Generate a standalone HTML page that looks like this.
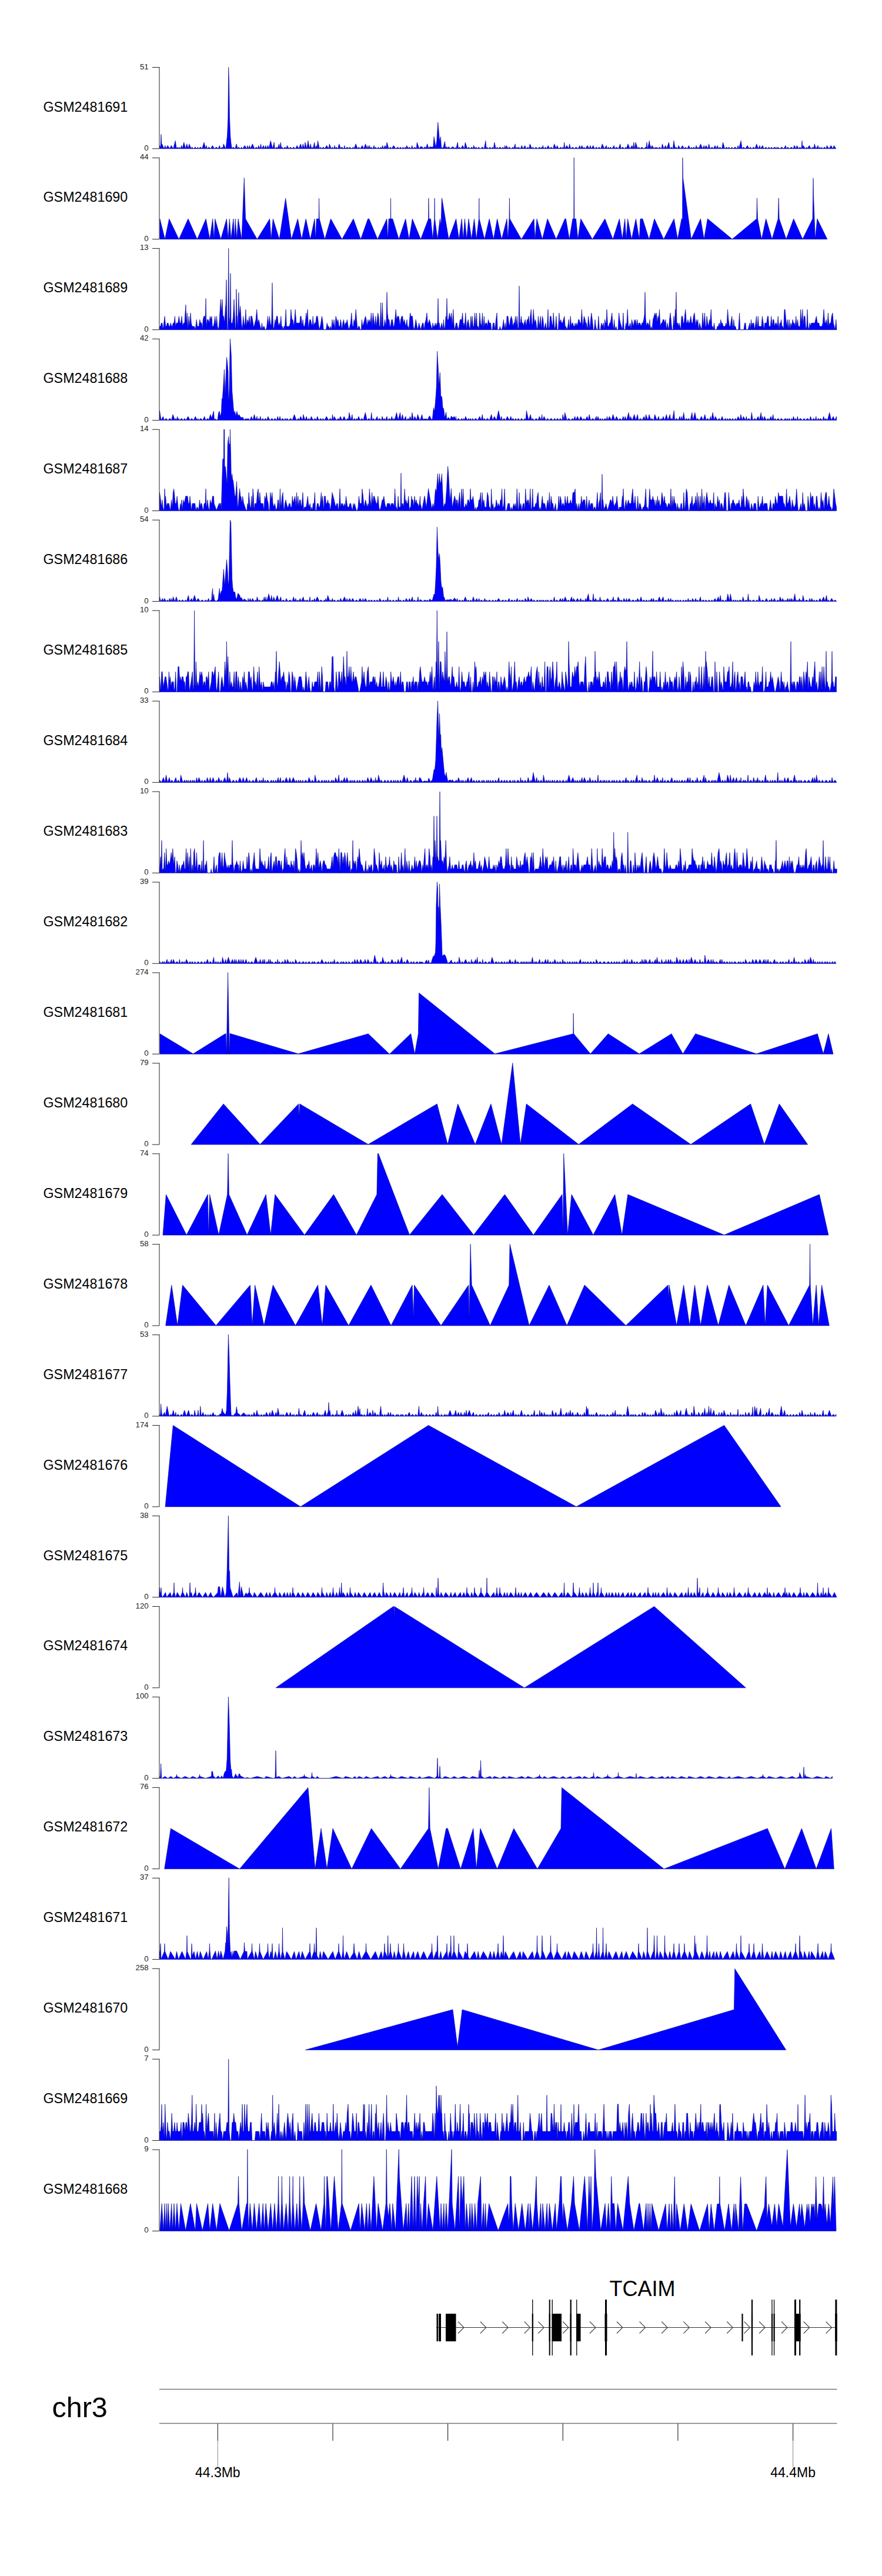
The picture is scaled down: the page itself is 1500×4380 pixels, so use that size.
<!DOCTYPE html><html><head><meta charset="utf-8"><style>html,body{margin:0;padding:0;background:#fff;}svg{display:block;}text{font-family:"Liberation Sans",sans-serif;}</style></head><body>
<svg width="1500" height="4380" viewBox="0 0 1500 4380">
<rect width="1500" height="4380" fill="#fff"/>
<path d="M271.5,252.8 L271.5,247.4 L273.0,250.6 L274.0,228.4 L275.0,247.4 L275.5,244.7 L279.0,252.8 L281.0,247.4 L282.2,252.8 L285.2,247.4 L288.7,252.8 L291.2,247.4 L294.7,252.8 L298.2,239.2 L300.2,252.8 L301.7,250.1 L303.2,252.8 L304.7,250.1 L306.7,252.8 L308.7,247.4 L310.2,252.8 L312.7,242.0 L315.7,252.8 L317.7,244.7 L320.2,252.8 L321.7,244.7 L325.2,252.8 L326.4,250.1 L329.4,252.8 L331.9,250.1 L334.9,252.8 L336.4,250.1 L337.6,252.8 L341.1,250.1 L343.6,252.8 L347.1,242.0 L349.6,252.8 L351.1,247.4 L352.3,252.8 L355.3,250.1 L358.3,252.8 L361.3,247.4 L364.8,252.8 L367.8,250.1 L371.3,252.8 L373.3,247.4 L375.3,252.8 L377.8,250.1 L379.0,252.8 L380.2,244.7 L383.7,252.8 L384.0,252.8 L385.5,240.0 L386.5,231.0 L387.8,201.0 L388.7,114.5 L389.6,140.0 L390.5,201.0 L391.8,232.0 L393.0,244.0 L394.5,252.8 L396.7,250.1 L399.7,252.8 L402.2,244.7 L404.2,252.8 L405.7,250.1 L408.7,252.8 L410.7,250.1 L412.7,252.8 L416.2,247.4 L419.7,252.8 L420.9,247.4 L422.4,252.8 L424.4,247.4 L425.9,252.8 L429.4,244.7 L432.9,252.8 L435.9,250.1 L438.4,252.8 L439.6,247.4 L442.1,252.8 L443.6,244.7 L444.8,252.8 L448.3,247.4 L449.5,252.8 L452.0,247.4 L453.2,252.8 L455.7,247.4 L457.2,252.8 L460.2,239.2 L463.7,252.8 L466.2,242.0 L467.4,252.8 L470.9,250.1 L472.1,252.8 L474.6,244.7 L475.8,252.8 L477.3,242.0 L478.8,252.8 L480.0,250.1 L481.5,252.8 L485.0,250.1 L487.0,252.8 L488.2,247.4 L491.7,252.8 L494.2,250.1 L496.7,252.8 L499.2,250.1 L502.7,252.8 L505.2,247.4 L508.2,252.8 L511.2,244.7 L513.7,252.8 L515.2,244.7 L517.7,252.8 L518.9,242.0 L521.9,252.8 L523.9,239.2 L526.4,252.8 L528.4,244.7 L529.6,252.8 L531.1,250.1 L532.3,252.8 L534.8,242.0 L536.0,252.8 L538.0,247.4 L539.2,252.8 L540.4,239.2 L543.4,252.8 L545.4,250.1 L546.6,252.8 L550.1,250.1 L552.1,252.8 L555.6,247.4 L559.1,252.8 L560.3,244.7 L563.3,252.8 L565.3,250.1 L567.8,252.8 L569.0,247.4 L570.5,252.8 L571.7,250.1 L574.7,252.8 L576.7,244.7 L579.7,252.8 L581.2,250.1 L584.7,252.8 L585.9,247.4 L587.1,252.8 L590.6,250.1 L593.1,252.8 L594.6,250.1 L598.1,252.8 L600.6,250.1 L602.1,252.8 L605.1,244.7 L608.1,252.8 L610.1,250.1 L612.6,252.8 L616.1,247.4 L618.6,252.8 L621.6,244.7 L624.6,252.8 L625.8,247.4 L627.3,252.8 L628.5,247.4 L630.0,252.8 L631.2,250.1 L633.7,252.8 L636.2,247.4 L637.4,252.8 L638.6,250.1 L641.1,252.8 L643.6,250.1 L645.1,252.8 L647.6,250.1 L648.8,252.8 L650.8,247.4 L652.0,252.8 L655.0,247.4 L656.5,252.8 L658.0,242.0 L661.0,252.8 L664.0,250.1 L666.0,252.8 L669.5,247.4 L673.0,252.8 L676.5,250.1 L679.0,252.8 L681.0,250.1 L683.5,252.8 L685.5,250.1 L687.5,252.8 L689.0,250.1 L690.2,252.8 L691.7,247.4 L694.7,252.8 L695.9,250.1 L699.4,252.8 L700.6,247.4 L702.6,252.8 L705.6,250.1 L708.1,252.8 L709.3,242.0 L712.8,252.8 L715.0,249.4 L717.7,249.4 L720.4,252.4 L722.5,249.4 L724.5,252.1 L726.6,244.6 L728.9,252.1 L731.3,249.4 L733.4,250.1 L735.4,250.1 L736.8,249.4 L738.0,232.4 L741.2,250.7 L742.9,238.5 L744.8,207.9 L747.0,233.1 L748.0,241.2 L749.4,232.4 L750.4,249.4 L752.1,252.1 L754.1,250.1 L756.4,240.5 L757.9,251.4 L759.6,249.4 L761.3,252.1 L763.0,249.4 L766.0,252.4 L769.8,249.4 L773.5,252.1 L775.0,250.7 L775.7,252.8 L778.2,242.0 L779.7,252.8 L781.7,250.1 L783.7,252.8 L786.7,247.4 L789.7,252.8 L791.2,242.0 L794.7,252.8 L797.2,250.1 L799.2,252.8 L802.2,250.1 L804.2,252.8 L805.7,247.4 L808.2,252.8 L809.4,250.1 L812.4,252.8 L813.9,250.1 L816.9,252.8 L820.4,250.1 L823.4,252.8 L825.9,239.2 L827.1,252.8 L828.3,250.1 L830.8,252.8 L833.3,250.1 L835.8,252.8 L837.3,250.1 L839.3,252.8 L840.8,242.0 L843.3,252.8 L845.8,250.1 L847.0,252.8 L850.5,250.1 L853.5,252.8 L855.0,250.1 L857.5,252.8 L858.7,247.4 L859.9,252.8 L861.4,247.4 L863.9,252.8 L865.9,250.1 L869.4,252.8 L872.4,250.1 L873.6,252.8 L876.1,244.7 L877.3,252.8 L879.3,250.1 L880.5,252.8 L881.7,250.1 L885.2,252.8 L887.2,247.4 L889.7,252.8 L892.7,247.4 L894.7,252.8 L897.7,250.1 L899.7,252.8 L901.2,244.7 L904.7,252.8 L906.2,250.1 L908.7,252.8 L911.7,250.1 L914.2,252.8 L917.7,250.1 L919.2,252.8 L920.7,250.1 L921.9,252.8 L923.1,247.4 L925.1,252.8 L927.6,250.1 L929.6,252.8 L932.1,247.4 L935.1,252.8 L937.1,250.1 L940.6,252.8 L942.6,244.7 L946.1,252.8 L947.3,247.4 L950.3,252.8 L953.8,250.1 L955.8,252.8 L957.3,250.1 L958.5,252.8 L959.7,242.0 L960.9,252.8 L963.9,247.4 L967.4,252.8 L968.6,244.7 L970.6,252.8 L974.1,250.1 L976.6,252.8 L979.6,250.1 L983.1,252.8 L986.1,247.4 L987.3,252.8 L989.8,247.4 L991.8,252.8 L993.3,250.1 L995.8,252.8 L998.8,247.4 L1002.3,252.8 L1003.8,247.4 L1005.8,252.8 L1008.8,247.4 L1011.3,252.8 L1014.3,250.1 L1016.3,252.8 L1018.8,250.1 L1021.8,252.8 L1024.3,244.7 L1027.8,252.8 L1031.3,247.4 L1032.5,252.8 L1035.0,250.1 L1036.2,252.8 L1038.2,250.1 L1040.7,252.8 L1044.2,247.4 L1045.7,252.8 L1048.2,250.1 L1051.7,252.8 L1054.7,244.7 L1056.2,252.8 L1058.7,250.1 L1062.2,252.8 L1064.2,250.1 L1065.4,252.8 L1067.9,244.7 L1071.4,252.8 L1074.9,247.4 L1076.4,252.8 L1077.9,242.0 L1079.4,252.8 L1080.0,250.8 L1081.0,242.0 L1082.0,245.0 L1084.4,252.8 L1086.4,250.1 L1088.9,252.8 L1091.4,250.1 L1094.9,252.8 L1098.4,250.1 L1099.0,250.6 L1100.0,242.0 L1101.0,252.4 L1101.4,252.8 L1104.4,239.2 L1105.9,252.8 L1107.1,247.4 L1108.3,252.8 L1109.5,247.4 L1112.0,252.8 L1114.5,250.1 L1115.7,252.8 L1116.9,250.1 L1119.4,252.8 L1121.4,250.1 L1124.9,252.8 L1126.4,244.7 L1128.9,252.8 L1131.9,247.4 L1133.9,252.8 L1137.4,242.0 L1139.4,252.8 L1141.9,250.1 L1144.4,252.8 L1145.9,239.2 L1148.4,252.8 L1149.6,250.1 L1152.6,252.8 L1153.8,247.4 L1157.3,252.8 L1160.8,247.4 L1163.3,252.8 L1165.3,250.1 L1168.8,252.8 L1171.3,247.4 L1174.3,252.8 L1176.3,250.1 L1177.5,252.8 L1180.0,250.1 L1182.5,252.8 L1184.0,247.4 L1186.0,252.8 L1187.2,250.1 L1188.4,252.8 L1191.4,244.7 L1194.9,252.8 L1197.4,247.4 L1198.6,252.8 L1200.6,247.4 L1204.1,252.8 L1205.6,244.7 L1207.6,252.8 L1211.1,250.1 L1213.1,252.8 L1216.1,247.4 L1218.1,252.8 L1220.1,247.4 L1222.1,252.8 L1224.1,250.1 L1227.6,252.8 L1229.6,242.0 L1232.6,252.8 L1236.1,250.1 L1237.6,252.8 L1239.6,250.1 L1242.1,252.8 L1244.6,250.1 L1246.6,252.8 L1250.1,250.1 L1253.6,252.8 L1255.1,247.4 L1256.6,252.8 L1260.1,239.2 L1262.1,252.8 L1264.6,250.1 L1267.6,252.8 L1271.1,247.4 L1274.1,252.8 L1276.1,250.1 L1278.6,252.8 L1281.6,250.1 L1284.1,252.8 L1286.6,244.7 L1289.6,252.8 L1292.1,247.4 L1293.3,252.8 L1296.8,247.4 L1299.3,252.8 L1302.8,250.1 L1304.8,252.8 L1307.8,250.1 L1309.8,252.8 L1312.3,250.1 L1313.8,252.8 L1317.3,250.1 L1318.5,252.8 L1319.7,250.1 L1321.2,252.8 L1322.7,250.1 L1326.2,252.8 L1329.2,250.1 L1332.7,252.8 L1336.2,247.4 L1337.4,252.8 L1339.9,250.1 L1342.4,252.8 L1345.9,250.1 L1348.9,252.8 L1350.9,247.4 L1353.9,252.8 L1355.1,247.4 L1358.6,252.8 L1360.1,250.1 L1363.0,252.3 L1364.0,239.2 L1365.0,249.8 L1366.1,247.4 L1369.6,252.8 L1371.6,250.1 L1372.8,252.8 L1376.3,247.4 L1379.3,252.8 L1382.8,250.1 L1384.0,252.8 L1385.2,244.7 L1387.7,252.8 L1391.2,247.4 L1392.4,252.8 L1394.4,250.1 L1396.4,252.8 L1397.6,250.1 L1399.1,252.8 L1402.6,250.1 L1405.1,252.8 L1406.3,247.4 L1409.8,252.8 L1413.3,247.4 L1416.3,252.8 L1418.3,247.4 L1421.8,252.8 L1421.8,252.8Z" fill="#0000ff" stroke="#00008b" stroke-width="0.6" stroke-linejoin="round"/>
<path d="M259,114.50 H271.5 M271,114.50 V252.80 M259,252.80 H271" fill="none" stroke="#222" stroke-width="1"/>
<text x="252.6" y="117.5" font-size="13.2" text-anchor="end" fill="#222">51</text>
<text x="252.6" y="255.8" font-size="13.2" text-anchor="end" fill="#222">0</text>
<text x="73.5" y="189.5" font-size="23.3" fill="#000">GSM2481691</text>
<path d="M271.9,406.7 L271.9,372.1 L280.5,406.7 L287.7,372.1 L304.2,406.7 L320.0,372.1 L335.4,406.7 L350.2,372.1 L356.8,406.7 L361.7,372.1 L364.0,406.7 L365.7,372.1 L375.5,406.7 L385.4,372.1 L388.0,406.7 L390.3,372.1 L392.9,406.7 L396.9,372.1 L398.9,406.7 L400.2,372.1 L402.8,406.7 L405.1,372.1 L411.0,406.7 L415.3,302.4 L417.6,372.1 L437.3,406.7 L458.7,372.1 L461.0,406.7 L464.3,372.1 L475.1,406.7 L485.7,337.0 L495.5,406.7 L506.4,372.1 L513.0,406.7 L520.2,372.1 L527.8,406.7 L535.0,372.1 L536.6,406.7 L538.3,372.1 L542.2,372.1 L542.5,337.0 L543.2,372.1 L552.4,406.7 L562.6,372.1 L581.6,406.7 L601.0,372.1 L613.5,406.7 L625.7,372.1 L627.7,372.1 L642.1,406.7 L657.9,372.1 L659.6,406.7 L661.2,372.1 L664.2,372.1 L664.5,337.0 L664.8,372.1 L667.8,372.1 L678.3,406.7 L689.8,372.1 L695.7,406.7 L701.3,372.1 L715.5,406.7 L728.6,372.1 L728.9,337.0 L729.6,372.1 L732.6,372.1 L735.9,406.7 L738.8,372.1 L739.1,337.0 L739.5,372.1 L744.1,406.7 L748.3,372.1 L750.0,383.7 L751.3,337.0 L751.6,337.0 L763.1,406.7 L775.6,372.1 L780.6,406.7 L785.2,372.1 L787.8,406.7 L790.4,372.1 L793.7,406.7 L797.0,372.1 L801.9,406.7 L806.5,372.1 L810.2,406.7 L814.4,372.1 L814.8,337.0 L815.1,372.1 L824.0,406.7 L832.2,372.1 L839.4,406.7 L845.6,372.1 L853.2,406.7 L862.1,372.1 L863.7,406.7 L866.0,372.1 L866.4,337.0 L867.0,372.1 L886.7,406.7 L908.1,372.1 L909.8,406.7 L913.0,372.1 L922.3,406.7 L931.1,372.1 L945.9,406.7 L960.7,372.1 L962.4,372.1 L968.3,406.7 L973.9,372.1 L975.8,372.1 L976.2,267.9 L976.8,372.1 L979.5,372.1 L982.8,406.7 L987.7,372.1 L1007.4,406.7 L1028.8,372.1 L1042.3,406.7 L1053.4,372.1 L1058.4,406.7 L1062.7,372.1 L1065.0,406.7 L1067.6,372.1 L1074.2,406.7 L1081.4,372.1 L1087.3,406.7 L1089.0,372.1 L1092.9,372.1 L1103.8,406.7 L1113.0,372.1 L1128.7,406.7 L1146.3,371.9 L1152.4,406.6 L1159.2,371.9 L1160.6,371.9 L1160.9,268.1 L1161.6,302.8 L1175.5,406.6 L1191.5,371.9 L1197.3,406.6 L1203.4,371.9 L1245.3,406.6 L1286.8,371.9 L1287.4,336.8 L1288.5,371.9 L1295.3,406.6 L1302.7,371.9 L1313.0,406.6 L1323.2,371.9 L1324.2,336.8 L1325.2,371.9 L1337.1,406.6 L1349.7,371.9 L1365.0,406.6 L1382.0,371.9 L1383.0,302.8 L1383.7,336.8 L1386.4,406.6 L1389.8,371.9 L1406.8,406.6 L1406.8,406.7Z" fill="#0000ff" stroke="#00008b" stroke-width="0.6" stroke-linejoin="round"/>
<path d="M259,268.44 H271.5 M271,268.44 V406.74 M259,406.74 H271" fill="none" stroke="#222" stroke-width="1"/>
<text x="252.6" y="271.4" font-size="13.2" text-anchor="end" fill="#222">44</text>
<text x="252.6" y="409.7" font-size="13.2" text-anchor="end" fill="#222">0</text>
<text x="73.5" y="343.4" font-size="23.3" fill="#000">GSM2481690</text>
<path d="M271.5,560.7 L271.5,554.9 L273.0,554.9 L274.5,549.2 L275.8,549.2 L277.3,560.7 L278.7,549.2 L280.1,537.7 L281.7,554.9 L282.9,554.9 L284.5,549.2 L286.0,549.2 L287.4,554.9 L288.8,554.9 L290.3,549.2 L291.8,554.9 L292.9,554.9 L294.5,549.2 L296.0,549.2 L297.4,537.7 L298.5,554.9 L300.0,549.2 L301.4,549.2 L302.7,549.2 L304.4,537.7 L305.9,549.2 L307.6,549.2 L309.1,537.7 L310.6,554.9 L312.2,549.2 L313.9,549.2 L315.0,531.0 L316.0,518.1 L317.0,551.1 L318.4,532.0 L319.6,560.7 L321.2,537.7 L322.6,554.9 L324.1,532.0 L325.3,549.2 L326.8,554.9 L328.1,554.9 L329.5,554.9 L330.6,554.9 L331.8,560.7 L332.9,554.9 L334.2,543.4 L335.6,554.9 L336.7,554.9 L338.3,554.9 L339.7,543.4 L341.3,549.2 L343.0,549.2 L344.2,560.7 L345.3,543.4 L346.7,537.7 L348.4,537.7 L349.0,547.9 L350.0,507.5 L351.0,555.0 L351.0,554.9 L352.5,543.4 L354.2,543.4 L355.9,549.2 L357.3,537.7 L358.6,543.4 L360.1,537.7 L361.2,554.9 L362.9,554.9 L364.3,549.2 L365.7,537.7 L367.4,554.9 L368.5,537.7 L369.9,554.9 L371.0,560.7 L372.5,554.9 L373.9,532.0 L375.3,509.0 L376.4,532.0 L378.0,509.0 L379.1,537.7 L380.5,537.7 L381.9,549.2 L383.6,520.5 L384.0,517.4 L385.0,475.6 L386.0,540.5 L386.6,560.7 L387.7,560.7 L388.7,422.4 L389.7,538.0 L390.9,549.2 L391.0,549.2 L392.0,464.9 L393.0,549.2 L393.7,549.2 L395.4,549.2 L396.7,537.7 L398.0,509.0 L399.2,537.7 L400.4,560.7 L401.0,555.9 L402.0,491.5 L403.0,540.1 L403.3,537.7 L404.4,560.7 L405.9,497.5 L407.0,537.7 L408.7,520.5 L410.5,549.2 L412.2,560.7 L413.6,537.7 L414.9,549.2 L416.3,554.9 L417.9,526.2 L419.1,554.9 L420.7,543.4 L422.3,549.2 L424.0,537.7 L425.5,554.9 L426.6,537.7 L428.3,537.7 L429.5,543.4 L431.2,554.9 L432.3,554.9 L433.5,549.2 L435.1,543.4 L436.7,526.2 L438.4,549.2 L440.1,543.4 L441.3,549.2 L442.5,554.9 L444.1,560.7 L445.5,549.2 L446.8,560.7 L448.2,554.9 L449.3,554.9 L450.8,560.7 L452.4,560.7 L453.8,554.9 L455.5,537.7 L457.0,554.9 L458.3,537.7 L459.7,549.2 L461.3,554.9 L462.0,542.1 L463.0,480.9 L464.0,540.4 L465.0,560.7 L466.4,554.9 L467.9,543.4 L469.0,549.2 L470.3,537.7 L471.9,537.7 L473.5,554.9 L475.0,549.2 L476.3,554.9 L477.8,537.7 L479.0,554.9 L480.2,554.9 L481.5,560.7 L483.0,554.9 L484.6,554.9 L486.2,526.2 L487.3,554.9 L489.1,554.9 L490.3,554.9 L492.0,554.9 L493.6,549.2 L494.8,526.2 L496.5,543.4 L498.0,543.4 L499.7,554.9 L500.9,543.4 L502.2,526.2 L503.9,549.2 L505.0,549.2 L506.5,549.2 L508.1,549.2 L509.8,549.2 L510.9,537.7 L512.1,537.7 L513.8,554.9 L515.0,543.4 L516.4,554.9 L517.9,554.9 L519.1,549.2 L520.8,532.0 L521.9,543.4 L523.2,526.2 L524.5,560.7 L525.8,549.2 L526.9,543.4 L528.2,543.4 L529.4,549.2 L530.9,554.9 L532.2,537.7 L533.5,554.9 L535.0,549.2 L536.7,549.2 L538.3,537.7 L540.0,537.7 L541.5,549.2 L542.9,560.7 L544.6,554.9 L545.8,549.2 L547.4,537.7 L548.5,543.4 L550.3,560.7 L551.7,560.7 L553.4,560.7 L554.5,560.7 L556.2,549.2 L557.5,554.9 L559.2,554.9 L560.3,560.7 L562.0,554.9 L563.6,560.7 L565.0,543.4 L566.6,554.9 L568.0,543.4 L569.7,560.7 L571.1,537.7 L572.6,543.4 L573.9,549.2 L574.9,543.4 L576.4,554.9 L578.1,554.9 L579.2,543.4 L580.3,549.2 L581.4,560.7 L583.0,549.2 L584.5,543.4 L586.0,554.9 L587.4,549.2 L589.1,549.2 L590.4,543.4 L592.1,554.9 L593.3,560.7 L594.9,554.9 L596.4,549.2 L597.9,532.0 L599.4,554.9 L600.7,554.9 L602.1,543.4 L603.6,549.2 L605.2,526.2 L606.5,543.4 L608.0,560.7 L609.7,554.9 L611.2,554.9 L612.6,560.7 L614.3,560.7 L615.4,543.4 L616.8,554.9 L618.6,549.2 L619.9,543.4 L621.6,537.7 L622.9,543.4 L624.1,554.9 L625.9,543.4 L627.2,549.2 L628.6,543.4 L630.0,549.2 L631.3,532.0 L632.9,554.9 L634.3,532.0 L635.8,543.4 L637.3,554.9 L638.8,537.7 L640.1,554.9 L641.5,543.4 L642.7,532.0 L643.8,537.7 L645.2,554.9 L646.4,554.9 L647.6,514.7 L648.8,560.7 L650.3,514.7 L651.6,554.9 L653.1,554.9 L654.4,543.4 L656.2,554.9 L657.0,544.0 L658.0,496.8 L659.0,532.6 L660.3,543.4 L661.7,543.4 L663.1,554.9 L664.2,554.9 L666.0,543.4 L667.4,543.4 L669.0,554.9 L670.3,554.9 L671.7,543.4 L673.2,526.2 L674.5,543.4 L676.2,537.7 L677.9,537.7 L679.1,543.4 L680.4,554.9 L681.5,543.4 L683.2,537.7 L684.6,537.7 L686.2,549.2 L687.8,543.4 L688.8,549.2 L690.3,554.9 L692.0,543.4 L693.1,554.9 L694.1,554.9 L695.3,560.7 L696.5,543.4 L697.7,532.0 L698.9,537.7 L700.1,537.7 L701.5,537.7 L702.9,554.9 L704.5,560.7 L705.7,554.9 L707.1,543.4 L708.3,549.2 L710.0,560.7 L711.6,554.9 L712.6,549.2 L714.0,554.9 L715.5,560.7 L716.9,554.9 L718.6,549.2 L719.8,549.2 L721.2,560.7 L722.8,549.2 L724.4,543.4 L726.0,532.0 L727.3,549.2 L728.7,549.2 L730.3,543.4 L731.8,549.2 L733.2,554.9 L734.5,560.7 L736.0,549.2 L737.2,554.9 L738.8,554.9 L740.2,549.2 L741.6,554.9 L743.3,549.2 L744.0,554.6 L745.0,507.5 L746.0,549.2 L747.1,549.2 L748.6,560.7 L749.9,554.9 L751.4,549.2 L753.1,560.7 L754.5,543.4 L755.6,560.7 L757.0,554.9 L758.1,537.7 L759.0,544.5 L760.0,507.5 L761.0,544.5 L761.3,543.4 L762.7,543.4 L764.4,532.0 L766.0,543.4 L767.7,532.0 L769.2,554.9 L770.8,526.2 L771.9,549.2 L773.0,560.7 L774.5,554.9 L775.6,549.2 L777.0,549.2 L778.1,554.9 L779.5,560.7 L780.7,554.9 L782.4,543.4 L784.1,543.4 L785.2,543.4 L786.7,532.0 L787.8,554.9 L788.9,549.2 L790.2,554.9 L791.8,532.0 L793.5,560.7 L794.7,549.2 L796.3,543.4 L797.9,554.9 L799.3,560.7 L800.9,537.7 L802.1,554.9 L803.2,537.7 L804.5,554.9 L805.9,554.9 L807.6,532.0 L809.0,554.9 L810.4,532.0 L811.5,554.9 L813.0,554.9 L814.4,560.7 L815.8,532.0 L817.3,549.2 L818.9,554.9 L820.5,532.0 L821.8,560.7 L823.3,537.7 L824.4,554.9 L825.9,549.2 L827.7,549.2 L829.0,554.9 L830.4,543.4 L832.0,549.2 L833.3,549.2 L834.5,549.2 L835.8,560.7 L837.3,560.7 L838.5,549.2 L840.2,549.2 L841.9,560.7 L843.5,543.4 L845.1,532.0 L846.2,560.7 L847.3,560.7 L848.8,560.7 L850.4,554.9 L852.0,560.7 L853.2,560.7 L854.8,554.9 L856.4,543.4 L857.9,560.7 L859.3,549.2 L860.7,560.7 L862.1,537.7 L863.9,537.7 L865.3,549.2 L866.8,554.9 L867.9,543.4 L869.6,537.7 L871.1,543.4 L872.3,554.9 L873.9,549.2 L875.1,549.2 L876.7,537.7 L877.8,554.9 L879.2,537.7 L881.0,560.7 L882.0,556.1 L883.0,486.2 L884.0,549.2 L885.2,549.2 L886.4,537.7 L887.7,549.2 L889.4,549.2 L890.5,554.9 L891.5,549.2 L893.2,543.4 L895.0,554.9 L896.5,543.4 L897.9,543.4 L899.0,537.7 L900.7,554.9 L901.8,537.7 L903.3,526.2 L904.7,554.9 L905.9,549.2 L907.2,526.2 L908.8,549.2 L910.5,543.4 L911.8,549.2 L913.2,560.7 L914.3,554.9 L915.4,537.7 L916.8,554.9 L917.9,549.2 L919.2,537.7 L920.7,560.7 L922.4,537.7 L923.7,543.4 L925.2,560.7 L926.4,554.9 L927.9,549.2 L929.3,560.7 L930.6,554.9 L932.0,526.2 L933.1,560.7 L934.4,554.9 L935.5,537.7 L937.1,537.7 L938.6,549.2 L940.1,554.9 L941.1,532.0 L942.8,554.9 L944.2,560.7 L945.9,537.7 L947.6,560.7 L949.3,560.7 L950.9,532.0 L952.1,549.2 L953.7,543.4 L955.3,549.2 L956.7,549.2 L958.3,543.4 L959.8,537.7 L961.1,554.9 L962.4,554.9 L964.0,560.7 L965.7,554.9 L967.2,543.4 L968.4,560.7 L970.2,537.7 L971.6,554.9 L973.0,549.2 L974.1,549.2 L975.6,554.9 L976.9,554.9 L978.2,549.2 L979.3,554.9 L981.0,549.2 L982.3,554.9 L983.6,543.4 L985.0,543.4 L986.5,549.2 L988.1,549.2 L989.4,526.2 L990.9,554.9 L992.0,549.2 L993.3,537.7 L995.0,543.4 L996.1,549.2 L997.3,549.2 L998.9,560.7 L1000.6,537.7 L1002.0,549.2 L1003.2,560.7 L1004.6,543.4 L1005.8,532.0 L1007.3,543.4 L1009.0,560.7 L1010.5,560.7 L1012.0,543.4 L1013.3,554.9 L1015.0,560.7 L1016.5,560.7 L1017.9,537.7 L1019.4,560.7 L1021.1,560.7 L1022.8,549.2 L1024.6,554.9 L1026.1,549.2 L1027.5,560.7 L1028.6,543.4 L1029.8,549.2 L1030.9,549.2 L1032.0,526.2 L1033.6,554.9 L1035.3,554.9 L1036.7,549.2 L1037.8,549.2 L1039.1,543.4 L1040.8,532.0 L1041.9,549.2 L1043.5,560.7 L1044.5,543.4 L1046.1,560.7 L1047.7,554.9 L1049.3,560.7 L1051.0,560.7 L1052.6,532.0 L1053.9,543.4 L1055.1,549.2 L1056.8,554.9 L1058.5,560.7 L1059.9,532.0 L1061.3,560.7 L1063.0,560.7 L1064.6,549.2 L1065.7,554.9 L1067.2,526.2 L1068.6,554.9 L1070.2,554.9 L1071.8,549.2 L1073.3,560.7 L1074.4,543.4 L1075.8,549.2 L1077.4,554.9 L1078.8,543.4 L1079.9,549.2 L1081.0,543.4 L1082.3,554.9 L1083.7,543.4 L1085.2,554.9 L1086.3,549.2 L1087.4,549.2 L1088.5,549.2 L1090.1,554.9 L1091.9,549.2 L1093.2,549.2 L1094.8,543.4 L1096.0,535.5 L1097.0,496.8 L1098.0,540.7 L1099.4,554.9 L1100.9,549.2 L1102.2,549.2 L1103.9,554.9 L1105.0,543.4 L1106.2,560.7 L1107.4,554.9 L1108.9,560.7 L1110.5,543.4 L1112.3,537.7 L1113.9,532.0 L1115.2,537.7 L1116.5,532.0 L1117.6,549.2 L1119.0,537.7 L1120.2,543.4 L1121.5,526.2 L1122.9,554.9 L1124.6,549.2 L1126.1,549.2 L1127.5,543.4 L1129.1,543.4 L1130.2,549.2 L1131.9,543.4 L1133.3,560.7 L1134.8,549.2 L1135.9,554.9 L1137.2,560.7 L1138.6,543.4 L1140.0,532.0 L1141.7,549.2 L1142.9,560.7 L1144.4,560.7 L1145.9,537.7 L1147.2,554.9 L1148.4,526.2 L1149.0,539.4 L1150.0,496.8 L1151.0,549.9 L1151.2,549.2 L1152.5,549.2 L1153.7,554.9 L1155.0,549.2 L1156.3,554.9 L1157.6,560.7 L1159.2,537.7 L1160.7,537.7 L1162.0,549.2 L1163.3,549.2 L1164.4,537.7 L1165.8,526.2 L1167.4,549.2 L1168.6,549.2 L1170.0,543.4 L1171.2,549.2 L1172.5,549.2 L1173.8,543.4 L1174.8,537.7 L1176.4,549.2 L1178.0,549.2 L1179.4,537.7 L1181.1,532.0 L1182.9,554.9 L1184.2,543.4 L1185.5,549.2 L1186.8,543.4 L1188.0,560.7 L1189.7,549.2 L1191.4,554.9 L1192.5,560.7 L1193.8,554.9 L1195.0,532.0 L1196.7,554.9 L1198.4,532.0 L1199.8,554.9 L1200.9,554.9 L1202.0,537.7 L1203.5,549.2 L1205.2,554.9 L1206.4,543.4 L1207.6,549.2 L1209.3,526.2 L1210.6,554.9 L1212.0,554.9 L1213.1,560.7 L1214.4,549.2 L1216.1,560.7 L1217.3,560.7 L1218.5,560.7 L1220.0,554.9 L1221.7,554.9 L1223.1,549.2 L1224.6,554.9 L1225.7,543.4 L1226.9,549.2 L1228.5,549.2 L1230.0,554.9 L1231.6,554.9 L1233.3,554.9 L1234.8,549.2 L1236.1,554.9 L1237.5,526.2 L1238.9,543.4 L1240.5,554.9 L1242.0,554.9 L1243.7,543.4 L1244.8,537.7 L1246.4,560.7 L1247.8,543.4 L1249.1,554.9 L1250.8,554.9 L1252.1,560.7 L1253.3,560.7 L1254.4,560.7 L1255.8,560.7 L1257.6,532.0 L1258.8,560.7 L1260.5,560.7 L1261.5,560.7 L1263.2,560.7 L1264.9,560.7 L1266.6,549.2 L1267.9,549.2 L1269.1,560.7 L1270.2,560.7 L1271.9,560.7 L1273.5,554.9 L1275.0,549.2 L1276.2,560.7 L1277.4,543.4 L1278.8,554.9 L1280.1,549.2 L1281.8,549.2 L1283.4,560.7 L1285.1,549.2 L1286.3,537.7 L1287.5,560.7 L1289.2,537.7 L1290.4,554.9 L1291.9,554.9 L1293.3,554.9 L1295.0,554.9 L1296.4,537.7 L1298.1,549.2 L1299.3,560.7 L1300.7,549.2 L1302.3,549.2 L1303.8,549.2 L1305.4,537.7 L1306.5,537.7 L1307.8,554.9 L1308.9,554.9 L1310.3,554.9 L1311.7,537.7 L1313.4,554.9 L1314.5,543.4 L1316.0,543.4 L1317.3,554.9 L1319.0,549.2 L1320.3,549.2 L1321.9,554.9 L1323.2,537.7 L1324.8,560.7 L1326.2,549.2 L1327.6,549.2 L1328.7,543.4 L1329.8,554.9 L1331.2,554.9 L1332.6,560.7 L1334.0,526.2 L1335.1,526.2 L1336.6,543.4 L1337.7,554.9 L1339.2,543.4 L1340.3,560.7 L1342.0,543.4 L1343.6,560.7 L1344.7,549.2 L1346.4,554.9 L1348.0,543.4 L1349.4,549.2 L1350.8,549.2 L1352.3,554.9 L1353.8,537.7 L1354.9,554.9 L1356.6,543.4 L1357.8,554.9 L1359.5,554.9 L1360.6,554.9 L1361.7,526.2 L1363.5,549.2 L1364.9,526.2 L1366.0,554.9 L1367.3,537.7 L1369.0,537.7 L1370.6,560.7 L1372.0,554.9 L1373.0,526.2 L1374.2,554.9 L1375.6,560.7 L1377.1,549.2 L1378.8,554.9 L1379.8,549.2 L1381.5,549.2 L1383.0,549.2 L1384.3,549.2 L1385.8,549.2 L1387.0,543.4 L1388.4,537.7 L1390.1,549.2 L1391.4,549.2 L1392.7,549.2 L1394.0,554.9 L1395.1,554.9 L1396.2,554.9 L1397.7,554.9 L1399.4,549.2 L1401.0,526.2 L1402.7,549.2 L1403.8,549.2 L1405.3,543.4 L1407.0,554.9 L1408.3,532.0 L1409.9,554.9 L1411.1,549.2 L1412.9,549.2 L1414.3,537.7 L1415.9,532.0 L1417.4,549.2 L1418.8,554.9 L1420.2,560.7 L1421.8,543.4 L1423.0,560.7 L1423.0,560.7Z" fill="#0000ff" stroke="#00008b" stroke-width="0.6" stroke-linejoin="round"/>
<path d="M259,422.38 H271.5 M271,422.38 V560.68 M259,560.68 H271" fill="none" stroke="#222" stroke-width="1"/>
<text x="252.6" y="425.4" font-size="13.2" text-anchor="end" fill="#222">13</text>
<text x="252.6" y="563.7" font-size="13.2" text-anchor="end" fill="#222">0</text>
<text x="73.5" y="497.3" font-size="23.3" fill="#000">GSM2481689</text>
<path d="M271.5,714.6 L271.5,698.2 L274.0,714.6 L277.5,708.0 L279.0,714.6 L282.5,711.3 L285.5,714.6 L289.0,711.3 L291.5,714.6 L294.0,704.7 L297.5,714.6 L298.7,711.3 L300.2,714.6 L301.7,708.0 L302.9,714.6 L304.1,711.3 L305.3,714.6 L308.8,711.3 L311.8,714.6 L313.8,711.3 L316.3,714.6 L319.8,708.0 L323.3,714.6 L325.8,711.3 L329.3,714.6 L332.3,708.0 L335.3,714.6 L336.8,711.3 L338.3,714.6 L341.3,711.3 L344.8,714.6 L347.8,708.0 L349.8,714.6 L353.3,711.3 L354.8,714.6 L357.8,704.7 L360.0,710.9 L363.4,699.0 L364.4,713.6 L366.5,712.2 L368.5,714.3 L370.2,712.9 L371.6,702.0 L373.3,699.0 L374.3,708.1 L376.3,702.0 L377.3,678.2 L378.4,676.8 L379.7,659.2 L381.4,628.2 L382.8,671.4 L385.5,607.5 L386.5,614.9 L387.9,631.3 L388.6,685.0 L389.9,663.2 L391.4,576.2 L392.3,588.4 L393.3,604.7 L394.7,664.6 L397.1,693.9 L398.1,702.0 L399.5,699.3 L400.8,707.5 L402.9,699.3 L404.9,707.5 L406.6,704.7 L408.0,707.5 L410.3,710.2 L413.4,709.5 L414.4,713.6 L416.5,712.9 L418.5,711.5 L420.0,712.9 L422.0,711.3 L425.0,714.6 L427.5,708.0 L430.0,714.6 L432.5,704.7 L435.0,714.6 L437.0,708.0 L438.2,714.6 L439.7,711.3 L440.9,714.6 L442.9,708.0 L444.1,714.6 L447.1,711.3 L448.6,714.6 L451.6,711.3 L454.1,714.6 L455.6,708.0 L459.1,714.6 L462.6,711.3 L465.1,714.6 L467.6,711.3 L470.6,714.6 L472.1,708.0 L474.1,714.6 L476.1,708.0 L477.6,714.6 L480.6,711.3 L483.1,714.6 L485.1,711.3 L486.6,714.6 L488.1,711.3 L491.1,714.6 L494.1,711.3 L497.1,714.6 L500.6,704.7 L504.1,714.6 L507.6,711.3 L509.1,714.6 L511.1,708.0 L514.6,714.6 L515.8,704.7 L518.8,714.6 L521.3,708.0 L522.8,714.6 L525.3,711.3 L527.3,714.6 L529.3,708.0 L532.8,714.6 L535.8,711.3 L537.8,714.6 L539.8,708.0 L542.3,714.6 L545.3,711.3 L547.8,714.6 L549.3,711.3 L551.8,714.6 L555.3,708.0 L558.8,714.6 L561.8,711.3 L564.3,714.6 L565.5,704.7 L567.0,714.6 L568.5,708.0 L572.0,714.6 L575.5,711.3 L576.7,714.6 L578.7,708.0 L582.2,714.6 L585.2,708.0 L588.2,714.6 L591.2,711.3 L592.4,714.6 L593.9,701.4 L596.9,714.6 L598.9,704.7 L600.1,714.6 L603.1,711.3 L604.6,714.6 L606.6,711.3 L607.8,714.6 L609.8,708.0 L612.8,714.6 L615.3,711.3 L617.8,714.6 L621.3,701.4 L624.3,714.6 L627.3,711.3 L630.3,714.6 L631.8,701.4 L633.0,714.6 L635.0,711.3 L638.0,714.6 L641.5,708.0 L642.7,714.6 L645.2,711.3 L648.7,714.6 L649.9,708.0 L652.4,714.6 L653.6,711.3 L655.1,714.6 L658.1,708.0 L659.3,714.6 L662.3,711.3 L664.3,714.6 L666.3,708.0 L668.3,714.6 L669.8,711.3 L671.0,714.6 L674.5,701.4 L677.0,714.6 L680.5,701.4 L682.0,714.6 L684.5,704.7 L686.5,714.6 L690.0,708.0 L691.2,714.6 L694.2,711.3 L695.4,714.6 L697.4,708.0 L699.4,714.6 L700.9,701.4 L703.4,714.6 L705.4,708.0 L708.4,714.6 L710.4,704.7 L713.9,714.6 L715.0,712.9 L717.7,704.7 L719.1,712.9 L722.5,712.2 L725.2,712.2 L727.2,713.6 L730.6,706.8 L733.7,713.6 L735.4,712.2 L737.4,693.2 L739.1,699.3 L741.5,670.0 L742.2,657.8 L743.6,597.3 L745.6,632.6 L746.6,657.1 L748.3,633.3 L749.7,672.8 L751.7,675.5 L753.1,693.9 L754.5,694.5 L756.5,710.9 L758.5,700.7 L759.9,712.9 L762.6,709.5 L765.3,713.6 L767.4,707.5 L770.1,710.2 L772.5,708.1 L775.0,712.9 L775.2,708.0 L776.4,714.6 L779.9,711.3 L782.4,714.6 L785.4,711.3 L787.4,714.6 L788.6,711.3 L789.8,714.6 L791.8,708.0 L794.8,714.6 L796.8,711.3 L798.3,714.6 L799.8,711.3 L802.3,714.6 L803.8,711.3 L805.8,714.6 L808.8,711.3 L812.3,714.6 L815.8,708.0 L818.3,714.6 L820.3,704.7 L821.8,714.6 L823.8,711.3 L825.8,714.6 L828.8,711.3 L832.3,714.6 L835.8,704.7 L837.8,714.6 L840.8,708.0 L844.3,714.6 L847.8,698.2 L851.3,714.6 L852.8,708.0 L854.3,714.6 L857.3,711.3 L859.8,714.6 L862.8,708.0 L866.3,714.6 L868.8,708.0 L870.8,714.6 L872.0,711.3 L875.5,714.6 L876.7,711.3 L879.7,714.6 L881.2,711.3 L884.7,714.6 L886.7,711.3 L890.2,714.6 L892.7,711.3 L894.2,714.6 L895.4,698.2 L898.9,714.6 L902.4,704.7 L903.9,714.6 L905.4,711.3 L908.9,714.6 L911.9,711.3 L914.9,714.6 L917.4,708.0 L920.4,714.6 L921.6,704.7 L922.8,714.6 L925.3,708.0 L928.3,714.6 L931.3,711.3 L933.8,714.6 L937.3,711.3 L940.8,714.6 L943.3,711.3 L945.8,714.6 L947.8,711.3 L951.3,714.6 L952.5,711.3 L956.0,714.6 L957.2,704.7 L959.2,714.6 L960.7,701.4 L964.2,714.6 L967.2,711.3 L970.7,714.6 L973.7,711.3 L974.9,714.6 L977.9,708.0 L979.1,714.6 L982.1,708.0 L985.1,714.6 L987.6,708.0 L991.1,714.6 L993.1,711.3 L995.1,714.6 L998.6,708.0 L1000.6,714.6 L1002.1,704.7 L1004.6,714.6 L1008.1,711.3 L1011.1,714.6 L1014.1,708.0 L1015.3,714.6 L1016.8,708.0 L1019.3,714.6 L1020.8,711.3 L1023.3,714.6 L1024.5,711.3 L1025.7,714.6 L1029.2,711.3 L1031.2,714.6 L1032.4,708.0 L1033.9,714.6 L1036.4,708.0 L1039.9,714.6 L1042.4,704.7 L1045.9,714.6 L1048.4,708.0 L1051.9,714.6 L1054.4,711.3 L1057.4,714.6 L1059.9,708.0 L1061.9,714.6 L1063.1,708.0 L1065.6,714.6 L1069.1,701.4 L1071.1,714.6 L1072.3,708.0 L1075.3,714.6 L1078.8,704.7 L1081.3,714.6 L1084.3,704.7 L1085.8,714.6 L1089.3,711.3 L1091.8,714.6 L1095.3,708.0 L1097.3,714.6 L1098.5,704.7 L1102.0,714.6 L1104.0,704.7 L1107.0,714.6 L1108.2,711.3 L1111.7,714.6 L1113.7,704.7 L1117.2,714.6 L1120.2,708.0 L1121.7,714.6 L1124.7,711.3 L1125.9,714.6 L1127.9,708.0 L1130.4,714.6 L1133.4,704.7 L1135.9,714.6 L1139.4,704.7 L1140.6,714.6 L1141.8,711.3 L1143.3,714.6 L1146.3,698.2 L1147.5,714.6 L1150.5,711.3 L1153.5,714.6 L1156.0,708.0 L1158.0,714.6 L1159.2,708.0 L1160.7,714.6 L1162.7,701.4 L1164.7,714.6 L1167.7,711.3 L1169.7,714.6 L1170.9,711.3 L1173.9,714.6 L1176.9,701.4 L1178.4,714.6 L1181.9,701.4 L1184.4,714.6 L1185.9,711.3 L1189.4,714.6 L1192.9,708.0 L1195.9,714.6 L1198.9,704.7 L1200.9,714.6 L1203.4,711.3 L1206.4,714.6 L1208.4,708.0 L1209.6,714.6 L1212.1,701.4 L1214.6,714.6 L1216.6,708.0 L1220.1,714.6 L1223.1,711.3 L1225.6,714.6 L1228.1,708.0 L1230.6,714.6 L1234.1,711.3 L1235.6,714.6 L1237.6,711.3 L1238.8,714.6 L1241.3,711.3 L1244.3,714.6 L1245.8,711.3 L1248.8,714.6 L1250.8,711.3 L1252.8,714.6 L1255.3,708.0 L1258.3,714.6 L1259.8,704.7 L1262.3,714.6 L1264.3,708.0 L1267.8,714.6 L1269.3,708.0 L1270.8,714.6 L1273.3,711.3 L1276.8,714.6 L1278.3,701.4 L1280.3,714.6 L1283.8,711.3 L1285.8,714.6 L1289.3,708.0 L1291.3,714.6 L1294.3,701.4 L1295.5,714.6 L1296.7,708.0 L1298.7,714.6 L1300.2,708.0 L1303.2,714.6 L1306.2,711.3 L1307.7,714.6 L1311.2,708.0 L1312.7,714.6 L1314.7,704.7 L1316.2,714.6 L1318.2,711.3 L1320.2,714.6 L1323.2,711.3 L1326.2,714.6 L1328.7,711.3 L1332.2,714.6 L1335.7,711.3 L1337.2,714.6 L1338.7,711.3 L1340.7,714.6 L1341.9,711.3 L1344.9,714.6 L1346.4,711.3 L1347.9,714.6 L1349.4,708.0 L1351.4,714.6 L1352.6,711.3 L1355.1,714.6 L1356.3,708.0 L1357.8,714.6 L1361.3,711.3 L1364.8,714.6 L1367.8,711.3 L1369.8,714.6 L1373.3,711.3 L1376.8,714.6 L1378.3,708.0 L1380.8,714.6 L1383.8,711.3 L1386.3,714.6 L1387.8,708.0 L1389.0,714.6 L1392.0,711.3 L1394.0,714.6 L1395.2,711.3 L1398.7,714.6 L1400.7,708.0 L1402.7,714.6 L1404.2,711.3 L1407.2,714.6 L1410.7,701.4 L1413.7,714.6 L1417.2,708.0 L1419.7,714.6 L1422.7,708.0 L1422.7,714.6Z" fill="#0000ff" stroke="#00008b" stroke-width="0.6" stroke-linejoin="round"/>
<path d="M259,576.32 H271.5 M271,576.32 V714.62 M259,714.62 H271" fill="none" stroke="#222" stroke-width="1"/>
<text x="252.6" y="579.3" font-size="13.2" text-anchor="end" fill="#222">42</text>
<text x="252.6" y="717.6" font-size="13.2" text-anchor="end" fill="#222">0</text>
<text x="73.5" y="651.3" font-size="23.3" fill="#000">GSM2481688</text>
<path d="M271.5,868.6 L271.5,837.4 L273.2,849.9 L274.4,862.3 L275.9,849.9 L277.0,862.3 L278.7,868.6 L279.0,867.1 L280.0,831.0 L281.0,852.0 L281.7,843.7 L283.1,862.3 L284.4,856.1 L285.9,856.1 L287.3,856.1 L288.5,862.3 L289.9,868.6 L291.4,849.9 L293.0,862.3 L294.4,837.4 L295.7,831.2 L296.9,843.7 L297.9,856.1 L299.6,856.1 L301.1,843.7 L302.8,862.3 L304.2,868.6 L305.5,868.6 L306.7,856.1 L307.8,862.3 L308.9,849.9 L310.1,868.6 L311.6,849.9 L313.1,856.1 L314.5,849.9 L315.7,843.7 L317.3,843.7 L319.0,843.7 L320.4,856.1 L321.9,856.1 L323.0,843.7 L324.2,856.1 L325.6,868.6 L327.0,856.1 L328.6,856.1 L329.9,856.1 L331.6,856.1 L333.3,868.6 L334.8,862.3 L336.0,862.3 L337.1,868.6 L338.3,862.3 L339.6,849.9 L340.7,862.3 L341.8,856.1 L343.0,856.1 L344.2,862.3 L345.6,868.6 L347.2,856.1 L348.6,856.1 L349.0,856.1 L350.0,831.0 L351.0,859.5 L351.6,862.3 L352.9,849.9 L354.4,862.3 L356.1,868.6 L357.4,849.9 L359.1,856.1 L360.0,855.3 L361.4,843.8 L363.4,843.8 L364.1,856.0 L368.2,867.6 L372.9,855.3 L373.9,859.4 L375.3,855.3 L376.3,868.3 L377.3,830.8 L378.7,781.2 L380.4,779.1 L380.7,730.2 L381.8,730.2 L382.1,793.4 L383.5,793.4 L386.2,824.0 L387.2,755.3 L388.6,742.4 L389.3,755.3 L391.0,755.3 L391.4,730.2 L392.7,779.1 L393.3,813.8 L394.7,805.7 L395.4,813.8 L396.7,818.6 L398.1,830.8 L399.5,844.4 L400.8,843.1 L402.5,818.6 L404.2,861.5 L404.9,861.5 L407.6,830.8 L409.0,844.4 L410.0,844.4 L411.4,856.7 L412.7,843.8 L414.4,855.3 L418.5,867.6 L420.0,867.6 L420.8,856.1 L422.0,862.3 L423.1,837.4 L424.2,849.9 L425.3,862.3 L426.7,862.3 L427.8,843.7 L429.0,867.0 L430.0,831.0 L431.0,841.1 L432.1,868.6 L433.4,856.1 L434.6,856.1 L436.2,856.1 L437.8,837.4 L439.2,831.2 L440.4,856.1 L441.9,837.4 L443.3,856.1 L444.9,856.1 L446.0,856.1 L447.3,856.1 L448.9,868.6 L450.2,843.7 L451.8,849.9 L453.1,837.4 L454.7,849.9 L456.2,856.1 L457.3,868.6 L458.4,868.6 L459.8,837.4 L461.2,849.9 L462.8,837.4 L464.1,856.1 L465.8,862.3 L467.3,856.1 L468.5,862.3 L469.8,868.6 L471.4,862.3 L472.6,849.9 L473.7,849.9 L475.1,868.6 L476.4,831.2 L477.5,862.3 L478.6,856.1 L479.8,843.7 L481.1,837.4 L482.3,862.3 L483.3,868.6 L484.5,856.1 L486.0,849.9 L487.2,856.1 L488.9,862.3 L490.1,862.3 L491.8,856.1 L493.2,856.1 L494.3,862.3 L495.9,862.3 L497.3,843.7 L498.5,856.1 L500.1,849.9 L501.7,843.7 L503.1,862.3 L504.5,837.4 L505.7,862.3 L506.9,843.7 L508.0,862.3 L509.5,849.9 L510.9,849.9 L512.4,862.3 L513.5,856.1 L515.0,837.4 L516.5,868.6 L517.7,862.3 L519.3,862.3 L520.5,862.3 L521.7,856.1 L523.3,843.7 L524.4,856.1 L526.1,862.3 L527.3,856.1 L528.9,868.6 L530.0,862.3 L531.3,868.6 L532.4,856.1 L534.1,856.1 L535.4,837.4 L536.6,868.6 L537.8,868.6 L539.5,856.1 L541.2,856.1 L542.3,862.3 L543.6,862.3 L544.7,856.1 L546.4,837.4 L547.6,856.1 L548.8,843.7 L550.5,868.6 L551.7,843.7 L553.4,843.7 L554.5,856.1 L556.1,856.1 L557.5,849.9 L558.6,856.1 L560.3,856.1 L561.6,868.6 L563.3,856.1 L565.0,837.4 L566.6,843.7 L568.2,849.9 L569.5,856.1 L571.1,862.3 L572.7,856.1 L574.0,856.1 L575.7,868.6 L576.8,856.1 L577.0,854.2 L578.0,831.0 L579.0,855.3 L579.6,862.3 L580.9,856.1 L582.6,856.1 L584.3,862.3 L585.7,856.1 L587.2,862.3 L588.5,843.7 L590.0,856.1 L591.3,862.3 L592.4,862.3 L593.5,862.3 L595.0,856.1 L596.6,856.1 L597.9,862.3 L599.5,868.6 L600.7,856.1 L601.9,862.3 L603.0,856.1 L604.7,862.3 L606.3,868.6 L607.4,868.6 L609.0,862.3 L610.4,843.7 L611.9,856.1 L613.3,856.1 L614.8,856.1 L615.9,831.2 L617.5,843.7 L619.1,862.3 L620.5,856.1 L621.6,849.9 L623.0,856.1 L624.7,862.3 L626.0,856.1 L627.1,862.3 L628.3,831.2 L629.8,849.9 L631.3,862.3 L632.6,837.4 L634.1,856.1 L635.4,843.7 L636.7,843.7 L638.2,849.9 L639.9,856.1 L641.4,856.1 L642.9,843.7 L644.5,862.3 L646.1,868.6 L647.6,862.3 L648.9,856.1 L650.0,849.9 L651.5,849.9 L652.9,843.7 L654.5,856.1 L656.0,862.3 L657.5,862.3 L658.6,856.1 L660.3,856.1 L661.5,856.1 L662.7,856.1 L664.2,862.3 L665.5,856.1 L667.0,856.1 L668.7,856.1 L670.4,862.3 L671.6,831.2 L673.2,862.3 L674.3,862.3 L675.7,868.6 L677.1,843.7 L678.4,862.3 L679.7,862.3 L681.0,862.3 L682.0,804.3 L683.0,863.0 L683.9,856.1 L685.1,856.1 L686.6,862.3 L688.2,831.2 L689.5,856.1 L690.6,849.9 L692.0,856.1 L693.3,856.1 L694.7,843.7 L696.3,868.6 L697.5,862.3 L698.6,862.3 L699.8,843.7 L700.9,849.9 L702.3,849.9 L703.7,862.3 L705.0,843.7 L706.6,856.1 L708.0,849.9 L709.1,856.1 L710.4,856.1 L712.0,862.3 L713.3,856.1 L714.5,843.7 L715.0,856.9 L717.7,867.1 L722.1,843.3 L725.2,863.0 L728.6,830.7 L730.6,843.3 L734.4,865.0 L736.4,856.2 L738.1,863.7 L740.5,831.0 L742.2,837.1 L744.3,805.5 L745.6,829.0 L747.3,805.5 L748.3,818.1 L749.7,822.2 L751.4,805.5 L754.1,863.7 L756.2,856.2 L757.5,858.9 L759.6,831.0 L761.6,792.9 L762.6,803.1 L765.3,852.1 L767.4,830.7 L769.1,863.0 L773.2,843.3 L775.0,850.7 L775.3,862.3 L776.4,849.9 L777.7,849.9 L778.9,862.3 L780.3,849.9 L781.7,837.4 L783.4,868.6 L785.0,831.2 L786.3,856.1 L787.7,831.2 L789.0,862.3 L790.6,862.3 L792.3,856.1 L794.1,862.3 L795.4,849.9 L797.0,849.9 L798.2,856.1 L799.0,853.0 L800.0,831.0 L801.0,849.9 L801.5,849.9 L803.0,849.9 L804.5,843.7 L805.9,856.1 L807.3,868.6 L808.7,862.3 L810.0,868.6 L811.6,862.3 L813.0,862.3 L814.4,849.9 L815.9,849.9 L817.4,837.4 L818.9,868.6 L820.0,837.4 L821.4,856.1 L823.0,849.9 L824.3,862.3 L825.7,862.3 L827.1,862.3 L828.9,837.4 L830.4,843.7 L831.9,862.3 L833.1,862.3 L834.6,868.6 L835.7,831.2 L836.9,862.3 L838.4,856.1 L840.0,868.6 L841.0,862.3 L842.6,862.3 L844.0,849.9 L845.5,856.1 L846.7,862.3 L847.8,856.1 L849.6,862.3 L851.1,849.9 L852.5,849.9 L853.6,831.2 L854.7,862.3 L855.8,862.3 L856.9,856.1 L858.1,831.2 L859.5,868.6 L861.2,868.6 L862.7,862.3 L863.9,856.1 L865.0,856.1 L866.4,856.1 L868.0,868.6 L869.6,862.3 L871.0,868.6 L872.3,862.3 L873.9,856.1 L875.6,862.3 L876.8,856.1 L877.8,868.6 L879.2,831.2 L880.8,862.3 L881.9,868.6 L883.0,837.4 L884.2,862.3 L885.9,856.1 L887.4,868.6 L888.4,862.3 L889.7,856.1 L891.2,856.1 L892.5,868.6 L893.7,831.2 L894.9,849.9 L896.2,856.1 L897.3,849.9 L898.6,849.9 L900.3,862.3 L901.8,831.2 L903.2,868.6 L904.6,862.3 L905.8,831.2 L907.0,862.3 L908.3,862.3 L909.5,862.3 L910.9,856.1 L912.6,856.1 L913.7,843.7 L915.2,837.4 L916.8,868.6 L918.3,862.3 L919.8,868.6 L920.9,856.1 L922.3,843.7 L923.5,856.1 L924.9,856.1 L926.4,856.1 L927.8,862.3 L929.0,868.6 L930.4,856.1 L931.7,849.9 L933.0,862.3 L934.4,837.4 L935.7,868.6 L937.2,843.7 L938.8,856.1 L940.4,856.1 L942.0,868.6 L943.5,862.3 L944.8,856.1 L946.2,868.6 L947.5,868.6 L949.0,862.3 L950.1,843.7 L951.4,862.3 L952.7,843.7 L954.3,849.9 L955.5,862.3 L956.7,856.1 L958.2,856.1 L959.8,862.3 L961.1,843.7 L962.6,856.1 L963.9,856.1 L965.1,843.7 L966.3,856.1 L967.7,856.1 L968.7,856.1 L970.4,849.9 L971.5,856.1 L972.8,856.1 L974.2,837.4 L975.3,837.4 L976.7,837.4 L978.2,831.2 L979.4,862.3 L980.6,856.1 L982.1,868.6 L983.6,856.1 L985.2,868.6 L986.4,856.1 L987.5,862.3 L988.6,843.7 L990.3,856.1 L992.0,849.9 L993.2,849.9 L994.6,849.9 L996.1,868.6 L997.7,843.7 L999.4,868.6 L1000.9,856.1 L1002.0,849.9 L1003.5,862.3 L1005.0,856.1 L1006.1,856.1 L1007.8,856.1 L1009.2,868.6 L1010.4,862.3 L1011.8,862.3 L1013.3,868.6 L1014.6,856.1 L1015.9,837.4 L1017.5,868.6 L1018.5,856.1 L1020.0,849.9 L1021.3,837.4 L1022.5,868.6 L1023.0,866.1 L1024.0,806.3 L1025.0,853.7 L1025.5,849.9 L1027.2,868.6 L1028.2,862.3 L1029.4,862.3 L1030.5,856.1 L1031.9,862.3 L1033.2,868.6 L1034.8,862.3 L1036.5,856.1 L1037.9,849.9 L1039.0,849.9 L1040.5,856.1 L1042.1,843.7 L1043.5,856.1 L1045.2,862.3 L1046.3,856.1 L1047.6,856.1 L1049.1,843.7 L1050.3,856.1 L1051.9,868.6 L1053.5,862.3 L1055.1,862.3 L1056.8,862.3 L1058.4,843.7 L1059.0,850.0 L1060.0,831.0 L1061.0,857.7 L1062.4,868.6 L1063.5,856.1 L1064.7,849.9 L1065.9,862.3 L1067.0,856.1 L1068.7,849.9 L1070.1,856.1 L1071.8,856.1 L1073.4,856.1 L1074.5,843.7 L1076.0,831.2 L1077.4,856.1 L1078.7,856.1 L1080.1,843.7 L1081.5,862.3 L1083.2,868.6 L1084.6,843.7 L1086.2,868.6 L1087.5,856.1 L1088.7,856.1 L1090.2,862.3 L1091.9,868.6 L1093.5,862.3 L1095.2,862.3 L1096.5,856.1 L1098.2,831.2 L1099.5,862.3 L1100.9,862.3 L1102.5,868.6 L1103.6,856.1 L1104.8,831.2 L1106.2,849.9 L1107.7,849.9 L1109.0,849.9 L1110.4,843.7 L1111.4,849.9 L1112.6,849.9 L1114.4,862.3 L1115.8,849.9 L1117.2,862.3 L1118.3,843.7 L1119.4,856.1 L1120.9,849.9 L1122.6,862.3 L1124.2,856.1 L1125.7,837.4 L1126.8,843.7 L1128.4,856.1 L1130.0,843.7 L1131.4,856.1 L1132.9,856.1 L1134.2,862.3 L1135.4,862.3 L1136.6,856.1 L1138.1,856.1 L1139.7,862.3 L1140.9,831.2 L1142.2,868.6 L1143.3,843.7 L1144.7,862.3 L1146.2,843.7 L1147.9,856.1 L1149.5,856.1 L1150.9,868.6 L1152.4,856.1 L1153.8,868.6 L1154.9,862.3 L1156.4,868.6 L1158.0,856.1 L1159.2,856.1 L1160.3,868.6 L1161.7,862.3 L1162.9,837.4 L1164.4,868.6 L1165.8,856.1 L1167.2,831.2 L1168.8,837.4 L1169.8,856.1 L1171.1,868.6 L1172.3,868.6 L1173.9,856.1 L1175.4,856.1 L1177.0,843.7 L1178.4,862.3 L1180.1,856.1 L1181.6,856.1 L1182.9,843.7 L1184.0,862.3 L1185.7,837.4 L1187.0,868.6 L1188.2,843.7 L1189.8,868.6 L1191.0,843.7 L1192.4,868.6 L1193.5,831.2 L1195.0,856.1 L1196.2,856.1 L1197.6,843.7 L1198.9,868.6 L1200.4,849.9 L1202.0,837.4 L1203.7,849.9 L1205.0,856.1 L1206.5,856.1 L1208.0,849.9 L1209.4,856.1 L1211.2,856.1 L1212.7,856.1 L1213.8,837.4 L1215.0,868.6 L1216.2,856.1 L1217.7,862.3 L1219.1,862.3 L1220.5,843.7 L1222.2,856.1 L1223.6,849.9 L1225.0,868.6 L1226.1,856.1 L1227.4,856.1 L1229.0,862.3 L1230.1,868.6 L1231.2,856.1 L1232.7,837.4 L1233.8,837.4 L1235.4,868.6 L1236.7,868.6 L1238.0,868.6 L1239.3,837.4 L1240.9,856.1 L1242.6,868.6 L1243.7,856.1 L1245.0,856.1 L1246.2,849.9 L1247.3,849.9 L1248.6,856.1 L1249.9,856.1 L1251.2,862.3 L1252.7,856.1 L1254.3,856.1 L1255.8,856.1 L1257.0,849.9 L1258.7,862.3 L1260.2,862.3 L1261.4,843.7 L1262.8,856.1 L1263.9,831.2 L1265.0,843.7 L1266.4,862.3 L1267.9,862.3 L1269.5,843.7 L1271.1,849.9 L1272.2,862.3 L1273.4,849.9 L1274.9,862.3 L1276.6,868.6 L1277.9,856.1 L1279.6,862.3 L1280.7,868.6 L1282.3,856.1 L1283.5,856.1 L1285.2,856.1 L1286.6,868.6 L1288.1,868.6 L1289.2,843.7 L1290.8,862.3 L1292.2,862.3 L1293.7,856.1 L1295.3,856.1 L1296.7,843.7 L1297.9,862.3 L1299.4,856.1 L1300.6,856.1 L1301.9,856.1 L1303.1,856.1 L1304.5,856.1 L1305.8,868.6 L1307.4,868.6 L1308.8,862.3 L1310.4,849.9 L1311.8,862.3 L1313.2,868.6 L1314.6,856.1 L1316.1,856.1 L1317.3,862.3 L1318.5,843.7 L1319.9,849.9 L1321.0,856.1 L1322.4,856.1 L1323.8,837.4 L1325.0,843.7 L1326.8,843.7 L1328.3,843.7 L1329.7,843.7 L1331.2,843.7 L1332.4,856.1 L1333.8,856.1 L1335.1,862.3 L1336.3,862.3 L1337.6,831.2 L1338.9,856.1 L1340.4,856.1 L1341.8,849.9 L1343.0,843.7 L1344.5,856.1 L1346.0,868.6 L1347.3,849.9 L1348.3,856.1 L1349.9,862.3 L1351.3,862.3 L1353.1,856.1 L1354.7,831.2 L1356.3,856.1 L1357.5,868.6 L1359.0,868.6 L1360.7,862.3 L1362.3,856.1 L1363.9,868.6 L1365.1,837.4 L1366.6,862.3 L1368.2,856.1 L1369.9,868.6 L1371.6,868.6 L1373.0,868.6 L1374.1,843.7 L1375.6,856.1 L1377.1,868.6 L1378.4,837.4 L1380.0,849.9 L1381.2,843.7 L1382.6,843.7 L1383.8,862.3 L1385.3,856.1 L1387.0,868.6 L1388.3,843.7 L1389.4,843.7 L1390.5,856.1 L1391.7,868.6 L1393.3,862.3 L1394.8,868.6 L1396.4,837.4 L1398.1,856.1 L1399.7,849.9 L1401.5,868.6 L1402.6,849.9 L1404.2,837.4 L1405.6,837.4 L1406.9,862.3 L1408.3,856.1 L1409.8,843.7 L1410.9,856.1 L1412.1,862.3 L1413.2,862.3 L1414.6,868.6 L1416.3,862.3 L1418.0,831.2 L1419.6,843.7 L1421.2,856.1 L1422.6,862.3 L1422.6,868.6Z" fill="#0000ff" stroke="#00008b" stroke-width="0.6" stroke-linejoin="round"/>
<path d="M259,730.26 H271.5 M271,730.26 V868.56 M259,868.56 H271" fill="none" stroke="#222" stroke-width="1"/>
<text x="252.6" y="733.3" font-size="13.2" text-anchor="end" fill="#222">14</text>
<text x="252.6" y="871.6" font-size="13.2" text-anchor="end" fill="#222">0</text>
<text x="73.5" y="805.2" font-size="23.3" fill="#000">GSM2481687</text>
<path d="M271.5,1022.5 L271.5,1014.8 L273.5,1022.5 L276.5,1017.4 L277.7,1022.5 L279.7,1017.4 L282.7,1022.5 L284.7,1019.9 L286.7,1022.5 L288.2,1017.4 L289.7,1022.5 L290.9,1017.4 L292.9,1022.5 L294.4,1014.8 L297.4,1022.5 L299.9,1014.8 L302.4,1022.5 L305.9,1019.9 L307.4,1022.5 L310.4,1019.9 L313.4,1022.5 L315.4,1019.9 L317.4,1022.5 L320.4,1012.3 L322.4,1022.5 L325.9,1017.4 L327.4,1022.5 L330.9,1012.3 L333.9,1022.5 L336.9,1017.4 L340.4,1022.5 L343.9,1019.9 L346.9,1022.5 L349.9,1019.9 L351.9,1022.5 L354.9,1017.4 L356.1,1022.5 L359.1,1019.9 L360.0,1020.0 L360.0,1016.1 L361.0,1004.6 L361.7,1000.5 L362.0,1020.1 L363.4,1010.0 L364.8,1020.2 L367.5,1022.3 L370.9,1019.5 L373.3,1000.5 L374.3,1012.1 L376.3,1005.3 L377.7,1003.9 L380.4,967.8 L382.1,995.7 L383.5,978.0 L385.5,951.5 L387.2,972.6 L388.2,997.1 L389.3,984.8 L391.4,884.2 L392.7,888.2 L394.7,984.8 L395.7,998.4 L397.1,1006.6 L399.5,1006.6 L400.8,1015.5 L402.5,1018.9 L404.6,1008.7 L407.6,1012.1 L409.0,1016.8 L410.7,1016.1 L413.4,1021.6 L415.1,1018.2 L420.0,1021.6 L420.9,1022.5 L422.1,1017.4 L423.3,1022.5 L425.3,1017.4 L427.3,1022.5 L429.3,1017.4 L432.8,1022.5 L434.8,1019.9 L436.0,1022.5 L437.2,1014.8 L439.7,1022.5 L441.2,1019.9 L444.2,1022.5 L446.2,1019.9 L447.4,1022.5 L449.4,1014.8 L450.9,1022.5 L452.1,1014.8 L453.6,1022.5 L457.1,1009.7 L460.1,1022.5 L461.6,1012.3 L463.6,1022.5 L465.6,1014.8 L468.1,1022.5 L471.6,1012.3 L474.6,1022.5 L477.6,1014.8 L478.8,1022.5 L481.8,1019.9 L485.3,1022.5 L486.8,1017.4 L489.8,1022.5 L493.3,1019.9 L496.8,1022.5 L499.3,1014.8 L501.3,1022.5 L502.8,1017.4 L504.8,1022.5 L506.8,1019.9 L508.3,1022.5 L510.3,1017.4 L512.3,1022.5 L515.8,1014.8 L517.3,1022.5 L518.8,1019.9 L520.0,1022.5 L522.0,1019.9 L525.5,1022.5 L527.0,1014.8 L528.2,1022.5 L531.7,1019.9 L532.9,1022.5 L534.9,1017.4 L536.1,1022.5 L539.6,1014.8 L543.1,1022.5 L545.6,1019.9 L549.1,1022.5 L551.6,1019.9 L552.8,1022.5 L554.0,1017.4 L555.5,1022.5 L557.5,1012.3 L561.0,1022.5 L562.5,1019.9 L564.0,1022.5 L565.2,1017.4 L567.2,1022.5 L568.7,1019.9 L571.7,1022.5 L575.2,1019.9 L577.7,1022.5 L578.9,1017.4 L582.4,1022.5 L585.9,1014.8 L588.9,1022.5 L590.1,1017.4 L591.3,1022.5 L594.8,1017.4 L596.8,1022.5 L599.8,1017.4 L602.8,1022.5 L606.3,1019.9 L609.3,1022.5 L612.3,1017.4 L615.8,1022.5 L617.3,1017.4 L618.5,1022.5 L621.5,1017.4 L624.5,1022.5 L628.0,1019.9 L629.2,1022.5 L631.7,1019.9 L634.7,1022.5 L636.7,1019.9 L639.2,1022.5 L641.2,1019.9 L644.2,1022.5 L645.7,1017.4 L649.2,1022.5 L652.2,1019.9 L653.7,1022.5 L656.2,1019.9 L658.2,1022.5 L659.4,1014.8 L660.9,1022.5 L663.4,1019.9 L666.4,1022.5 L668.9,1019.9 L671.4,1022.5 L674.4,1019.9 L676.4,1022.5 L677.6,1014.8 L678.8,1022.5 L680.3,1019.9 L683.8,1022.5 L686.3,1019.9 L688.8,1022.5 L690.8,1017.4 L694.3,1022.5 L696.3,1017.4 L698.3,1022.5 L701.3,1014.8 L702.5,1022.5 L705.0,1019.9 L707.5,1022.5 L710.0,1019.9 L711.0,1014.8 L712.0,1022.0 L712.5,1022.5 L714.0,1019.9 L715.0,1019.5 L719.1,1022.3 L722.5,1020.2 L725.2,1021.6 L726.6,1020.2 L728.6,1021.9 L731.3,1018.2 L733.0,1020.9 L735.4,1020.2 L738.1,1010.0 L739.5,1011.4 L740.9,986.2 L741.9,964.4 L743.4,896.1 L744.9,937.2 L746.0,950.8 L747.5,941.3 L748.7,961.0 L750.0,989.6 L751.4,999.8 L752.8,998.4 L754.5,1014.8 L755.8,1016.1 L757.2,1021.6 L760.2,1019.5 L761.9,1020.2 L767.4,1018.9 L769.4,1021.6 L772.8,1016.8 L775.0,1018.9 L776.1,1022.5 L777.6,1017.4 L778.8,1022.5 L781.8,1019.9 L784.3,1022.5 L786.3,1019.9 L788.3,1022.5 L791.3,1014.8 L794.3,1022.5 L796.3,1019.9 L798.8,1022.5 L800.3,1019.9 L802.8,1022.5 L804.8,1014.8 L807.8,1022.5 L810.8,1017.4 L812.8,1022.5 L814.8,1017.4 L816.0,1022.5 L818.5,1019.9 L822.0,1022.5 L824.5,1017.4 L826.0,1022.5 L827.5,1019.9 L830.0,1022.5 L832.0,1019.9 L835.5,1022.5 L838.0,1019.9 L840.5,1022.5 L843.0,1019.9 L844.5,1022.5 L848.0,1017.4 L851.5,1022.5 L855.0,1019.9 L858.0,1022.5 L859.5,1019.9 L862.5,1022.5 L866.0,1017.4 L867.2,1022.5 L870.7,1019.9 L873.7,1022.5 L874.9,1019.9 L876.9,1022.5 L879.9,1017.4 L881.1,1022.5 L884.1,1019.9 L885.6,1022.5 L888.1,1019.9 L891.6,1022.5 L893.1,1017.4 L896.6,1022.5 L897.8,1014.8 L900.8,1022.5 L903.3,1017.4 L906.3,1022.5 L907.8,1019.9 L910.8,1022.5 L914.3,1019.9 L915.5,1022.5 L918.5,1019.9 L920.0,1022.5 L921.5,1019.9 L922.7,1022.5 L924.2,1019.9 L926.7,1022.5 L928.2,1019.9 L929.7,1022.5 L931.2,1019.9 L934.2,1022.5 L937.2,1019.9 L940.7,1022.5 L942.7,1014.8 L943.9,1022.5 L946.9,1019.9 L949.9,1022.5 L953.4,1017.4 L954.6,1022.5 L957.1,1017.4 L958.3,1022.5 L961.3,1014.8 L964.3,1022.5 L966.3,1019.9 L968.8,1022.5 L972.3,1014.8 L973.8,1022.5 L975.3,1017.4 L978.8,1022.5 L982.3,1017.4 L984.8,1022.5 L987.8,1017.4 L989.3,1022.5 L991.3,1019.9 L994.3,1022.5 L995.8,1017.4 L997.0,1022.5 L1000.5,1009.7 L1002.5,1022.5 L1004.0,1019.9 L1007.5,1022.5 L1009.0,1009.7 L1010.5,1022.5 L1013.0,1017.4 L1015.5,1022.5 L1017.0,1019.9 L1019.0,1022.5 L1020.5,1014.8 L1022.0,1022.5 L1023.2,1019.9 L1024.4,1022.5 L1027.4,1019.9 L1029.9,1022.5 L1033.4,1017.4 L1036.4,1022.5 L1039.4,1019.9 L1040.6,1022.5 L1043.1,1014.8 L1044.3,1022.5 L1045.8,1019.9 L1049.3,1022.5 L1051.3,1014.8 L1054.8,1022.5 L1056.0,1019.9 L1059.5,1022.5 L1061.0,1017.4 L1064.0,1022.5 L1065.5,1017.4 L1067.0,1022.5 L1070.0,1017.4 L1073.0,1022.5 L1076.5,1019.9 L1080.0,1022.5 L1081.2,1019.9 L1082.7,1022.5 L1084.2,1017.4 L1087.7,1022.5 L1090.2,1014.8 L1092.2,1022.5 L1094.7,1019.9 L1097.7,1022.5 L1098.9,1019.9 L1102.4,1022.5 L1103.6,1019.9 L1104.8,1022.5 L1108.3,1017.4 L1109.8,1022.5 L1111.3,1017.4 L1113.3,1022.5 L1115.8,1019.9 L1118.3,1022.5 L1121.3,1014.8 L1124.3,1022.5 L1127.8,1014.8 L1129.3,1022.5 L1132.3,1019.9 L1134.8,1022.5 L1136.8,1017.4 L1138.8,1022.5 L1140.8,1017.4 L1142.3,1022.5 L1143.8,1019.9 L1146.8,1022.5 L1149.3,1019.9 L1151.3,1022.5 L1152.8,1019.9 L1155.3,1022.5 L1156.8,1019.9 L1159.8,1022.5 L1162.3,1019.9 L1163.5,1022.5 L1166.5,1019.9 L1168.5,1022.5 L1170.5,1017.4 L1171.7,1022.5 L1173.7,1019.9 L1176.2,1022.5 L1177.7,1017.4 L1180.7,1022.5 L1183.2,1017.4 L1184.7,1022.5 L1186.2,1019.9 L1188.7,1022.5 L1191.2,1014.8 L1192.7,1022.5 L1196.2,1019.9 L1198.7,1022.5 L1200.2,1019.9 L1203.7,1022.5 L1205.7,1019.9 L1208.7,1022.5 L1210.7,1019.9 L1212.7,1022.5 L1216.2,1017.4 L1218.2,1022.5 L1221.7,1014.8 L1223.2,1022.5 L1225.2,1012.3 L1226.7,1022.5 L1229.2,1019.9 L1232.7,1022.5 L1234.2,1019.9 L1235.7,1022.5 L1237.7,1009.7 L1240.7,1022.5 L1242.2,1009.7 L1244.7,1022.5 L1247.7,1019.9 L1249.7,1022.5 L1250.9,1019.9 L1253.4,1022.5 L1254.6,1019.9 L1255.8,1022.5 L1258.8,1019.9 L1262.3,1022.5 L1263.5,1014.8 L1266.0,1022.5 L1269.0,1019.9 L1271.0,1022.5 L1272.5,1009.7 L1273.7,1022.5 L1275.7,1019.9 L1278.2,1022.5 L1281.2,1019.9 L1284.7,1022.5 L1287.2,1019.9 L1289.7,1022.5 L1290.9,1012.3 L1293.9,1022.5 L1296.9,1019.9 L1300.4,1022.5 L1303.4,1017.4 L1306.4,1022.5 L1309.4,1019.9 L1310.6,1022.5 L1312.1,1017.4 L1314.1,1022.5 L1317.1,1017.4 L1319.6,1022.5 L1323.1,1019.9 L1325.1,1022.5 L1326.6,1014.8 L1329.6,1022.5 L1330.8,1017.4 L1333.8,1022.5 L1335.3,1019.9 L1336.5,1022.5 L1340.0,1017.4 L1341.5,1022.5 L1343.5,1017.4 L1345.0,1022.5 L1346.2,1017.4 L1349.2,1022.5 L1351.7,1009.7 L1353.7,1022.5 L1355.7,1019.9 L1357.2,1022.5 L1359.7,1017.4 L1360.9,1022.5 L1362.4,1019.9 L1364.4,1022.5 L1365.6,1012.3 L1368.1,1022.5 L1371.6,1019.9 L1375.1,1022.5 L1377.1,1017.4 L1378.6,1022.5 L1380.6,1017.4 L1383.1,1022.5 L1384.6,1019.9 L1386.6,1022.5 L1388.6,1019.9 L1391.6,1022.5 L1394.6,1017.4 L1397.1,1022.5 L1400.6,1014.8 L1403.1,1022.5 L1405.6,1012.3 L1407.1,1022.5 L1408.3,1019.9 L1411.3,1022.5 L1414.3,1017.4 L1417.8,1022.5 L1420.3,1019.9 L1422.8,1022.5 L1422.8,1022.5Z" fill="#0000ff" stroke="#00008b" stroke-width="0.6" stroke-linejoin="round"/>
<path d="M259,884.20 H271.5 M271,884.20 V1022.50 M259,1022.50 H271" fill="none" stroke="#222" stroke-width="1"/>
<text x="252.6" y="887.2" font-size="13.2" text-anchor="end" fill="#222">54</text>
<text x="252.6" y="1025.5" font-size="13.2" text-anchor="end" fill="#222">0</text>
<text x="73.5" y="959.1" font-size="23.3" fill="#000">GSM2481686</text>
<path d="M271.5,1176.4 L271.5,1150.7 L273.2,1176.4 L274.9,1142.1 L276.0,1142.1 L277.6,1167.9 L279.3,1159.3 L280.7,1150.7 L282.2,1150.7 L283.5,1159.3 L284.6,1167.9 L286.0,1176.4 L287.3,1142.1 L288.5,1159.3 L289.6,1150.7 L290.7,1167.9 L292.2,1159.3 L293.7,1159.3 L295.1,1159.3 L296.2,1176.4 L297.4,1167.9 L298.7,1142.1 L299.9,1176.4 L301.1,1176.4 L302.8,1133.6 L304.4,1133.6 L305.8,1159.3 L307.1,1150.7 L308.3,1159.3 L309.7,1150.7 L311.3,1150.7 L312.5,1159.3 L314.0,1159.3 L315.1,1176.4 L316.5,1150.7 L317.9,1150.7 L319.4,1142.1 L320.6,1142.1 L322.2,1176.4 L323.4,1167.9 L325.0,1159.3 L326.1,1150.7 L327.3,1142.1 L328.6,1176.4 L329.6,1162.6 L330.6,1038.1 L331.6,1162.4 L332.3,1167.9 L333.4,1125.0 L334.8,1167.9 L336.0,1159.3 L337.0,1167.9 L338.5,1159.3 L340.1,1142.1 L341.4,1150.7 L343.0,1142.1 L344.4,1150.7 L345.5,1167.9 L346.9,1159.3 L348.4,1159.3 L349.5,1167.9 L350.7,1150.7 L351.9,1150.7 L353.3,1159.3 L354.8,1142.1 L356.1,1176.4 L357.7,1167.9 L359.4,1159.3 L360.7,1142.1 L361.9,1142.1 L363.1,1150.7 L364.8,1142.1 L366.1,1133.6 L367.5,1167.9 L368.8,1176.4 L370.3,1159.3 L371.8,1142.1 L373.1,1176.4 L374.6,1176.4 L376.1,1159.3 L377.4,1150.7 L378.6,1159.3 L379.8,1167.9 L380.9,1167.9 L382.5,1125.0 L384.0,1150.7 L384.4,1157.0 L385.4,1090.7 L386.4,1145.9 L386.6,1142.1 L387.7,1116.4 L389.4,1176.4 L390.8,1142.1 L392.1,1167.9 L393.5,1159.3 L395.1,1167.9 L396.5,1167.9 L398.2,1142.1 L399.9,1176.4 L401.1,1142.1 L402.5,1142.1 L404.0,1176.4 L405.1,1150.7 L406.4,1159.3 L407.9,1176.4 L409.0,1159.3 L410.0,1167.9 L411.4,1176.4 L412.5,1150.7 L414.0,1159.3 L415.4,1142.1 L416.7,1167.9 L418.1,1159.3 L419.6,1167.9 L421.0,1176.4 L422.5,1142.1 L424.1,1142.1 L425.8,1159.3 L427.2,1150.7 L428.4,1167.9 L429.8,1176.4 L431.6,1133.6 L433.0,1159.3 L434.3,1159.3 L435.4,1167.9 L436.6,1159.3 L438.1,1142.1 L439.2,1176.4 L440.7,1133.6 L442.1,1159.3 L443.8,1167.9 L444.8,1159.3 L446.3,1176.4 L447.8,1159.3 L449.4,1167.9 L450.5,1167.9 L451.7,1167.9 L453.2,1167.9 L455.0,1167.9 L456.6,1167.9 L458.3,1167.9 L459.8,1167.9 L461.3,1159.3 L462.9,1159.3 L464.1,1167.9 L465.7,1159.3 L466.9,1176.4 L468.3,1142.1 L469.0,1146.1 L470.0,1107.3 L471.0,1159.9 L472.2,1167.9 L473.9,1142.1 L475.2,1125.0 L476.4,1142.1 L477.7,1159.3 L479.5,1150.7 L481.0,1150.7 L482.5,1142.1 L484.1,1159.3 L485.5,1159.3 L486.7,1176.4 L488.4,1159.3 L489.8,1167.9 L491.3,1142.1 L492.8,1150.7 L494.2,1176.4 L495.3,1176.4 L496.8,1142.1 L498.5,1150.7 L500.1,1167.9 L501.1,1150.7 L502.4,1159.3 L504.1,1176.4 L505.7,1167.9 L507.1,1159.3 L508.7,1150.7 L510.4,1150.7 L512.0,1150.7 L513.4,1159.3 L514.8,1176.4 L515.9,1167.9 L517.3,1176.4 L518.8,1167.9 L520.2,1142.1 L521.8,1159.3 L523.2,1176.4 L524.3,1159.3 L525.4,1150.7 L526.5,1167.9 L528.1,1176.4 L529.7,1176.4 L531.1,1159.3 L532.3,1167.9 L533.9,1167.9 L535.1,1159.3 L536.4,1159.3 L537.9,1159.3 L539.1,1159.3 L540.5,1142.1 L541.8,1176.4 L543.0,1142.1 L544.4,1159.3 L545.8,1176.4 L547.1,1133.6 L548.5,1150.7 L549.6,1176.4 L551.3,1176.4 L552.9,1176.4 L554.4,1159.3 L555.6,1159.3 L557.3,1159.3 L558.9,1176.4 L560.6,1159.3 L562.0,1159.3 L563.2,1167.9 L564.8,1116.4 L566.4,1116.4 L567.8,1167.9 L569.3,1176.4 L570.3,1176.4 L571.8,1142.1 L573.2,1159.3 L574.7,1176.4 L576.2,1142.1 L577.2,1142.1 L578.7,1159.3 L579.8,1159.3 L581.3,1142.1 L582.5,1167.9 L584.2,1116.4 L585.6,1150.7 L586.8,1150.7 L588.5,1167.9 L589.0,1155.1 L590.0,1107.3 L591.0,1150.7 L592.5,1150.7 L593.8,1133.6 L595.4,1159.3 L596.7,1133.6 L598.4,1159.3 L599.5,1159.3 L601.0,1142.1 L602.7,1159.3 L604.1,1150.7 L605.7,1150.7 L607.2,1159.3 L608.8,1167.9 L610.1,1176.4 L611.6,1176.4 L613.2,1167.9 L614.8,1159.3 L615.9,1133.6 L617.4,1159.3 L619.1,1142.1 L620.4,1159.3 L621.9,1167.9 L623.0,1167.9 L624.7,1142.1 L626.4,1133.6 L627.9,1167.9 L629.3,1159.3 L630.7,1159.3 L632.1,1159.3 L633.2,1159.3 L634.3,1150.7 L635.6,1150.7 L636.8,1159.3 L637.8,1150.7 L639.2,1167.9 L640.7,1159.3 L641.9,1167.9 L643.6,1167.9 L645.3,1159.3 L647.0,1142.1 L648.6,1167.9 L650.3,1167.9 L651.9,1142.1 L653.4,1167.9 L655.0,1167.9 L656.4,1150.7 L657.9,1159.3 L659.6,1176.4 L661.1,1159.3 L662.5,1176.4 L663.7,1167.9 L664.7,1142.1 L666.3,1159.3 L667.6,1159.3 L668.8,1150.7 L670.1,1159.3 L671.4,1167.9 L672.6,1159.3 L673.7,1167.9 L675.0,1159.3 L676.7,1150.7 L678.2,1150.7 L679.6,1167.9 L681.3,1142.1 L682.5,1167.9 L684.0,1159.3 L685.7,1159.3 L687.3,1176.4 L688.5,1176.4 L689.9,1176.4 L691.5,1159.3 L693.0,1159.3 L694.6,1176.4 L695.7,1159.3 L697.5,1159.3 L699.0,1176.4 L700.1,1159.3 L701.8,1159.3 L702.9,1150.7 L704.0,1167.9 L705.7,1159.3 L707.1,1159.3 L708.8,1159.3 L710.1,1176.4 L711.2,1159.3 L712.4,1167.9 L713.7,1142.1 L714.9,1133.6 L716.5,1150.7 L717.7,1159.3 L719.1,1159.3 L720.5,1159.3 L722.1,1150.7 L723.6,1159.3 L724.8,1159.3 L726.0,1159.3 L727.3,1167.9 L728.7,1159.3 L730.1,1159.3 L731.7,1142.1 L733.0,1159.3 L734.6,1133.6 L736.3,1176.4 L737.9,1159.3 L738.9,1150.7 L740.1,1176.4 L741.6,1125.0 L742.3,1134.4 L743.3,1038.1 L744.3,1157.0 L745.0,1141.9 L746.0,1090.7 L747.0,1173.0 L747.1,1176.4 L748.6,1125.0 L750.0,1125.0 L751.6,1159.3 L752.9,1142.1 L754.1,1150.7 L755.8,1159.3 L756.9,1107.8 L758.5,1159.3 L759.0,1159.3 L760.0,1074.1 L761.0,1150.9 L761.0,1150.7 L762.1,1159.3 L763.2,1150.7 L764.5,1150.7 L765.8,1167.9 L767.4,1159.3 L769.1,1133.6 L770.2,1150.7 L772.0,1150.7 L773.6,1167.9 L775.2,1167.9 L776.8,1159.3 L778.1,1167.9 L779.4,1167.9 L780.7,1133.6 L782.2,1176.4 L784.0,1167.9 L785.5,1142.1 L787.0,1159.3 L788.7,1159.3 L789.8,1159.3 L791.0,1167.9 L792.5,1167.9 L793.9,1159.3 L795.1,1159.3 L796.4,1150.7 L797.6,1142.1 L799.3,1176.4 L800.4,1150.7 L802.0,1176.4 L803.2,1176.4 L804.6,1159.3 L805.9,1176.4 L807.4,1125.0 L808.7,1142.1 L809.8,1133.6 L811.2,1167.9 L812.7,1167.9 L814.2,1159.3 L815.7,1159.3 L817.0,1150.7 L818.7,1167.9 L820.3,1150.7 L821.6,1159.3 L822.9,1142.1 L824.5,1150.7 L826.1,1142.1 L827.7,1167.9 L828.9,1159.3 L830.4,1167.9 L831.5,1167.9 L832.6,1142.1 L833.8,1159.3 L835.2,1176.4 L836.5,1176.4 L837.7,1150.7 L838.9,1150.7 L840.0,1167.9 L841.3,1150.7 L842.9,1159.3 L844.0,1159.3 L845.0,1142.1 L846.2,1176.4 L847.5,1159.3 L848.7,1159.3 L850.1,1176.4 L851.9,1150.7 L853.0,1159.3 L854.6,1167.9 L856.3,1159.3 L857.8,1150.7 L859.4,1159.3 L860.8,1176.4 L862.3,1167.9 L864.0,1176.4 L865.6,1125.0 L866.7,1142.1 L868.3,1159.3 L869.5,1133.6 L870.7,1176.4 L872.4,1167.9 L873.6,1159.3 L875.3,1125.0 L876.5,1159.3 L878.1,1159.3 L879.8,1176.4 L881.5,1159.3 L883.1,1150.7 L884.8,1167.9 L886.2,1159.3 L887.3,1159.3 L888.5,1167.9 L890.1,1159.3 L891.7,1150.7 L892.9,1159.3 L894.5,1159.3 L895.7,1150.7 L897.4,1150.7 L899.0,1142.1 L900.3,1150.7 L902.0,1150.7 L903.5,1133.6 L904.9,1176.4 L906.3,1159.3 L907.6,1167.9 L909.1,1176.4 L910.3,1159.3 L912.1,1142.1 L913.8,1133.6 L915.0,1167.9 L916.3,1142.1 L917.7,1167.9 L919.5,1159.3 L920.8,1176.4 L922.1,1150.7 L923.6,1167.9 L925.2,1167.9 L926.6,1125.0 L927.8,1176.4 L928.9,1176.4 L930.4,1133.6 L932.0,1133.6 L933.4,1176.4 L934.5,1142.1 L935.7,1133.6 L936.9,1159.3 L938.4,1150.7 L940.0,1125.0 L941.6,1150.7 L942.7,1176.4 L944.4,1159.3 L945.8,1150.7 L947.0,1125.0 L948.2,1167.9 L949.7,1167.9 L951.3,1159.3 L952.8,1167.9 L954.3,1176.4 L955.9,1142.1 L957.5,1159.3 L959.1,1167.9 L960.8,1176.4 L961.9,1142.1 L963.3,1150.7 L964.3,1159.3 L965.6,1167.9 L966.0,1171.1 L967.0,1090.7 L968.0,1128.1 L969.6,1167.9 L970.7,1167.9 L971.8,1167.9 L973.4,1142.1 L975.1,1150.7 L976.4,1150.7 L977.6,1133.6 L979.1,1150.7 L980.5,1133.6 L982.1,1133.6 L983.2,1125.0 L984.8,1159.3 L986.2,1167.9 L987.6,1159.3 L988.7,1159.3 L990.2,1159.3 L991.5,1159.3 L993.2,1167.9 L994.7,1133.6 L995.9,1116.4 L997.3,1159.3 L998.6,1176.4 L1000.1,1176.4 L1001.6,1159.3 L1002.9,1176.4 L1004.2,1159.3 L1005.8,1159.3 L1007.0,1159.3 L1008.4,1167.9 L1010.1,1150.7 L1011.0,1155.9 L1012.0,1107.3 L1013.0,1145.0 L1013.3,1142.1 L1014.6,1159.3 L1016.0,1150.7 L1017.6,1159.3 L1018.9,1142.1 L1020.5,1159.3 L1021.7,1167.9 L1023.1,1167.9 L1024.7,1167.9 L1025.9,1159.3 L1027.0,1159.3 L1028.3,1167.9 L1029.7,1150.7 L1031.2,1176.4 L1032.9,1142.1 L1034.2,1142.1 L1035.8,1159.3 L1037.0,1159.3 L1038.3,1176.4 L1040.0,1142.1 L1041.7,1167.9 L1043.3,1133.6 L1044.7,1133.6 L1046.0,1125.0 L1047.4,1159.3 L1048.5,1125.0 L1049.5,1150.7 L1050.9,1176.4 L1052.3,1159.3 L1053.6,1159.3 L1054.8,1142.1 L1056.1,1159.3 L1057.2,1150.7 L1058.5,1159.3 L1059.9,1176.4 L1061.4,1142.1 L1062.6,1133.6 L1063.9,1142.1 L1065.0,1136.9 L1066.0,1090.7 L1067.0,1145.9 L1068.4,1176.4 L1069.8,1167.9 L1071.5,1159.3 L1072.7,1167.9 L1073.8,1159.3 L1074.8,1159.3 L1076.1,1167.9 L1077.8,1167.9 L1078.9,1142.1 L1080.6,1176.4 L1082.3,1167.9 L1083.7,1150.7 L1084.8,1159.3 L1086.0,1167.9 L1087.7,1125.0 L1089.3,1176.4 L1090.4,1150.7 L1091.9,1159.3 L1093.1,1176.4 L1094.4,1176.4 L1095.6,1159.3 L1097.2,1159.3 L1098.8,1133.6 L1099.9,1142.1 L1101.6,1176.4 L1103.1,1176.4 L1104.3,1167.9 L1105.5,1150.7 L1107.1,1159.3 L1108.7,1150.7 L1109.0,1152.1 L1110.0,1107.3 L1111.0,1155.8 L1112.0,1150.7 L1113.7,1150.7 L1115.4,1167.9 L1116.6,1142.1 L1118.1,1167.9 L1119.7,1167.9 L1121.3,1167.9 L1122.7,1142.1 L1124.4,1176.4 L1125.6,1167.9 L1127.1,1176.4 L1128.8,1159.3 L1130.1,1167.9 L1131.5,1142.1 L1133.0,1167.9 L1134.5,1159.3 L1135.7,1159.3 L1137.4,1176.4 L1138.9,1150.7 L1140.7,1159.3 L1142.3,1159.3 L1143.5,1159.3 L1145.1,1176.4 L1146.3,1159.3 L1147.7,1150.7 L1149.2,1159.3 L1150.6,1142.1 L1151.8,1167.9 L1153.4,1176.4 L1155.0,1150.7 L1156.4,1167.9 L1157.8,1176.4 L1159.0,1133.6 L1160.3,1159.3 L1161.5,1125.0 L1162.8,1142.1 L1164.5,1176.4 L1166.2,1150.7 L1167.6,1167.9 L1168.7,1159.3 L1170.0,1159.3 L1171.1,1142.1 L1172.2,1167.9 L1173.3,1142.1 L1174.8,1150.7 L1176.0,1176.4 L1177.4,1176.4 L1178.7,1159.3 L1180.3,1176.4 L1181.6,1159.3 L1182.9,1159.3 L1184.1,1150.7 L1185.2,1167.9 L1186.5,1159.3 L1187.6,1167.9 L1188.9,1133.6 L1190.7,1176.4 L1192.1,1159.3 L1193.2,1133.6 L1194.7,1176.4 L1196.3,1159.3 L1197.5,1133.6 L1198.7,1167.9 L1199.0,1170.3 L1200.0,1107.3 L1201.0,1134.0 L1201.2,1125.0 L1203.0,1142.1 L1204.3,1167.9 L1205.9,1150.7 L1207.4,1167.9 L1208.9,1167.9 L1210.5,1150.7 L1211.9,1150.7 L1213.6,1176.4 L1214.8,1176.4 L1216.0,1125.0 L1217.6,1176.4 L1219.0,1142.1 L1220.7,1176.4 L1222.3,1176.4 L1223.7,1142.1 L1225.4,1167.9 L1226.6,1159.3 L1228.3,1167.9 L1229.7,1176.4 L1230.9,1133.6 L1232.6,1159.3 L1234.2,1159.3 L1235.8,1159.3 L1237.4,1142.1 L1238.9,1142.1 L1240.0,1133.6 L1241.4,1167.9 L1243.1,1167.9 L1244.8,1159.3 L1246.1,1125.0 L1247.2,1176.4 L1248.7,1150.7 L1249.8,1142.1 L1251.0,1176.4 L1252.2,1167.9 L1253.5,1150.7 L1254.9,1142.1 L1256.3,1167.9 L1257.5,1159.3 L1258.9,1176.4 L1260.1,1150.7 L1261.6,1150.7 L1262.7,1150.7 L1264.2,1167.9 L1265.5,1159.3 L1267.1,1142.1 L1268.5,1167.9 L1269.7,1167.9 L1270.9,1176.4 L1272.1,1159.3 L1273.4,1159.3 L1274.8,1167.9 L1276.3,1167.9 L1277.5,1176.4 L1279.1,1176.4 L1280.7,1176.4 L1282.3,1159.3 L1284.0,1167.9 L1285.2,1142.1 L1286.3,1159.3 L1287.6,1167.9 L1288.8,1142.1 L1289.9,1159.3 L1291.4,1167.9 L1292.7,1159.3 L1293.9,1159.3 L1295.5,1159.3 L1296.7,1133.6 L1298.1,1176.4 L1299.6,1176.4 L1301.1,1167.9 L1302.6,1142.1 L1303.7,1167.9 L1304.8,1167.9 L1306.5,1167.9 L1307.9,1159.3 L1309.3,1159.3 L1310.6,1142.1 L1312.2,1159.3 L1313.5,1150.7 L1314.9,1159.3 L1316.2,1167.9 L1317.6,1176.4 L1318.8,1176.4 L1320.5,1167.9 L1322.1,1159.3 L1323.4,1150.7 L1325.1,1159.3 L1326.7,1176.4 L1328.5,1142.1 L1329.7,1159.3 L1331.2,1159.3 L1332.2,1167.9 L1333.4,1159.3 L1334.9,1176.4 L1336.1,1167.9 L1337.4,1167.9 L1339.2,1159.3 L1340.3,1167.9 L1342.0,1176.4 L1343.5,1176.4 L1344.0,1157.8 L1345.0,1090.7 L1346.0,1166.6 L1347.4,1159.3 L1348.5,1167.9 L1349.6,1159.3 L1351.1,1159.3 L1352.5,1167.9 L1353.6,1176.4 L1355.3,1159.3 L1356.8,1159.3 L1358.0,1167.9 L1359.7,1150.7 L1360.9,1150.7 L1362.1,1167.9 L1363.5,1150.7 L1365.3,1176.4 L1366.8,1142.1 L1367.8,1150.7 L1369.2,1167.9 L1370.8,1142.1 L1371.8,1150.7 L1373.3,1125.0 L1374.4,1176.4 L1375.7,1150.7 L1377.2,1159.3 L1378.8,1167.9 L1380.2,1167.9 L1381.8,1150.7 L1383.1,1159.3 L1384.5,1142.1 L1385.8,1125.0 L1387.4,1167.9 L1389.0,1159.3 L1390.6,1176.4 L1391.9,1167.9 L1393.5,1142.1 L1394.9,1167.9 L1395.9,1142.1 L1397.1,1176.4 L1398.1,1133.6 L1399.6,1167.9 L1401.1,1133.6 L1402.4,1159.3 L1404.0,1175.3 L1405.0,1107.3 L1406.0,1159.3 L1407.2,1159.3 L1408.4,1167.9 L1409.7,1167.9 L1411.2,1176.4 L1412.9,1167.9 L1414.0,1160.2 L1415.0,1107.3 L1416.0,1159.3 L1416.9,1159.3 L1418.0,1167.9 L1419.5,1167.9 L1420.9,1150.7 L1422.5,1150.7 L1422.5,1176.4Z" fill="#0000ff" stroke="#00008b" stroke-width="0.6" stroke-linejoin="round"/>
<path d="M259,1038.14 H271.5 M271,1038.14 V1176.44 M259,1176.44 H271" fill="none" stroke="#222" stroke-width="1"/>
<text x="252.6" y="1041.1" font-size="13.2" text-anchor="end" fill="#222">10</text>
<text x="252.6" y="1179.4" font-size="13.2" text-anchor="end" fill="#222">0</text>
<text x="73.5" y="1113.1" font-size="23.3" fill="#000">GSM2481685</text>
<path d="M271.5,1330.4 L271.5,1326.2 L274.5,1330.4 L278.0,1322.0 L280.5,1330.4 L282.5,1317.8 L285.0,1330.4 L288.0,1322.0 L290.0,1330.4 L292.0,1326.2 L295.5,1330.4 L299.0,1322.0 L301.0,1330.4 L303.0,1326.2 L306.0,1330.4 L307.5,1317.8 L311.0,1330.4 L314.0,1326.2 L316.0,1330.4 L317.2,1326.2 L318.7,1330.4 L319.9,1326.2 L321.4,1330.4 L323.9,1326.2 L325.4,1330.4 L327.4,1326.2 L328.9,1330.4 L330.1,1326.2 L332.6,1330.4 L334.6,1322.0 L335.8,1330.4 L338.3,1322.0 L341.8,1330.4 L343.8,1326.2 L345.3,1330.4 L348.3,1326.2 L350.8,1330.4 L352.3,1322.0 L355.8,1330.4 L357.3,1322.0 L359.8,1330.4 L362.3,1322.0 L365.3,1330.4 L368.3,1326.2 L369.5,1330.4 L372.0,1322.0 L375.0,1330.4 L376.2,1326.2 L378.7,1330.4 L382.2,1322.0 L385.2,1330.4 L386.0,1323.7 L387.0,1313.6 L388.0,1324.8 L388.4,1330.4 L389.9,1322.0 L393.4,1330.4 L396.9,1326.2 L399.9,1330.4 L401.9,1326.2 L404.4,1330.4 L407.9,1322.0 L411.4,1330.4 L413.4,1322.0 L416.4,1330.4 L419.4,1322.0 L421.9,1330.4 L424.4,1326.2 L426.9,1330.4 L430.4,1326.2 L432.9,1330.4 L435.9,1322.0 L438.4,1330.4 L441.9,1326.2 L443.4,1330.4 L444.9,1326.2 L446.4,1330.4 L447.6,1322.0 L449.1,1330.4 L451.1,1326.2 L452.6,1330.4 L455.1,1326.2 L458.6,1330.4 L461.6,1326.2 L463.6,1330.4 L465.1,1326.2 L467.1,1330.4 L469.1,1326.2 L470.6,1330.4 L473.1,1322.0 L474.6,1330.4 L477.1,1322.0 L478.3,1330.4 L481.8,1326.2 L483.8,1330.4 L486.8,1322.0 L490.3,1330.4 L492.8,1322.0 L495.3,1330.4 L498.8,1322.0 L502.3,1330.4 L503.8,1326.2 L505.8,1330.4 L507.8,1326.2 L509.8,1330.4 L511.0,1326.2 L513.5,1330.4 L515.0,1326.2 L516.5,1330.4 L520.0,1326.2 L523.0,1330.4 L525.5,1322.0 L529.0,1330.4 L531.0,1326.2 L534.5,1330.4 L535.7,1317.8 L538.7,1330.4 L542.2,1326.2 L544.7,1330.4 L547.7,1326.2 L549.7,1330.4 L551.7,1326.2 L553.2,1330.4 L554.7,1326.2 L557.2,1330.4 L558.7,1326.2 L561.2,1330.4 L564.2,1326.2 L565.4,1330.4 L566.6,1326.2 L569.1,1330.4 L570.6,1322.0 L574.1,1330.4 L576.1,1317.8 L577.6,1330.4 L581.1,1326.2 L582.3,1330.4 L585.8,1322.0 L587.8,1330.4 L589.8,1322.0 L593.3,1330.4 L595.8,1326.2 L597.3,1330.4 L598.8,1326.2 L600.3,1330.4 L602.3,1326.2 L605.8,1330.4 L607.8,1326.2 L609.8,1330.4 L611.8,1326.2 L613.8,1330.4 L616.8,1326.2 L619.3,1330.4 L620.5,1326.2 L623.0,1330.4 L625.5,1322.0 L628.5,1330.4 L631.0,1322.0 L634.0,1330.4 L635.5,1326.2 L637.5,1330.4 L638.7,1322.0 L639.9,1330.4 L641.1,1326.2 L642.3,1330.4 L643.5,1317.8 L647.0,1330.4 L648.2,1326.2 L651.7,1330.4 L654.7,1326.2 L657.2,1330.4 L659.7,1326.2 L662.2,1330.4 L665.2,1326.2 L667.7,1330.4 L669.7,1326.2 L671.7,1330.4 L672.9,1326.2 L674.1,1330.4 L676.6,1326.2 L679.6,1330.4 L681.1,1326.2 L683.6,1330.4 L687.1,1317.8 L690.6,1330.4 L692.6,1322.0 L695.1,1330.4 L698.6,1326.2 L701.6,1330.4 L704.1,1326.2 L705.3,1330.4 L706.8,1322.0 L708.3,1330.4 L709.5,1326.2 L711.5,1330.4 L713.5,1322.0 L715.0,1322.8 L718.4,1329.6 L722.5,1327.5 L723.8,1328.9 L725.2,1327.5 L727.2,1329.6 L729.3,1322.8 L732.0,1329.6 L735.4,1325.5 L736.8,1316.7 L738.1,1308.5 L739.5,1308.5 L740.9,1292.8 L741.9,1262.2 L742.9,1230.3 L744.5,1191.8 L746.0,1243.9 L746.3,1262.2 L747.5,1213.3 L748.7,1248.6 L749.7,1249.3 L750.4,1277.9 L751.7,1271.1 L753.8,1294.2 L755.8,1315.3 L757.5,1320.7 L759.1,1313.3 L759.9,1320.1 L761.9,1328.9 L764.0,1326.2 L766.7,1326.2 L767.4,1328.9 L769.4,1325.5 L772.1,1329.6 L775.0,1327.5 L776.4,1326.2 L777.6,1330.4 L779.6,1322.0 L783.1,1330.4 L784.3,1326.2 L785.8,1330.4 L787.0,1326.2 L790.0,1330.4 L791.5,1326.2 L792.7,1330.4 L796.2,1322.0 L798.2,1330.4 L801.7,1322.0 L803.7,1330.4 L805.7,1326.2 L809.2,1330.4 L810.4,1326.2 L812.4,1330.4 L814.4,1326.2 L817.9,1330.4 L819.9,1326.2 L821.1,1330.4 L822.6,1326.2 L825.6,1330.4 L828.1,1326.2 L829.6,1330.4 L830.8,1326.2 L832.8,1330.4 L834.3,1326.2 L835.8,1330.4 L838.3,1326.2 L840.3,1330.4 L842.8,1326.2 L845.3,1330.4 L848.3,1322.0 L849.8,1330.4 L853.3,1326.2 L855.3,1330.4 L857.8,1326.2 L860.3,1330.4 L861.8,1326.2 L864.8,1330.4 L867.3,1326.2 L870.8,1330.4 L872.3,1326.2 L873.8,1330.4 L875.3,1326.2 L877.3,1330.4 L880.8,1326.2 L884.3,1330.4 L885.5,1322.0 L886.7,1330.4 L888.2,1326.2 L891.2,1330.4 L892.7,1326.2 L896.2,1330.4 L898.2,1322.0 L900.7,1330.4 L903.2,1326.2 L904.4,1330.4 L906.9,1313.6 L910.4,1330.4 L912.9,1322.0 L914.1,1330.4 L916.1,1326.2 L917.6,1330.4 L920.1,1326.2 L923.1,1330.4 L924.3,1317.8 L926.8,1330.4 L929.3,1326.2 L930.8,1330.4 L932.3,1326.2 L934.3,1330.4 L935.5,1326.2 L937.0,1330.4 L939.5,1326.2 L942.0,1330.4 L943.2,1326.2 L944.7,1330.4 L947.7,1326.2 L950.7,1330.4 L952.2,1326.2 L954.7,1330.4 L957.7,1326.2 L961.2,1330.4 L962.7,1326.2 L964.2,1330.4 L967.7,1317.8 L970.7,1330.4 L974.2,1322.0 L977.2,1330.4 L978.4,1326.2 L979.6,1330.4 L982.1,1326.2 L983.6,1330.4 L986.1,1326.2 L987.3,1330.4 L989.8,1322.0 L991.3,1330.4 L993.8,1322.0 L997.3,1330.4 L999.8,1326.2 L1001.8,1330.4 L1003.0,1322.0 L1006.0,1330.4 L1008.0,1326.2 L1010.5,1330.4 L1012.0,1326.2 L1015.5,1330.4 L1017.0,1317.8 L1018.2,1330.4 L1021.7,1326.2 L1024.2,1330.4 L1025.7,1326.2 L1026.9,1330.4 L1028.1,1326.2 L1030.6,1330.4 L1031.8,1326.2 L1033.3,1330.4 L1035.8,1326.2 L1038.8,1330.4 L1041.3,1326.2 L1042.8,1330.4 L1044.3,1326.2 L1047.3,1330.4 L1048.8,1326.2 L1051.3,1330.4 L1053.8,1326.2 L1057.3,1330.4 L1059.8,1326.2 L1061.8,1330.4 L1064.8,1322.0 L1066.3,1330.4 L1067.8,1326.2 L1070.8,1330.4 L1073.8,1326.2 L1075.3,1330.4 L1077.3,1326.2 L1079.8,1330.4 L1083.3,1317.8 L1084.8,1330.4 L1087.3,1326.2 L1090.3,1330.4 L1091.8,1322.0 L1094.3,1330.4 L1095.5,1326.2 L1097.0,1330.4 L1098.5,1326.2 L1102.0,1330.4 L1104.0,1326.2 L1107.5,1330.4 L1110.5,1326.2 L1111.7,1330.4 L1112.9,1317.8 L1114.9,1330.4 L1117.9,1322.0 L1120.9,1330.4 L1123.9,1326.2 L1125.4,1330.4 L1126.9,1322.0 L1128.1,1330.4 L1131.1,1326.2 L1132.6,1330.4 L1136.1,1326.2 L1139.1,1330.4 L1142.6,1322.0 L1144.6,1330.4 L1147.6,1326.2 L1150.1,1330.4 L1151.3,1326.2 L1154.3,1330.4 L1155.5,1326.2 L1157.0,1330.4 L1160.0,1326.2 L1163.0,1330.4 L1164.5,1326.2 L1166.5,1330.4 L1170.0,1322.0 L1172.0,1330.4 L1173.5,1322.0 L1175.0,1330.4 L1178.0,1326.2 L1181.5,1330.4 L1182.7,1326.2 L1184.2,1330.4 L1185.4,1322.0 L1188.4,1330.4 L1191.4,1326.2 L1193.9,1330.4 L1197.4,1317.8 L1198.6,1330.4 L1199.8,1322.0 L1202.3,1330.4 L1205.8,1326.2 L1207.8,1330.4 L1211.3,1326.2 L1212.5,1330.4 L1214.5,1326.2 L1215.7,1330.4 L1216.9,1326.2 L1219.4,1330.4 L1222.9,1313.6 L1226.4,1330.4 L1228.9,1326.2 L1230.9,1330.4 L1232.9,1326.2 L1235.4,1330.4 L1237.4,1317.8 L1240.9,1330.4 L1242.1,1317.8 L1244.1,1330.4 L1247.6,1322.0 L1249.6,1330.4 L1252.6,1322.0 L1254.6,1330.4 L1257.6,1326.2 L1258.8,1330.4 L1260.0,1322.0 L1261.2,1330.4 L1264.7,1326.2 L1265.9,1330.4 L1267.1,1326.2 L1270.6,1330.4 L1272.1,1317.8 L1273.3,1330.4 L1276.8,1326.2 L1279.8,1330.4 L1281.8,1322.0 L1283.8,1330.4 L1285.8,1326.2 L1287.0,1330.4 L1288.2,1322.0 L1290.7,1330.4 L1291.9,1326.2 L1294.4,1330.4 L1296.4,1326.2 L1299.4,1330.4 L1301.9,1317.8 L1303.9,1330.4 L1305.4,1326.2 L1308.4,1330.4 L1310.4,1326.2 L1311.6,1330.4 L1314.1,1326.2 L1315.3,1330.4 L1317.8,1326.2 L1321.3,1330.4 L1322.8,1313.6 L1324.0,1330.4 L1326.5,1326.2 L1328.5,1330.4 L1329.7,1326.2 L1332.2,1330.4 L1334.7,1322.0 L1336.7,1330.4 L1340.2,1322.0 L1342.7,1330.4 L1345.2,1326.2 L1348.2,1330.4 L1351.2,1317.8 L1353.7,1330.4 L1354.9,1326.2 L1356.1,1330.4 L1359.1,1326.2 L1360.3,1330.4 L1362.3,1326.2 L1365.3,1330.4 L1368.8,1326.2 L1371.8,1330.4 L1375.3,1326.2 L1378.8,1330.4 L1382.3,1322.0 L1383.8,1330.4 L1385.3,1322.0 L1387.3,1330.4 L1388.5,1317.8 L1391.0,1330.4 L1393.0,1326.2 L1396.5,1330.4 L1398.5,1326.2 L1401.5,1330.4 L1405.0,1326.2 L1408.5,1330.4 L1411.0,1326.2 L1413.5,1330.4 L1415.0,1322.0 L1417.0,1330.4 L1420.0,1326.2 L1423.0,1330.4 L1423.0,1330.4Z" fill="#0000ff" stroke="#00008b" stroke-width="0.6" stroke-linejoin="round"/>
<path d="M259,1192.08 H271.5 M271,1192.08 V1330.38 M259,1330.38 H271" fill="none" stroke="#222" stroke-width="1"/>
<text x="252.6" y="1195.1" font-size="13.2" text-anchor="end" fill="#222">33</text>
<text x="252.6" y="1333.4" font-size="13.2" text-anchor="end" fill="#222">0</text>
<text x="73.5" y="1267.0" font-size="23.3" fill="#000">GSM2481684</text>
<path d="M271.5,1484.3 L271.5,1477.4 L273.1,1456.7 L274.0,1470.5 L275.0,1429.0 L276.0,1482.2 L276.8,1477.4 L278.5,1477.4 L279.7,1449.7 L281.4,1484.3 L282.6,1442.8 L284.0,1470.5 L285.5,1470.5 L286.6,1463.6 L288.2,1470.5 L289.5,1463.6 L291.2,1449.7 L292.4,1463.6 L293.8,1442.8 L295.5,1470.5 L297.2,1456.7 L298.3,1484.3 L299.6,1484.3 L300.9,1463.6 L302.3,1470.5 L303.9,1484.3 L305.1,1470.5 L306.7,1484.3 L307.8,1477.4 L309.5,1470.5 L311.1,1470.5 L312.7,1463.6 L313.9,1477.4 L315.1,1477.4 L316.6,1442.8 L318.0,1477.4 L319.1,1449.7 L320.4,1477.4 L321.9,1456.7 L323.0,1484.3 L324.2,1442.8 L325.7,1484.3 L327.2,1470.5 L328.3,1484.3 L329.6,1449.7 L330.9,1442.8 L332.3,1477.4 L333.4,1470.5 L334.5,1449.7 L336.0,1484.3 L337.5,1470.5 L339.0,1470.5 L340.2,1470.5 L341.6,1484.3 L343.3,1463.6 L344.5,1484.3 L345.0,1479.1 L346.0,1429.0 L347.0,1481.4 L347.3,1484.3 L348.8,1470.5 L350.0,1470.5 L351.4,1463.6 L352.6,1484.3 L354.3,1484.3 L355.6,1484.3 L356.9,1484.3 L358.0,1484.3 L359.1,1477.4 L360.6,1484.3 L362.3,1484.3 L364.0,1456.7 L365.3,1484.3 L366.6,1477.4 L368.2,1470.5 L369.3,1484.3 L370.4,1484.3 L371.8,1456.7 L373.1,1449.7 L374.3,1449.7 L375.9,1477.4 L377.6,1449.7 L378.8,1470.5 L380.2,1477.4 L381.7,1449.7 L383.4,1463.6 L384.7,1470.5 L386.4,1477.4 L388.0,1470.5 L389.6,1477.4 L391.1,1470.5 L392.2,1470.5 L393.8,1470.5 L394.0,1469.6 L395.0,1429.0 L396.0,1466.6 L396.6,1470.5 L398.0,1484.3 L399.7,1470.5 L401.0,1470.5 L402.5,1463.6 L404.2,1470.5 L405.6,1470.5 L406.8,1484.3 L408.4,1463.6 L409.5,1477.4 L410.7,1484.3 L412.2,1477.4 L413.5,1463.6 L415.1,1477.4 L416.5,1477.4 L417.8,1477.4 L419.0,1477.4 L420.1,1456.7 L421.5,1477.4 L422.9,1449.7 L424.0,1456.7 L425.3,1484.3 L427.0,1477.4 L428.7,1484.3 L429.9,1470.5 L431.0,1463.6 L432.4,1449.7 L433.7,1470.5 L435.0,1477.4 L436.4,1477.4 L437.9,1477.4 L439.3,1477.4 L440.6,1477.4 L442.0,1442.8 L443.7,1470.5 L445.2,1463.6 L446.9,1470.5 L448.0,1470.5 L449.4,1477.4 L450.5,1463.6 L451.7,1477.4 L453.1,1477.4 L454.5,1477.4 L455.7,1470.5 L456.8,1456.7 L458.5,1484.3 L460.0,1456.7 L461.2,1449.7 L462.5,1484.3 L463.6,1477.4 L464.8,1470.5 L466.3,1463.6 L467.7,1477.4 L468.8,1456.7 L470.1,1456.7 L471.2,1477.4 L472.9,1463.6 L474.0,1463.6 L475.6,1463.6 L477.2,1477.4 L478.5,1463.6 L480.1,1484.3 L481.2,1477.4 L482.4,1477.4 L483.5,1456.7 L484.8,1442.8 L486.4,1477.4 L487.6,1456.7 L488.9,1470.5 L490.5,1470.5 L492.0,1470.5 L493.5,1477.4 L495.1,1463.6 L496.2,1470.5 L497.4,1470.5 L498.7,1477.4 L499.8,1463.6 L501.2,1484.3 L502.6,1442.8 L503.9,1449.7 L505.4,1463.6 L506.7,1484.3 L508.2,1477.4 L509.7,1484.3 L511.0,1478.9 L512.0,1429.0 L513.0,1457.5 L513.1,1456.7 L514.7,1449.7 L515.8,1463.6 L517.0,1449.7 L518.7,1470.5 L520.2,1477.4 L521.4,1477.4 L522.7,1470.5 L524.4,1470.5 L525.5,1463.6 L526.8,1477.4 L528.0,1477.4 L529.7,1470.5 L531.3,1484.3 L532.9,1470.5 L534.6,1470.5 L536.2,1477.4 L537.9,1442.8 L539.1,1470.5 L540.7,1449.7 L542.3,1477.4 L543.4,1470.5 L544.7,1463.6 L546.1,1470.5 L547.4,1484.3 L548.7,1470.5 L550.1,1463.6 L551.6,1463.6 L553.0,1470.5 L554.3,1470.5 L555.9,1477.4 L557.3,1477.4 L558.8,1477.4 L560.3,1477.4 L562.0,1477.4 L563.3,1470.5 L564.9,1456.7 L566.0,1477.4 L567.4,1456.7 L569.1,1449.7 L570.6,1449.7 L572.1,1456.7 L573.7,1456.7 L575.1,1470.5 L576.3,1442.8 L578.1,1484.3 L579.7,1449.7 L581.2,1449.7 L582.9,1470.5 L584.0,1456.7 L585.1,1470.5 L586.1,1449.7 L587.5,1456.7 L589.1,1477.4 L590.7,1449.7 L592.3,1470.5 L593.3,1477.4 L595.0,1463.6 L596.3,1484.3 L597.7,1477.4 L599.0,1477.4 L599.0,1477.4 L600.0,1429.0 L601.0,1473.8 L601.9,1463.6 L603.5,1470.5 L604.9,1463.6 L606.6,1484.3 L608.2,1456.7 L609.5,1463.6 L611.0,1442.8 L612.7,1463.6 L614.2,1470.5 L615.8,1470.5 L617.4,1477.4 L619.1,1484.3 L620.7,1477.4 L622.1,1463.6 L623.3,1484.3 L624.9,1477.4 L626.0,1484.3 L627.4,1470.5 L629.2,1477.4 L630.8,1470.5 L632.0,1470.5 L633.3,1484.3 L635.0,1477.4 L636.3,1442.8 L637.9,1456.7 L639.0,1470.5 L640.4,1470.5 L642.0,1477.4 L643.7,1484.3 L645.0,1449.7 L646.5,1470.5 L647.9,1470.5 L648.9,1463.6 L650.2,1477.4 L651.6,1477.4 L653.3,1470.5 L654.5,1484.3 L656.0,1456.7 L657.1,1470.5 L658.8,1477.4 L660.2,1470.5 L661.4,1470.5 L662.6,1456.7 L663.8,1477.4 L665.3,1470.5 L666.9,1477.4 L668.2,1484.3 L669.7,1463.6 L671.0,1470.5 L672.7,1470.5 L673.9,1470.5 L675.2,1484.3 L676.8,1484.3 L678.0,1456.7 L679.7,1484.3 L681.1,1477.4 L682.7,1449.7 L684.1,1477.4 L685.4,1470.5 L687.1,1484.3 L688.8,1442.8 L690.3,1484.3 L691.6,1463.6 L692.7,1470.5 L694.2,1484.3 L695.7,1463.6 L696.9,1477.4 L698.1,1484.3 L699.4,1477.4 L700.6,1470.5 L702.2,1477.4 L703.7,1477.4 L705.5,1456.7 L706.6,1477.4 L708.1,1463.6 L709.6,1477.4 L711.3,1470.5 L712.9,1463.6 L714.5,1463.6 L716.0,1470.5 L717.1,1484.3 L718.7,1470.5 L719.8,1477.4 L721.5,1456.7 L722.7,1442.8 L724.0,1477.4 L725.4,1470.5 L726.7,1470.5 L728.3,1477.4 L729.7,1442.8 L731.3,1456.7 L732.4,1477.4 L733.7,1470.5 L734.9,1484.3 L736.1,1456.7 L737.0,1460.5 L738.0,1387.5 L739.0,1463.6 L739.0,1463.6 L740.0,1429.0 L741.0,1451.9 L741.7,1463.6 L742.0,1468.4 L743.0,1387.5 L744.0,1461.9 L744.3,1456.7 L745.5,1463.6 L747.0,1463.6 L748.0,1346.0 L749.0,1439.3 L749.4,1429.0 L751.1,1463.6 L752.5,1463.6 L753.9,1470.5 L755.2,1456.7 L756.7,1463.6 L758.2,1429.0 L759.3,1463.6 L760.6,1484.3 L762.1,1477.4 L763.7,1470.5 L764.9,1456.7 L766.4,1477.4 L767.8,1477.4 L769.2,1470.5 L770.6,1477.4 L771.9,1477.4 L773.4,1470.5 L775.2,1470.5 L776.8,1470.5 L777.9,1477.4 L779.3,1477.4 L780.4,1463.6 L781.8,1477.4 L783.4,1477.4 L784.8,1477.4 L786.1,1470.5 L787.6,1470.5 L788.8,1477.4 L790.4,1484.3 L791.6,1470.5 L793.3,1463.6 L794.7,1484.3 L796.1,1477.4 L797.8,1470.5 L799.2,1470.5 L800.7,1463.6 L801.8,1477.4 L802.9,1470.5 L804.4,1477.4 L805.8,1449.7 L807.3,1470.5 L808.7,1463.6 L809.8,1477.4 L811.6,1477.4 L812.8,1477.4 L814.3,1470.5 L816.0,1463.6 L817.1,1477.4 L818.8,1470.5 L820.3,1484.3 L821.4,1477.4 L823.0,1470.5 L824.2,1456.7 L825.9,1463.6 L827.1,1470.5 L828.8,1477.4 L830.0,1477.4 L831.6,1456.7 L833.4,1477.4 L834.9,1477.4 L836.3,1477.4 L837.8,1477.4 L839.3,1470.5 L840.7,1477.4 L841.9,1470.5 L843.5,1484.3 L845.0,1470.5 L846.5,1477.4 L848.2,1463.6 L849.8,1470.5 L851.4,1456.7 L852.7,1456.7 L854.0,1470.5 L855.5,1477.4 L856.6,1477.4 L857.8,1477.4 L859.5,1470.5 L860.8,1442.8 L862.3,1477.4 L863.9,1442.8 L865.6,1470.5 L867.0,1470.5 L868.4,1484.3 L869.7,1456.7 L871.1,1477.4 L872.1,1470.5 L873.7,1477.4 L875.3,1477.4 L876.4,1477.4 L877.5,1477.4 L878.6,1456.7 L879.8,1463.6 L880.9,1477.4 L882.1,1470.5 L883.7,1477.4 L885.0,1463.6 L886.2,1477.4 L887.3,1470.5 L888.6,1470.5 L890.1,1470.5 L891.5,1456.7 L893.1,1449.7 L894.7,1470.5 L896.4,1456.7 L898.1,1470.5 L899.5,1484.3 L900.7,1484.3 L902.2,1456.7 L903.3,1463.6 L904.6,1449.7 L906.0,1477.4 L907.2,1449.7 L908.7,1484.3 L910.4,1477.4 L911.6,1477.4 L913.2,1477.4 L914.7,1477.4 L916.0,1477.4 L917.7,1470.5 L919.0,1456.7 L920.6,1470.5 L921.7,1477.4 L923.2,1442.8 L924.4,1463.6 L926.1,1477.4 L927.8,1456.7 L929.2,1463.6 L930.6,1456.7 L932.1,1477.4 L933.4,1477.4 L934.8,1470.5 L936.1,1470.5 L937.7,1470.5 L939.3,1463.6 L940.4,1470.5 L941.5,1456.7 L942.6,1470.5 L944.0,1484.3 L945.2,1463.6 L946.2,1477.4 L947.3,1484.3 L948.6,1477.4 L950.3,1470.5 L951.9,1456.7 L953.5,1456.7 L954.6,1477.4 L956.3,1470.5 L957.3,1484.3 L958.9,1470.5 L960.4,1477.4 L961.8,1470.5 L963.1,1463.6 L964.3,1484.3 L966.0,1470.5 L967.4,1456.7 L968.7,1484.3 L970.0,1477.4 L971.1,1470.5 L972.2,1470.5 L973.5,1484.3 L974.5,1442.8 L976.1,1470.5 L977.3,1470.5 L978.8,1470.5 L980.1,1477.4 L981.4,1463.6 L982.8,1449.7 L984.1,1463.6 L985.3,1477.4 L986.7,1484.3 L988.3,1477.4 L989.8,1470.5 L991.1,1477.4 L992.7,1470.5 L993.8,1470.5 L995.2,1470.5 L996.9,1470.5 L998.0,1463.6 L999.1,1456.7 L1000.6,1470.5 L1002.2,1470.5 L1003.3,1470.5 L1004.6,1484.3 L1006.3,1442.8 L1007.8,1470.5 L1009.4,1484.3 L1010.9,1477.4 L1012.4,1470.5 L1013.5,1477.4 L1014.7,1484.3 L1015.8,1442.8 L1016.9,1477.4 L1018.4,1463.6 L1020.0,1470.5 L1021.1,1470.5 L1022.8,1477.4 L1024.2,1442.8 L1025.8,1470.5 L1027.1,1463.6 L1028.2,1456.7 L1029.8,1456.7 L1030.9,1477.4 L1032.4,1470.5 L1033.8,1470.5 L1035.3,1477.4 L1036.9,1477.4 L1038.2,1470.5 L1039.9,1477.4 L1041.2,1463.6 L1042.5,1470.5 L1042.7,1471.5 L1043.7,1415.2 L1044.7,1464.5 L1045.7,1442.8 L1046.8,1463.6 L1047.9,1456.7 L1049.4,1463.6 L1050.6,1484.3 L1052.2,1477.4 L1053.7,1477.4 L1054.9,1484.3 L1056.6,1456.7 L1057.9,1449.7 L1059.5,1470.5 L1060.8,1470.5 L1061.9,1484.3 L1063.4,1470.5 L1065.2,1484.3 L1066.5,1484.3 L1066.7,1480.5 L1067.7,1415.2 L1068.7,1468.6 L1069.5,1484.3 L1070.8,1484.3 L1071.9,1463.6 L1073.2,1463.6 L1074.8,1484.3 L1076.0,1484.3 L1077.2,1470.5 L1078.8,1484.3 L1079.9,1449.7 L1081.3,1470.5 L1082.6,1484.3 L1083.7,1470.5 L1085.3,1477.4 L1086.8,1470.5 L1088.0,1477.4 L1089.3,1470.5 L1091.0,1456.7 L1092.1,1449.7 L1093.6,1470.5 L1094.8,1484.3 L1096.5,1484.3 L1097.9,1470.5 L1099.0,1456.7 L1100.6,1484.3 L1101.7,1484.3 L1103.1,1484.3 L1104.5,1470.5 L1105.8,1463.6 L1106.9,1470.5 L1108.0,1484.3 L1109.8,1470.5 L1110.9,1456.7 L1112.2,1449.7 L1113.9,1463.6 L1115.6,1477.4 L1116.9,1470.5 L1118.4,1456.7 L1119.9,1470.5 L1121.5,1477.4 L1122.7,1477.4 L1124.2,1477.4 L1125.7,1484.3 L1127.3,1484.3 L1128.5,1477.4 L1129.8,1442.8 L1131.5,1477.4 L1132.9,1470.5 L1134.0,1449.7 L1135.6,1470.5 L1136.8,1477.4 L1138.2,1477.4 L1139.7,1470.5 L1141.5,1477.4 L1142.8,1477.4 L1143.9,1477.4 L1145.1,1477.4 L1146.7,1477.4 L1148.1,1477.4 L1149.5,1470.5 L1150.8,1470.5 L1152.3,1477.4 L1153.9,1463.6 L1155.4,1477.4 L1156.8,1442.8 L1158.1,1456.7 L1159.8,1477.4 L1161.2,1484.3 L1162.9,1470.5 L1164.2,1477.4 L1165.6,1463.6 L1167.1,1484.3 L1168.5,1477.4 L1170.2,1477.4 L1171.7,1470.5 L1173.0,1470.5 L1174.3,1470.5 L1176.0,1470.5 L1177.1,1442.8 L1178.5,1456.7 L1180.3,1463.6 L1182.0,1463.6 L1183.1,1470.5 L1184.5,1470.5 L1185.6,1477.4 L1186.9,1477.4 L1188.1,1470.5 L1189.2,1470.5 L1190.6,1484.3 L1191.8,1470.5 L1193.5,1470.5 L1195.1,1456.7 L1196.4,1477.4 L1197.5,1463.6 L1198.9,1477.4 L1200.0,1477.4 L1201.7,1477.4 L1203.3,1463.6 L1204.8,1470.5 L1205.9,1470.5 L1207.0,1470.5 L1208.1,1470.5 L1209.2,1470.5 L1210.3,1449.7 L1211.8,1470.5 L1213.5,1477.4 L1215.0,1456.7 L1216.5,1470.5 L1218.0,1484.3 L1219.6,1470.5 L1221.2,1449.7 L1222.9,1442.8 L1224.6,1470.5 L1225.7,1463.6 L1227.2,1470.5 L1228.3,1484.3 L1229.9,1463.6 L1231.4,1470.5 L1233.1,1470.5 L1234.5,1456.7 L1235.6,1449.7 L1237.0,1477.4 L1238.2,1470.5 L1239.3,1470.5 L1241.0,1449.7 L1242.5,1477.4 L1244.1,1470.5 L1245.6,1477.4 L1247.2,1477.4 L1248.3,1456.7 L1249.6,1442.8 L1250.8,1456.7 L1252.2,1484.3 L1253.3,1449.7 L1254.6,1470.5 L1256.1,1477.4 L1257.9,1470.5 L1259.3,1470.5 L1260.7,1470.5 L1262.3,1477.4 L1263.8,1449.7 L1265.3,1463.6 L1266.9,1477.4 L1268.6,1470.5 L1270.2,1442.8 L1271.3,1456.7 L1272.7,1477.4 L1273.8,1477.4 L1275.3,1477.4 L1276.8,1463.6 L1278.5,1470.5 L1279.7,1456.7 L1280.8,1484.3 L1282.5,1477.4 L1284.0,1477.4 L1285.5,1470.5 L1286.7,1463.6 L1288.4,1477.4 L1289.9,1477.4 L1291.5,1477.4 L1292.8,1484.3 L1293.8,1477.4 L1295.4,1456.7 L1297.0,1470.5 L1298.6,1484.3 L1300.2,1463.6 L1301.5,1470.5 L1302.5,1470.5 L1303.9,1477.4 L1305.6,1477.4 L1307.3,1484.3 L1309.0,1470.5 L1310.6,1470.5 L1311.7,1470.5 L1312.9,1477.4 L1314.2,1477.4 L1315.9,1484.3 L1317.4,1484.3 L1318.6,1463.6 L1319.0,1466.1 L1320.0,1429.0 L1321.0,1483.6 L1321.1,1484.3 L1322.1,1477.4 L1323.6,1477.4 L1324.9,1484.3 L1326.4,1477.4 L1327.9,1477.4 L1329.5,1470.5 L1330.8,1463.6 L1331.9,1477.4 L1333.6,1470.5 L1334.9,1463.6 L1336.1,1470.5 L1337.5,1477.4 L1338.6,1463.6 L1339.9,1463.6 L1341.0,1484.3 L1342.3,1456.7 L1343.5,1477.4 L1345.2,1463.6 L1346.2,1470.5 L1347.7,1463.6 L1349.1,1477.4 L1350.8,1484.3 L1352.5,1484.3 L1354.0,1477.4 L1355.4,1470.5 L1356.9,1470.5 L1358.6,1456.7 L1359.7,1477.4 L1360.9,1470.5 L1362.6,1477.4 L1364.2,1470.5 L1365.3,1477.4 L1366.8,1470.5 L1368.4,1477.4 L1370.0,1449.7 L1371.2,1442.8 L1372.9,1477.4 L1374.2,1477.4 L1375.8,1470.5 L1377.0,1470.5 L1378.4,1463.6 L1379.5,1456.7 L1380.6,1470.5 L1381.7,1484.3 L1383.2,1470.5 L1384.3,1470.5 L1386.0,1484.3 L1387.1,1470.5 L1388.8,1463.6 L1390.3,1484.3 L1391.8,1470.5 L1393.3,1456.7 L1394.3,1463.6 L1395.8,1470.5 L1396.9,1477.4 L1398.0,1470.5 L1399.0,1470.5 L1400.0,1429.0 L1401.0,1470.8 L1402.4,1484.3 L1403.9,1456.7 L1405.6,1477.4 L1407.1,1477.4 L1408.6,1456.7 L1409.9,1477.4 L1411.4,1456.7 L1412.6,1484.3 L1414.0,1477.4 L1415.2,1484.3 L1416.5,1484.3 L1418.1,1463.6 L1419.4,1477.4 L1420.8,1477.4 L1421.9,1477.4 L1423.2,1477.4 L1423.2,1484.3Z" fill="#0000ff" stroke="#00008b" stroke-width="0.6" stroke-linejoin="round"/>
<path d="M259,1346.02 H271.5 M271,1346.02 V1484.32 M259,1484.32 H271" fill="none" stroke="#222" stroke-width="1"/>
<text x="252.6" y="1349.0" font-size="13.2" text-anchor="end" fill="#222">10</text>
<text x="252.6" y="1487.3" font-size="13.2" text-anchor="end" fill="#222">0</text>
<text x="73.5" y="1421.0" font-size="23.3" fill="#000">GSM2481683</text>
<path d="M271.5,1638.3 L271.5,1634.7 L274.0,1638.3 L276.5,1634.7 L277.7,1638.3 L279.2,1634.7 L281.2,1638.3 L284.2,1631.2 L285.4,1638.3 L286.9,1634.7 L288.9,1638.3 L291.4,1631.2 L292.9,1638.3 L294.9,1631.2 L297.9,1638.3 L300.9,1634.7 L303.9,1638.3 L305.4,1631.2 L306.6,1638.3 L310.1,1634.7 L311.6,1638.3 L313.1,1634.7 L314.6,1638.3 L317.1,1631.2 L320.6,1638.3 L323.1,1634.7 L325.1,1638.3 L326.6,1634.7 L330.1,1638.3 L331.3,1634.7 L333.8,1638.3 L337.3,1634.7 L339.3,1638.3 L342.8,1634.7 L345.3,1638.3 L348.3,1634.7 L349.5,1638.3 L353.0,1631.2 L355.0,1638.3 L357.5,1634.7 L361.0,1638.3 L363.5,1627.6 L364.7,1638.3 L367.2,1634.7 L369.2,1638.3 L370.7,1634.7 L373.2,1638.3 L374.7,1634.7 L377.2,1638.3 L378.4,1627.6 L381.4,1638.3 L383.9,1631.2 L385.4,1638.3 L388.4,1627.6 L391.9,1638.3 L395.4,1631.2 L397.4,1638.3 L398.6,1631.2 L400.1,1638.3 L401.3,1631.2 L403.3,1638.3 L406.3,1631.2 L408.3,1638.3 L409.8,1631.2 L411.3,1638.3 L413.3,1631.2 L415.8,1638.3 L418.3,1631.2 L420.8,1638.3 L423.3,1634.7 L424.5,1638.3 L428.0,1634.7 L431.5,1638.3 L435.0,1627.6 L438.5,1638.3 L439.7,1634.7 L440.9,1638.3 L442.4,1631.2 L444.9,1638.3 L447.4,1631.2 L448.6,1638.3 L450.1,1631.2 L451.3,1638.3 L454.3,1634.7 L455.5,1638.3 L457.0,1631.2 L458.5,1638.3 L459.7,1631.2 L461.2,1638.3 L462.4,1634.7 L465.9,1638.3 L468.9,1634.7 L470.9,1638.3 L472.1,1631.2 L473.6,1638.3 L475.1,1634.7 L477.1,1638.3 L480.6,1634.7 L483.1,1638.3 L484.6,1631.2 L487.6,1638.3 L488.8,1631.2 L492.3,1638.3 L493.8,1634.7 L495.8,1638.3 L497.8,1634.7 L501.3,1638.3 L502.5,1631.2 L506.0,1638.3 L509.5,1634.7 L512.0,1638.3 L515.5,1634.7 L519.0,1638.3 L520.2,1634.7 L522.2,1638.3 L525.7,1634.7 L528.2,1638.3 L531.7,1634.7 L533.2,1638.3 L534.4,1634.7 L537.9,1638.3 L541.4,1634.7 L544.4,1638.3 L547.4,1631.2 L550.9,1638.3 L553.9,1634.7 L556.9,1638.3 L558.4,1634.7 L560.4,1638.3 L562.9,1634.7 L564.1,1638.3 L566.1,1634.7 L567.3,1638.3 L568.5,1631.2 L570.5,1638.3 L574.0,1634.7 L577.5,1638.3 L580.5,1634.7 L581.7,1638.3 L583.7,1634.7 L587.2,1638.3 L588.4,1634.7 L591.9,1638.3 L593.4,1634.7 L596.4,1638.3 L599.9,1634.7 L601.9,1638.3 L603.1,1631.2 L606.1,1638.3 L607.3,1631.2 L610.8,1638.3 L613.3,1631.2 L616.8,1638.3 L618.0,1634.7 L619.2,1638.3 L620.7,1631.2 L623.7,1638.3 L625.7,1631.2 L629.2,1638.3 L631.2,1634.7 L634.7,1638.3 L637.2,1624.1 L640.7,1638.3 L641.9,1634.7 L644.4,1638.3 L647.9,1634.7 L649.4,1638.3 L650.6,1627.6 L654.1,1638.3 L655.6,1634.7 L657.6,1638.3 L660.6,1634.7 L663.6,1638.3 L666.6,1631.2 L670.1,1638.3 L672.1,1634.7 L675.1,1638.3 L677.1,1631.2 L679.6,1638.3 L683.1,1627.6 L685.1,1638.3 L687.6,1634.7 L690.1,1638.3 L692.6,1631.2 L696.1,1638.3 L699.6,1634.7 L700.8,1638.3 L703.8,1634.7 L705.8,1638.3 L709.3,1634.7 L711.8,1638.3 L713.8,1634.7 L715.0,1636.2 L717.7,1635.5 L721.8,1638.3 L725.5,1632.1 L727.2,1637.6 L728.9,1632.1 L730.3,1637.6 L733.4,1636.9 L734.7,1632.1 L736.8,1626.0 L738.8,1625.3 L740.5,1619.2 L741.2,1600.8 L741.9,1539.6 L743.4,1499.5 L744.3,1509.0 L744.9,1541.0 L746.0,1543.0 L746.4,1573.6 L747.5,1502.9 L748.7,1539.6 L750.4,1576.4 L752.1,1625.3 L753.4,1624.7 L754.8,1623.3 L756.2,1623.3 L757.9,1626.0 L759.9,1632.1 L761.3,1637.6 L764.7,1636.2 L767.7,1632.1 L768.7,1636.2 L771.5,1637.6 L773.5,1634.9 L775.0,1637.6 L776.1,1638.3 L777.6,1634.7 L779.6,1638.3 L780.8,1627.6 L783.8,1638.3 L786.3,1634.7 L788.3,1638.3 L791.8,1631.2 L795.3,1638.3 L797.3,1634.7 L800.3,1638.3 L801.8,1631.2 L803.0,1638.3 L804.2,1634.7 L805.4,1638.3 L808.9,1631.2 L810.4,1638.3 L811.6,1627.6 L813.1,1638.3 L816.1,1634.7 L819.6,1638.3 L820.8,1631.2 L822.3,1638.3 L825.8,1634.7 L828.8,1638.3 L831.8,1634.7 L834.3,1638.3 L836.8,1627.6 L840.3,1638.3 L843.8,1634.7 L846.8,1638.3 L848.3,1634.7 L849.8,1638.3 L853.3,1634.7 L856.3,1638.3 L857.8,1634.7 L860.3,1638.3 L862.3,1634.7 L863.8,1638.3 L867.3,1631.2 L869.8,1638.3 L871.3,1634.7 L874.3,1638.3 L876.3,1631.2 L878.8,1638.3 L880.3,1634.7 L883.8,1638.3 L886.8,1634.7 L888.3,1638.3 L889.8,1634.7 L891.3,1638.3 L892.5,1634.7 L894.0,1638.3 L895.5,1634.7 L897.0,1638.3 L898.2,1634.7 L899.4,1638.3 L901.4,1634.7 L903.4,1638.3 L905.4,1627.6 L907.4,1638.3 L909.9,1634.7 L911.1,1638.3 L912.3,1634.7 L914.8,1638.3 L917.8,1631.2 L919.3,1638.3 L922.8,1634.7 L924.8,1638.3 L927.8,1631.2 L929.8,1638.3 L931.8,1631.2 L933.3,1638.3 L935.8,1634.7 L938.3,1638.3 L940.3,1634.7 L941.5,1638.3 L943.5,1631.2 L946.5,1638.3 L948.5,1634.7 L950.5,1638.3 L952.5,1634.7 L955.5,1638.3 L957.0,1631.2 L959.0,1638.3 L960.2,1634.7 L963.7,1638.3 L965.2,1634.7 L966.4,1638.3 L968.9,1634.7 L971.4,1638.3 L973.4,1634.7 L975.4,1638.3 L976.9,1634.7 L978.9,1638.3 L980.1,1634.7 L983.6,1638.3 L987.1,1631.2 L989.1,1638.3 L992.1,1634.7 L993.3,1638.3 L995.3,1634.7 L996.8,1638.3 L999.8,1634.7 L1001.8,1638.3 L1004.8,1634.7 L1007.3,1638.3 L1009.3,1634.7 L1012.8,1638.3 L1014.0,1631.2 L1017.5,1638.3 L1020.5,1634.7 L1024.0,1638.3 L1027.5,1634.7 L1031.0,1638.3 L1034.5,1634.7 L1038.0,1638.3 L1040.0,1634.7 L1042.0,1638.3 L1045.0,1634.7 L1046.5,1638.3 L1049.0,1634.7 L1051.5,1638.3 L1052.7,1634.7 L1055.7,1638.3 L1058.7,1634.7 L1060.2,1638.3 L1061.7,1631.2 L1064.7,1638.3 L1066.7,1631.2 L1067.9,1638.3 L1070.9,1634.7 L1072.4,1638.3 L1074.4,1631.2 L1076.9,1638.3 L1078.9,1634.7 L1080.9,1638.3 L1083.4,1634.7 L1085.9,1638.3 L1089.4,1634.7 L1090.6,1638.3 L1091.8,1631.2 L1094.3,1638.3 L1095.5,1631.2 L1096.7,1638.3 L1098.2,1631.2 L1101.7,1638.3 L1105.2,1631.2 L1107.2,1638.3 L1109.7,1634.7 L1111.2,1638.3 L1114.7,1631.2 L1115.9,1638.3 L1117.4,1627.6 L1119.4,1638.3 L1120.9,1634.7 L1123.9,1638.3 L1125.4,1631.2 L1127.4,1638.3 L1129.9,1634.7 L1131.1,1638.3 L1132.6,1631.2 L1134.1,1638.3 L1137.1,1631.2 L1138.6,1638.3 L1140.6,1631.2 L1142.6,1638.3 L1143.8,1634.7 L1145.3,1638.3 L1147.3,1634.7 L1149.3,1638.3 L1150.8,1627.6 L1154.3,1638.3 L1156.3,1631.2 L1159.3,1638.3 L1162.3,1631.2 L1164.3,1638.3 L1167.8,1631.2 L1170.8,1638.3 L1172.0,1631.2 L1173.2,1638.3 L1175.7,1627.6 L1179.2,1638.3 L1182.2,1631.2 L1184.7,1638.3 L1185.9,1634.7 L1188.9,1638.3 L1190.1,1631.2 L1192.6,1638.3 L1194.6,1634.7 L1197.6,1638.3 L1198.8,1624.1 L1201.3,1638.3 L1204.8,1631.2 L1207.8,1638.3 L1209.3,1631.2 L1211.3,1638.3 L1212.8,1631.2 L1214.0,1638.3 L1215.5,1634.7 L1217.0,1638.3 L1218.5,1634.7 L1222.0,1638.3 L1225.0,1631.2 L1226.2,1638.3 L1227.7,1631.2 L1229.7,1638.3 L1231.7,1634.7 L1234.7,1638.3 L1236.2,1634.7 L1239.7,1638.3 L1240.9,1634.7 L1243.4,1638.3 L1244.9,1634.7 L1246.4,1638.3 L1249.9,1634.7 L1253.4,1638.3 L1256.4,1634.7 L1258.4,1638.3 L1259.6,1634.7 L1261.6,1638.3 L1264.1,1634.7 L1266.6,1638.3 L1267.8,1631.2 L1271.3,1638.3 L1274.8,1634.7 L1277.3,1638.3 L1280.3,1631.2 L1282.8,1638.3 L1285.8,1631.2 L1289.3,1638.3 L1292.3,1631.2 L1295.8,1638.3 L1299.3,1631.2 L1301.3,1638.3 L1302.5,1631.2 L1303.7,1638.3 L1306.2,1631.2 L1307.7,1638.3 L1310.2,1634.7 L1313.7,1638.3 L1317.2,1631.2 L1319.7,1638.3 L1321.2,1634.7 L1324.2,1638.3 L1327.7,1634.7 L1328.9,1638.3 L1331.4,1634.7 L1334.4,1638.3 L1336.9,1634.7 L1338.9,1638.3 L1341.9,1631.2 L1343.1,1638.3 L1346.6,1634.7 L1348.6,1638.3 L1350.6,1627.6 L1352.6,1638.3 L1354.1,1634.7 L1356.6,1638.3 L1357.8,1634.7 L1361.3,1638.3 L1364.3,1634.7 L1367.3,1638.3 L1368.8,1631.2 L1372.3,1638.3 L1374.8,1631.2 L1376.3,1638.3 L1378.3,1627.6 L1381.8,1638.3 L1383.3,1631.2 L1384.8,1638.3 L1386.3,1634.7 L1388.8,1638.3 L1390.8,1634.7 L1392.3,1638.3 L1394.3,1634.7 L1395.8,1638.3 L1398.3,1634.7 L1400.8,1638.3 L1403.3,1634.7 L1405.3,1638.3 L1406.5,1634.7 L1410.0,1638.3 L1411.2,1634.7 L1412.7,1638.3 L1416.2,1634.7 L1417.4,1638.3 L1419.9,1634.7 L1421.9,1638.3 L1421.9,1638.3Z" fill="#0000ff" stroke="#00008b" stroke-width="0.6" stroke-linejoin="round"/>
<path d="M259,1499.96 H271.5 M271,1499.96 V1638.26 M259,1638.26 H271" fill="none" stroke="#222" stroke-width="1"/>
<text x="252.6" y="1503.0" font-size="13.2" text-anchor="end" fill="#222">39</text>
<text x="252.6" y="1641.3" font-size="13.2" text-anchor="end" fill="#222">0</text>
<text x="73.5" y="1574.9" font-size="23.3" fill="#000">GSM2481682</text>
<path d="M272.0,1792.2 L272.0,1757.7 L328.5,1791.8 L383.8,1757.2 L384.1,1757.7 L385.3,1792.2 L387.6,1653.5 L390.1,1792.2 L391.0,1757.2 L507.2,1791.8 L626.2,1757.7 L662.4,1792.2 L663.0,1791.8 L698.5,1757.7 L698.8,1757.6 L705.3,1792.2 L711.4,1757.6 L712.5,1688.2 L841.6,1791.8 L974.8,1757.7 L975.1,1722.9 L975.8,1757.7 L1004.2,1791.8 L1034.3,1757.7 L1087.2,1791.8 L1142.0,1757.7 L1161.4,1791.8 L1182.8,1757.7 L1286.5,1791.8 L1390.2,1757.7 L1400.2,1791.8 L1408.9,1757.7 L1416.9,1791.8 L1416.9,1792.2Z" fill="#0000ff" stroke="#00008b" stroke-width="0.6" stroke-linejoin="round"/>
<path d="M259,1653.90 H271.5 M271,1653.90 V1792.20 M259,1792.20 H271" fill="none" stroke="#222" stroke-width="1"/>
<text x="252.6" y="1656.9" font-size="13.2" text-anchor="end" fill="#222">274</text>
<text x="252.6" y="1795.2" font-size="13.2" text-anchor="end" fill="#222">0</text>
<text x="73.5" y="1728.9" font-size="23.3" fill="#000">GSM2481681</text>
<path d="M325.2,1946.1 L325.2,1945.8 L380.1,1876.9 L442.3,1945.8 L507.8,1876.9 L508.5,1900.3 L509.8,1876.9 L626.2,1945.8 L743.3,1876.9 L761.3,1945.8 L778.7,1876.9 L808.2,1945.8 L834.9,1876.9 L853.0,1945.8 L871.8,1807.4 L885.1,1945.8 L895.2,1876.9 L984.1,1945.8 L1075.8,1876.9 L1174.8,1945.8 L1276.5,1876.9 L1299.9,1945.8 L1325.3,1876.9 L1373.5,1945.8 L1373.5,1946.1Z" fill="#0000ff" stroke="#00008b" stroke-width="0.6" stroke-linejoin="round"/>
<path d="M259,1807.84 H271.5 M271,1807.84 V1946.14 M259,1946.14 H271" fill="none" stroke="#222" stroke-width="1"/>
<text x="252.6" y="1810.8" font-size="13.2" text-anchor="end" fill="#222">79</text>
<text x="252.6" y="1949.1" font-size="13.2" text-anchor="end" fill="#222">0</text>
<text x="73.5" y="1882.8" font-size="23.3" fill="#000">GSM2481680</text>
<path d="M277.0,2100.1 L277.0,2099.8 L282.4,2030.9 L317.2,2099.8 L353.3,2030.9 L354.6,2099.8 L356.6,2030.9 L372.0,2099.8 L386.7,2030.9 L388.1,1961.4 L389.4,2030.9 L420.2,2099.8 L452.3,2030.9 L460.3,2099.8 L467.7,2030.9 L517.9,2099.8 L567.4,2030.9 L606.2,2099.8 L640.9,2030.9 L642.3,1961.4 L643.6,1961.4 L696.5,2099.8 L752.0,2030.9 L805.5,2099.8 L858.4,2030.9 L907.2,2099.8 L956.0,2030.9 L957.4,2099.8 L958.7,1961.4 L965.4,2099.8 L972.1,2030.9 L1008.9,2099.8 L1045.7,2030.9 L1057.7,2099.8 L1067.8,2030.9 L1231.6,2099.8 L1393.5,2030.9 L1408.9,2099.8 L1408.9,2100.1Z" fill="#0000ff" stroke="#00008b" stroke-width="0.6" stroke-linejoin="round"/>
<path d="M259,1961.78 H271.5 M271,1961.78 V2100.08 M259,2100.08 H271" fill="none" stroke="#222" stroke-width="1"/>
<text x="252.6" y="1964.8" font-size="13.2" text-anchor="end" fill="#222">74</text>
<text x="252.6" y="2103.1" font-size="13.2" text-anchor="end" fill="#222">0</text>
<text x="73.5" y="2036.7" font-size="23.3" fill="#000">GSM2481679</text>
<path d="M281.7,2254.0 L281.7,2253.8 L291.8,2184.9 L301.8,2253.8 L310.5,2184.9 L367.3,2253.8 L425.5,2184.9 L428.9,2253.8 L433.6,2184.9 L449.0,2253.8 L464.3,2184.9 L502.5,2253.8 L540.6,2184.9 L548.0,2253.8 L554.0,2184.9 L592.8,2253.8 L630.9,2184.9 L665.0,2253.8 L701.1,2184.9 L703.2,2241.8 L704.5,2184.9 L750.0,2253.8 L796.8,2184.9 L798.1,2241.8 L800.1,2115.4 L802.2,2184.9 L833.6,2253.8 L865.7,2184.9 L867.1,2115.4 L899.9,2253.8 L934.0,2184.9 L964.1,2253.8 L994.2,2184.9 L1064.4,2253.8 L1136.0,2184.9 L1137.3,2208.3 L1138.0,2184.9 L1150.7,2253.8 L1162.7,2184.9 L1172.8,2253.8 L1181.5,2184.9 L1191.5,2253.8 L1202.9,2184.9 L1221.6,2253.8 L1239.7,2184.9 L1268.4,2253.8 L1297.9,2184.9 L1301.2,2253.8 L1305.2,2184.9 L1341.3,2253.8 L1376.8,2184.9 L1377.5,2115.4 L1378.1,2184.9 L1382.2,2253.8 L1388.2,2184.9 L1392.2,2253.8 L1397.5,2184.9 L1410.2,2253.8 L1410.2,2254.0Z" fill="#0000ff" stroke="#00008b" stroke-width="0.6" stroke-linejoin="round"/>
<path d="M259,2115.72 H271.5 M271,2115.72 V2254.02 M259,2254.02 H271" fill="none" stroke="#222" stroke-width="1"/>
<text x="252.6" y="2118.7" font-size="13.2" text-anchor="end" fill="#222">58</text>
<text x="252.6" y="2257.0" font-size="13.2" text-anchor="end" fill="#222">0</text>
<text x="73.5" y="2190.7" font-size="23.3" fill="#000">GSM2481678</text>
<path d="M271.5,2408.0 L271.5,2404.6 L272.7,2408.0 L272.7,2408.0 L273.7,2387.1 L274.7,2401.2 L274.7,2401.2 L276.2,2408.0 L279.7,2401.2 L281.2,2408.0 L284.2,2391.0 L287.7,2408.0 L290.7,2404.6 L291.9,2408.0 L294.9,2397.8 L296.9,2408.0 L298.9,2401.2 L300.1,2408.0 L302.6,2404.6 L305.6,2408.0 L308.6,2404.6 L310.6,2408.0 L313.6,2397.8 L317.1,2408.0 L320.6,2397.8 L323.6,2408.0 L326.1,2404.6 L329.6,2408.0 L331.1,2397.8 L333.1,2408.0 L336.0,2404.7 L337.0,2397.5 L338.0,2406.4 L339.6,2408.0 L340.8,2391.0 L342.3,2408.0 L345.3,2401.2 L347.3,2408.0 L349.3,2404.6 L352.3,2408.0 L353.8,2404.6 L355.0,2408.0 L358.0,2404.6 L360.0,2408.0 L360.0,2406.9 L362.4,2401.5 L365.1,2407.6 L366.5,2405.5 L368.5,2408.0 L370.9,2406.2 L372.6,2407.6 L373.6,2404.2 L376.0,2404.2 L378.0,2394.7 L379.4,2400.8 L383.5,2405.5 L385.2,2398.1 L386.5,2364.0 L388.4,2269.1 L389.9,2309.6 L391.0,2350.4 L392.7,2398.7 L393.3,2406.9 L395.4,2406.2 L396.7,2407.6 L399.5,2403.5 L400.8,2403.5 L402.2,2391.9 L404.2,2403.5 L406.9,2404.2 L409.0,2407.6 L414.4,2402.1 L420.0,2407.6 L420.1,2404.6 L421.3,2408.0 L423.3,2404.6 L426.8,2408.0 L428.0,2404.6 L430.0,2408.0 L432.0,2401.2 L434.5,2408.0 L437.0,2397.8 L439.0,2408.0 L440.2,2404.6 L441.7,2408.0 L444.7,2404.6 L445.9,2408.0 L449.4,2404.6 L450.6,2408.0 L453.1,2401.2 L456.6,2408.0 L459.1,2401.2 L460.6,2408.0 L463.1,2397.8 L466.6,2408.0 L469.6,2401.2 L471.1,2408.0 L472.6,2394.4 L475.6,2408.0 L478.1,2404.6 L479.3,2408.0 L481.3,2404.6 L484.3,2408.0 L487.8,2401.2 L491.3,2408.0 L493.8,2401.2 L495.8,2408.0 L497.8,2404.6 L499.0,2408.0 L500.2,2404.6 L501.4,2408.0 L504.9,2404.6 L506.9,2408.0 L508.4,2394.4 L509.9,2408.0 L511.1,2404.6 L514.6,2408.0 L518.1,2397.8 L520.6,2408.0 L524.1,2404.6 L526.1,2408.0 L528.1,2404.6 L529.6,2408.0 L533.1,2401.2 L536.6,2408.0 L539.6,2401.2 L542.1,2408.0 L543.6,2404.6 L546.6,2408.0 L547.8,2404.6 L549.8,2408.0 L553.3,2397.8 L555.3,2408.0 L557.8,2401.2 L558.0,2402.3 L559.0,2384.5 L560.0,2402.9 L561.0,2397.8 L562.5,2408.0 L566.0,2404.6 L569.0,2408.0 L570.5,2404.6 L571.7,2408.0 L572.9,2397.8 L574.4,2408.0 L576.4,2404.6 L578.4,2408.0 L581.9,2397.8 L585.4,2408.0 L588.9,2404.6 L590.1,2408.0 L593.1,2404.6 L594.3,2408.0 L595.8,2404.6 L598.3,2408.0 L600.8,2401.2 L603.3,2408.0 L604.5,2397.8 L607.0,2408.0 L609.0,2391.0 L611.0,2404.6 L612.0,2394.9 L613.0,2406.5 L615.0,2404.6 L618.0,2408.0 L619.2,2404.6 L621.7,2408.0 L624.0,2404.8 L625.0,2394.9 L626.0,2407.4 L629.2,2401.2 L632.7,2408.0 L633.9,2397.8 L635.9,2408.0 L637.4,2401.2 L640.9,2408.0 L642.1,2404.6 L645.1,2408.0 L647.6,2391.0 L649.1,2408.0 L650.3,2404.6 L652.8,2408.0 L654.3,2404.6 L656.3,2408.0 L657.8,2404.6 L659.0,2408.0 L660.2,2401.2 L662.7,2408.0 L664.2,2401.2 L666.2,2408.0 L668.2,2404.6 L671.7,2408.0 L674.7,2404.6 L675.9,2408.0 L677.1,2404.6 L679.6,2408.0 L682.1,2404.6 L683.3,2408.0 L684.5,2404.6 L687.5,2408.0 L690.5,2404.6 L692.5,2408.0 L696.0,2401.2 L698.5,2408.0 L701.5,2404.6 L705.0,2408.0 L707.0,2404.6 L710.5,2408.0 L712.5,2391.0 L713.7,2408.0 L716.7,2401.2 L719.2,2408.0 L720.4,2404.6 L721.9,2408.0 L725.4,2404.6 L727.9,2408.0 L730.9,2404.6 L733.9,2408.0 L736.4,2404.6 L739.4,2408.0 L741.9,2401.2 L743.1,2408.0 L743.6,2407.3 L744.6,2391.0 L745.6,2404.6 L745.6,2404.6 L749.1,2408.0 L750.6,2404.6 L753.1,2408.0 L756.6,2404.6 L758.6,2408.0 L759.8,2404.6 L761.8,2408.0 L765.3,2397.8 L768.8,2408.0 L770.8,2404.6 L772.0,2408.0 L775.0,2397.8 L777.0,2408.0 L779.5,2401.2 L782.0,2408.0 L784.0,2401.2 L786.0,2408.0 L787.2,2404.6 L788.4,2408.0 L789.9,2401.2 L791.1,2408.0 L793.1,2397.8 L794.6,2408.0 L798.1,2397.8 L801.6,2408.0 L805.1,2401.2 L807.1,2408.0 L810.1,2404.6 L813.1,2408.0 L816.6,2404.6 L818.6,2408.0 L821.6,2404.6 L823.1,2408.0 L826.6,2404.6 L827.8,2408.0 L830.8,2401.2 L832.3,2408.0 L835.8,2404.6 L837.8,2408.0 L840.3,2404.6 L841.8,2408.0 L845.3,2404.6 L847.3,2408.0 L848.5,2401.2 L851.5,2408.0 L855.0,2404.6 L856.2,2408.0 L858.2,2397.8 L860.7,2408.0 L863.7,2401.2 L867.2,2408.0 L868.7,2401.2 L869.9,2408.0 L872.9,2397.8 L874.9,2408.0 L877.4,2404.6 L879.9,2408.0 L881.4,2404.6 L883.9,2408.0 L886.9,2397.8 L889.4,2408.0 L891.9,2404.6 L894.9,2408.0 L897.9,2404.6 L901.4,2408.0 L904.4,2404.6 L906.4,2408.0 L908.9,2397.8 L910.1,2408.0 L913.6,2404.6 L916.6,2408.0 L917.8,2397.8 L919.3,2408.0 L920.8,2401.2 L924.3,2408.0 L925.5,2401.2 L927.5,2408.0 L928.7,2404.6 L930.2,2408.0 L931.4,2404.6 L933.9,2408.0 L935.4,2404.6 L937.9,2408.0 L939.4,2397.8 L942.4,2408.0 L945.4,2401.2 L947.4,2408.0 L949.9,2404.6 L951.4,2408.0 L953.9,2394.4 L955.9,2408.0 L958.4,2404.6 L959.9,2408.0 L963.4,2401.2 L965.4,2408.0 L966.6,2401.2 L967.8,2408.0 L969.8,2397.8 L971.8,2408.0 L973.8,2401.2 L976.3,2408.0 L978.8,2404.6 L980.0,2408.0 L982.0,2401.2 L985.5,2408.0 L986.7,2404.6 L989.7,2408.0 L990.9,2404.6 L992.4,2408.0 L993.6,2401.2 L996.1,2408.0 L997.3,2391.0 L999.0,2399.2 L1000.0,2394.9 L1001.0,2407.6 L1002.8,2404.6 L1004.0,2408.0 L1006.0,2404.6 L1008.0,2408.0 L1009.2,2404.6 L1011.7,2408.0 L1014.2,2401.2 L1017.7,2408.0 L1021.2,2404.6 L1023.2,2408.0 L1024.4,2404.6 L1025.6,2408.0 L1027.1,2404.6 L1029.6,2408.0 L1033.1,2404.6 L1036.1,2408.0 L1039.1,2404.6 L1040.3,2408.0 L1042.3,2401.2 L1044.3,2408.0 L1046.3,2397.8 L1047.8,2408.0 L1050.3,2404.6 L1051.5,2408.0 L1053.0,2404.6 L1054.2,2408.0 L1055.4,2404.6 L1058.4,2408.0 L1061.4,2404.6 L1064.9,2408.0 L1067.4,2391.0 L1070.4,2408.0 L1073.4,2404.6 L1074.9,2408.0 L1076.4,2404.6 L1078.9,2408.0 L1080.1,2404.6 L1083.6,2408.0 L1087.1,2404.6 L1090.6,2408.0 L1092.6,2401.2 L1094.6,2408.0 L1096.6,2401.2 L1099.6,2408.0 L1101.6,2404.6 L1104.6,2408.0 L1106.1,2404.6 L1107.3,2408.0 L1110.8,2404.6 L1112.8,2408.0 L1114.8,2397.8 L1118.3,2408.0 L1120.8,2401.2 L1122.8,2408.0 L1124.0,2394.4 L1127.5,2408.0 L1128.7,2401.2 L1130.7,2408.0 L1133.2,2404.6 L1136.2,2408.0 L1137.7,2404.6 L1141.2,2408.0 L1142.4,2404.6 L1145.4,2408.0 L1146.9,2401.2 L1148.4,2408.0 L1150.9,2397.8 L1154.4,2408.0 L1157.9,2397.8 L1159.1,2408.0 L1161.6,2404.6 L1164.1,2408.0 L1167.1,2394.4 L1170.1,2408.0 L1171.3,2404.6 L1174.3,2408.0 L1176.3,2401.2 L1178.8,2408.0 L1180.0,2391.0 L1182.5,2408.0 L1184.5,2404.6 L1186.5,2408.0 L1188.0,2401.2 L1191.5,2408.0 L1195.0,2401.2 L1196.5,2408.0 L1198.5,2394.4 L1200.5,2408.0 L1202.5,2401.2 L1204.0,2408.0 L1205.5,2391.0 L1207.0,2408.0 L1209.0,2394.4 L1210.5,2408.0 L1214.0,2397.8 L1216.0,2408.0 L1218.5,2404.6 L1221.0,2408.0 L1223.0,2401.2 L1224.2,2408.0 L1227.7,2401.2 L1229.7,2408.0 L1231.2,2397.8 L1234.7,2408.0 L1237.7,2404.6 L1241.2,2408.0 L1242.4,2401.2 L1244.4,2408.0 L1247.4,2404.6 L1248.9,2408.0 L1250.1,2404.6 L1251.6,2408.0 L1253.6,2404.6 L1254.0,2405.0 L1255.0,2396.2 L1256.0,2406.9 L1257.1,2408.0 L1259.6,2404.6 L1261.6,2408.0 L1263.1,2404.6 L1266.6,2408.0 L1267.8,2401.2 L1270.3,2408.0 L1273.8,2401.2 L1275.8,2408.0 L1278.8,2404.6 L1279.0,2404.8 L1280.0,2392.3 L1281.0,2406.7 L1282.3,2408.0 L1283.5,2391.0 L1286.0,2403.1 L1287.0,2393.6 L1288.0,2406.3 L1289.0,2404.6 L1290.2,2408.0 L1293.7,2394.4 L1294.9,2408.0 L1298.4,2404.6 L1300.9,2408.0 L1303.9,2401.2 L1305.4,2408.0 L1308.4,2394.4 L1309.6,2408.0 L1313.1,2401.2 L1316.6,2408.0 L1319.1,2404.6 L1321.1,2408.0 L1322.3,2404.6 L1325.8,2408.0 L1328.8,2391.0 L1331.3,2408.0 L1334.3,2397.8 L1336.3,2408.0 L1338.8,2404.6 L1341.8,2408.0 L1344.3,2404.6 L1346.3,2408.0 L1349.8,2404.6 L1351.3,2408.0 L1354.8,2404.6 L1358.3,2408.0 L1359.8,2401.2 L1362.3,2408.0 L1363.8,2397.8 L1366.8,2408.0 L1369.8,2404.6 L1371.3,2408.0 L1374.3,2404.6 L1377.3,2408.0 L1378.5,2401.2 L1380.0,2408.0 L1381.5,2404.6 L1383.5,2408.0 L1385.5,2401.2 L1388.0,2408.0 L1390.0,2404.6 L1392.5,2408.0 L1394.0,2404.6 L1397.5,2408.0 L1400.0,2397.8 L1401.5,2408.0 L1404.5,2404.6 L1407.0,2408.0 L1410.5,2397.8 L1414.0,2408.0 L1417.5,2404.6 L1420.0,2408.0 L1422.0,2404.6 L1422.0,2408.0Z" fill="#0000ff" stroke="#00008b" stroke-width="0.6" stroke-linejoin="round"/>
<path d="M259,2269.66 H271.5 M271,2269.66 V2407.96 M259,2407.96 H271" fill="none" stroke="#222" stroke-width="1"/>
<text x="252.6" y="2272.7" font-size="13.2" text-anchor="end" fill="#222">53</text>
<text x="252.6" y="2411.0" font-size="13.2" text-anchor="end" fill="#222">0</text>
<text x="73.5" y="2344.6" font-size="23.3" fill="#000">GSM2481677</text>
<path d="M281.1,2561.9 L281.1,2561.8 L294.3,2423.6 L511.2,2561.8 L728.6,2423.4 L980.1,2561.8 L1231.6,2423.4 L1328.0,2561.8 L1328.0,2561.9Z" fill="#0000ff" stroke="#00008b" stroke-width="0.6" stroke-linejoin="round"/>
<path d="M259,2423.60 H271.5 M271,2423.60 V2561.90 M259,2561.90 H271" fill="none" stroke="#222" stroke-width="1"/>
<text x="252.6" y="2426.6" font-size="13.2" text-anchor="end" fill="#222">174</text>
<text x="252.6" y="2564.9" font-size="13.2" text-anchor="end" fill="#222">0</text>
<text x="73.5" y="2498.6" font-size="23.3" fill="#000">GSM2481676</text>
<path d="M270.9,2715.8 L270.9,2707.6 L271.5,2699.4 L272.1,2707.6 L273.0,2709.3 L274.0,2699.5 L275.0,2713.0 L276.5,2715.8 L281.5,2707.6 L283.5,2715.8 L289.5,2707.6 L292.0,2715.8 L295.4,2707.6 L296.0,2691.2 L296.6,2707.6 L298.5,2715.8 L301.5,2707.6 L306.5,2715.8 L309.9,2707.6 L310.5,2699.4 L311.1,2707.6 L315.5,2715.8 L317.5,2707.6 L320.5,2715.8 L322.0,2713.4 L323.0,2691.1 L324.0,2710.1 L325.5,2707.6 L327.5,2715.8 L331.9,2707.6 L332.5,2699.4 L333.1,2707.6 L334.5,2715.8 L338.5,2707.6 L344.5,2715.8 L349.5,2707.6 L353.5,2715.8 L358.5,2707.6 L360.0,2712.2 L363.1,2715.8 L370.2,2708.1 L371.2,2697.9 L373.6,2697.9 L375.6,2715.8 L378.4,2697.9 L382.4,2715.8 L384.8,2708.1 L386.2,2670.0 L388.4,2577.1 L389.6,2669.3 L390.6,2672.0 L391.3,2699.3 L396.4,2715.8 L402.9,2708.1 L404.6,2715.8 L407.4,2689.7 L408.6,2715.8 L410.3,2697.9 L414.4,2715.8 L418.5,2708.1 L420.0,2711.5 L423.4,2707.6 L424.0,2699.4 L424.6,2707.6 L430.0,2715.8 L432.5,2707.6 L437.5,2715.8 L443.5,2707.6 L449.5,2715.8 L453.5,2707.6 L456.0,2715.8 L459.0,2707.6 L461.5,2715.8 L466.9,2707.6 L467.5,2699.4 L468.1,2707.6 L473.5,2715.8 L475.5,2707.6 L479.5,2715.8 L483.5,2707.6 L486.5,2715.8 L488.5,2707.6 L491.5,2715.8 L493.5,2707.6 L495.5,2715.8 L497.4,2707.6 L498.0,2699.4 L498.6,2707.6 L503.0,2715.8 L507.0,2707.6 L512.0,2715.8 L514.5,2707.6 L519.5,2715.8 L523.5,2707.6 L528.5,2715.8 L532.5,2707.6 L537.5,2715.8 L540.5,2707.6 L545.5,2715.8 L546.9,2707.6 L547.5,2699.4 L548.1,2707.6 L553.5,2715.8 L555.5,2707.6 L558.5,2715.8 L561.5,2707.6 L563.5,2715.8 L565.9,2707.6 L566.5,2699.4 L567.1,2707.6 L569.5,2715.8 L572.5,2707.6 L575.0,2715.8 L576.9,2707.6 L577.5,2699.4 L578.1,2707.6 L579.7,2713.1 L580.7,2691.1 L581.7,2712.5 L583.5,2707.6 L588.5,2715.8 L590.5,2707.6 L593.5,2715.8 L594.9,2707.6 L595.5,2699.4 L596.1,2707.6 L601.5,2715.8 L604.0,2707.6 L607.0,2715.8 L609.5,2707.6 L615.5,2715.8 L619.5,2707.6 L624.5,2715.8 L629.5,2707.6 L632.0,2715.8 L637.0,2707.6 L641.0,2715.8 L645.0,2707.6 L649.0,2715.8 L650.6,2712.5 L651.6,2691.1 L652.6,2708.4 L653.0,2707.6 L655.0,2715.8 L657.0,2707.6 L662.0,2715.8 L664.0,2707.6 L667.0,2715.8 L671.0,2707.6 L676.0,2715.8 L680.0,2707.6 L682.0,2715.8 L685.4,2707.6 L686.0,2699.4 L686.6,2707.6 L688.5,2715.8 L692.5,2707.6 L694.5,2715.8 L699.9,2707.6 L700.5,2699.4 L701.1,2707.6 L703.0,2715.8 L705.5,2707.6 L710.5,2715.8 L712.5,2707.6 L715.5,2715.8 L719.9,2707.6 L720.5,2699.4 L721.1,2707.6 L722.5,2715.8 L727.5,2707.6 L731.5,2715.8 L734.5,2707.6 L740.5,2715.8 L741.0,2715.0 L742.0,2699.5 L743.0,2711.7 L744.0,2710.1 L745.0,2683.1 L746.0,2709.3 L748.0,2715.8 L750.0,2707.6 L754.0,2715.8 L758.0,2707.6 L764.0,2715.8 L767.0,2707.6 L769.0,2715.8 L774.0,2707.6 L777.0,2715.8 L783.0,2707.6 L785.0,2715.8 L789.0,2707.6 L791.5,2715.8 L793.4,2707.6 L794.0,2699.4 L794.6,2707.6 L800.0,2715.8 L802.0,2707.6 L805.0,2715.8 L806.4,2707.6 L807.0,2699.4 L807.6,2707.6 L813.0,2715.8 L817.4,2707.6 L818.0,2699.4 L818.6,2707.6 L824.0,2715.8 L827.4,2707.6 L828.0,2682.9 L828.6,2707.6 L834.0,2715.8 L840.0,2707.6 L842.0,2715.8 L844.4,2707.6 L845.0,2699.4 L845.6,2707.6 L847.5,2715.8 L849.4,2707.6 L850.0,2699.4 L850.6,2707.6 L855.0,2715.8 L858.0,2707.6 L860.5,2715.8 L862.5,2707.6 L864.5,2715.8 L868.5,2707.6 L874.5,2715.8 L876.4,2707.6 L877.0,2699.4 L877.6,2707.6 L879.0,2715.8 L882.0,2707.6 L884.5,2715.8 L886.5,2707.6 L888.5,2715.8 L893.5,2707.6 L897.5,2715.8 L902.5,2707.6 L906.5,2715.8 L912.5,2707.6 L918.5,2715.8 L924.5,2707.6 L930.5,2715.8 L932.5,2707.6 L938.5,2715.8 L943.5,2707.6 L949.5,2715.8 L955.5,2707.6 L957.5,2715.8 L958.9,2707.6 L959.5,2691.2 L960.1,2707.6 L961.5,2715.8 L965.5,2707.6 L971.5,2715.8 L974.0,2711.7 L975.0,2691.1 L976.0,2708.4 L976.5,2707.6 L982.5,2715.8 L984.9,2707.6 L985.5,2699.4 L986.1,2707.6 L988.0,2715.8 L990.5,2707.6 L994.5,2715.8 L996.5,2707.6 L1000.5,2715.8 L1002.9,2707.6 L1003.5,2699.4 L1004.1,2707.6 L1006.5,2715.8 L1008.4,2707.6 L1009.0,2691.2 L1009.6,2707.6 L1013.0,2715.8 L1015.5,2707.6 L1016.0,2709.0 L1017.0,2691.1 L1018.0,2714.5 L1018.5,2715.8 L1021.9,2707.6 L1022.5,2699.4 L1023.1,2707.6 L1028.5,2715.8 L1031.5,2707.6 L1034.0,2715.8 L1036.0,2707.6 L1038.0,2715.8 L1041.0,2707.6 L1045.0,2715.8 L1047.0,2707.6 L1050.0,2715.8 L1052.0,2707.6 L1054.5,2715.8 L1059.5,2707.6 L1062.5,2715.8 L1068.5,2707.6 L1070.5,2715.8 L1073.5,2707.6 L1076.0,2715.8 L1079.0,2707.6 L1083.0,2715.8 L1089.0,2707.6 L1091.0,2715.8 L1097.0,2707.6 L1099.5,2715.8 L1101.4,2707.6 L1102.0,2699.4 L1102.6,2707.6 L1108.0,2715.8 L1111.0,2707.6 L1113.0,2715.8 L1115.0,2707.6 L1117.0,2715.8 L1120.0,2707.6 L1122.5,2715.8 L1128.5,2707.6 L1132.5,2715.8 L1133.9,2707.6 L1134.5,2699.4 L1135.1,2707.6 L1137.5,2715.8 L1139.5,2707.6 L1144.5,2715.8 L1147.5,2707.6 L1153.5,2715.8 L1159.5,2707.6 L1162.5,2715.8 L1166.5,2707.6 L1168.5,2715.8 L1169.9,2707.6 L1170.5,2699.4 L1171.1,2707.6 L1172.5,2715.8 L1175.5,2707.6 L1178.5,2715.8 L1180.5,2707.6 L1184.5,2715.8 L1185.0,2714.8 L1186.0,2683.1 L1187.0,2710.7 L1188.5,2707.6 L1189.0,2709.0 L1190.0,2699.5 L1191.0,2714.5 L1191.5,2715.8 L1195.5,2707.6 L1197.5,2715.8 L1202.9,2707.6 L1203.5,2699.4 L1204.1,2707.6 L1208.5,2715.8 L1212.5,2707.6 L1217.5,2715.8 L1220.9,2707.6 L1221.5,2699.4 L1222.1,2707.6 L1226.5,2715.8 L1228.5,2707.6 L1234.5,2715.8 L1237.0,2707.6 L1239.0,2715.8 L1241.5,2707.6 L1245.5,2715.8 L1247.9,2707.6 L1248.5,2699.4 L1249.1,2707.6 L1251.5,2715.8 L1257.5,2707.6 L1263.5,2715.8 L1267.5,2707.6 L1269.5,2715.8 L1271.9,2707.6 L1272.5,2699.4 L1273.1,2707.6 L1278.5,2715.8 L1283.5,2707.6 L1287.5,2715.8 L1291.5,2707.6 L1295.5,2715.8 L1300.5,2707.6 L1304.0,2713.4 L1305.0,2699.5 L1306.0,2714.5 L1308.5,2707.6 L1313.5,2715.8 L1316.0,2707.6 L1318.0,2715.8 L1324.0,2707.6 L1329.0,2715.8 L1333.0,2707.6 L1334.0,2711.7 L1335.0,2699.5 L1336.0,2713.1 L1338.0,2707.6 L1340.0,2715.8 L1342.0,2707.6 L1346.0,2715.8 L1350.0,2707.6 L1355.0,2715.8 L1360.4,2707.6 L1361.0,2699.4 L1361.6,2707.6 L1365.0,2715.8 L1367.0,2707.6 L1369.0,2715.8 L1372.0,2707.6 L1377.0,2715.8 L1382.0,2707.6 L1388.0,2715.8 L1389.9,2707.6 L1390.5,2691.2 L1391.1,2707.6 L1394.5,2715.8 L1396.5,2707.6 L1399.0,2714.5 L1400.0,2699.5 L1401.0,2713.4 L1404.5,2707.6 L1406.5,2715.8 L1408.4,2707.6 L1409.0,2699.4 L1409.6,2707.6 L1415.0,2715.8 L1419.0,2707.6 L1423.0,2715.8 L1423.0,2715.8Z" fill="#0000ff" stroke="#00008b" stroke-width="0.6" stroke-linejoin="round"/>
<path d="M259,2577.54 H271.5 M271,2577.54 V2715.84 M259,2715.84 H271" fill="none" stroke="#222" stroke-width="1"/>
<text x="252.6" y="2580.5" font-size="13.2" text-anchor="end" fill="#222">38</text>
<text x="252.6" y="2718.8" font-size="13.2" text-anchor="end" fill="#222">0</text>
<text x="73.5" y="2652.5" font-size="23.3" fill="#000">GSM2481675</text>
<path d="M469.0,2869.8 L469.0,2869.8 L669.0,2731.4 L669.8,2731.5 L670.3,2756.0 L670.8,2731.5 L891.8,2869.8 L1112.6,2731.4 L1268.4,2869.8 L1268.4,2869.8Z" fill="#0000ff" stroke="#00008b" stroke-width="0.6" stroke-linejoin="round"/>
<path d="M259,2731.48 H271.5 M271,2731.48 V2869.78 M259,2869.78 H271" fill="none" stroke="#222" stroke-width="1"/>
<text x="252.6" y="2734.5" font-size="13.2" text-anchor="end" fill="#222">120</text>
<text x="252.6" y="2872.8" font-size="13.2" text-anchor="end" fill="#222">0</text>
<text x="73.5" y="2806.4" font-size="23.3" fill="#000">GSM2481674</text>
<path d="M271.5,3023.7 L271.5,3020.4 L272.7,3021.4 L273.7,2998.8 L274.7,3023.1 L275.5,3023.7 L280.5,3020.4 L285.5,3023.7 L290.5,3020.4 L295.5,3023.7 L299.9,3020.4 L300.5,3017.1 L301.1,3020.4 L308.5,3023.7 L314.5,3020.4 L322.5,3023.7 L327.5,3020.4 L335.5,3023.7 L338.9,3020.4 L339.5,3017.1 L340.1,3020.4 L349.5,3023.7 L359.5,3020.4 L360.0,3012.0 L361.7,3012.0 L362.7,3019.5 L366.8,3023.6 L371.2,3019.5 L374.3,3023.6 L377.0,3019.5 L379.4,3023.6 L381.1,3016.1 L383.1,3011.3 L384.5,3012.7 L386.2,2990.2 L388.4,2885.1 L389.9,2925.6 L391.6,2993.6 L392.7,3007.9 L393.7,3008.6 L394.7,3019.5 L397.4,3023.6 L400.8,3016.1 L402.2,3019.5 L403.5,3019.5 L404.6,3023.6 L406.3,3016.1 L407.6,3016.1 L409.0,3019.5 L416.5,3023.6 L420.0,3022.2 L425.5,3023.7 L437.5,3020.4 L449.5,3023.7 L452.5,3020.4 L464.5,3023.7 L468.0,3022.6 L469.0,2976.7 L470.0,3021.9 L474.5,3020.4 L479.5,3023.7 L491.5,3020.4 L497.5,3023.7 L500.5,3020.4 L505.5,3023.7 L516.9,3020.4 L517.5,3017.1 L518.1,3020.4 L527.5,3023.7 L529.9,3020.4 L530.5,3013.8 L531.1,3020.4 L536.5,3023.7 L539.5,3020.4 L543.5,3023.7 L555.5,3023.7 L559.5,3023.7 L571.5,3020.4 L583.5,3023.7 L587.5,3020.4 L599.5,3023.7 L603.5,3020.4 L606.5,3023.7 L610.5,3020.4 L618.5,3023.7 L622.5,3020.4 L630.5,3023.7 L642.5,3020.4 L646.5,3023.7 L654.5,3020.4 L660.5,3023.7 L663.9,3020.4 L664.5,3017.1 L665.1,3020.4 L676.5,3023.7 L682.5,3020.4 L694.5,3023.7 L697.5,3020.4 L709.5,3023.7 L713.5,3020.4 L717.5,3023.7 L729.5,3020.4 L739.5,3023.7 L742.5,3020.4 L743.0,3020.6 L744.0,2989.1 L745.0,3021.2 L747.0,3021.9 L748.0,3003.0 L749.0,3022.6 L752.5,3023.7 L756.5,3020.4 L766.5,3023.7 L772.5,3020.4 L778.5,3023.7 L788.5,3020.4 L798.5,3023.7 L803.5,3020.4 L814.0,3023.3 L815.0,3009.9 L816.0,3023.3 L816.5,3022.9 L817.5,2993.3 L818.5,3021.2 L819.5,3020.4 L823.5,3023.7 L833.5,3020.4 L837.5,3023.7 L840.5,3020.4 L850.5,3023.7 L856.5,3020.4 L862.5,3023.7 L865.5,3020.4 L877.5,3023.7 L887.5,3020.4 L893.5,3023.7 L897.5,3020.4 L907.5,3023.7 L916.9,3020.4 L917.5,3017.1 L918.1,3020.4 L922.5,3023.7 L925.5,3020.4 L931.5,3023.7 L941.5,3020.4 L951.5,3023.7 L957.5,3020.4 L962.5,3023.7 L970.5,3020.4 L973.5,3023.7 L985.5,3020.4 L990.5,3023.7 L993.5,3020.4 L1001.5,3023.7 L1008.9,3020.4 L1009.5,3013.8 L1010.1,3020.4 L1012.5,3023.7 L1015.5,3020.4 L1023.5,3023.7 L1032.9,3020.4 L1033.5,3017.1 L1034.1,3020.4 L1041.5,3023.7 L1050.9,3020.4 L1051.5,3013.8 L1052.1,3020.4 L1061.5,3023.7 L1071.5,3020.4 L1081.0,3023.0 L1082.0,3015.4 L1083.0,3023.6 L1083.5,3023.7 L1088.5,3020.4 L1100.5,3023.7 L1108.5,3020.4 L1116.5,3023.7 L1126.5,3020.4 L1130.5,3023.7 L1136.5,3020.4 L1139.5,3023.7 L1142.5,3020.4 L1152.5,3023.7 L1158.5,3020.4 L1168.5,3023.7 L1171.5,3020.4 L1183.5,3023.7 L1191.5,3020.4 L1199.5,3023.7 L1205.5,3020.4 L1217.5,3023.7 L1223.5,3020.4 L1235.5,3023.7 L1240.5,3020.4 L1243.5,3023.7 L1255.5,3020.4 L1267.5,3023.7 L1277.5,3020.4 L1287.5,3023.7 L1296.9,3020.4 L1297.5,3017.1 L1298.1,3020.4 L1303.5,3023.7 L1307.5,3020.4 L1319.5,3023.7 L1327.5,3020.4 L1337.5,3023.7 L1347.5,3020.4 L1353.5,3023.7 L1359.0,3021.3 L1360.0,3014.0 L1361.0,3019.8 L1361.5,3017.1 L1362.1,3020.4 L1365.5,3023.7 L1366.0,3023.2 L1367.0,3004.4 L1368.0,3021.3 L1368.9,3020.4 L1369.5,3017.1 L1370.1,3020.4 L1381.5,3023.7 L1389.5,3020.4 L1401.5,3023.7 L1404.5,3020.4 L1412.5,3023.7 L1415.5,3020.4 L1415.5,3023.7Z" fill="#0000ff" stroke="#00008b" stroke-width="0.6" stroke-linejoin="round"/>
<path d="M259,2885.42 H271.5 M271,2885.42 V3023.72 M259,3023.72 H271" fill="none" stroke="#222" stroke-width="1"/>
<text x="252.6" y="2888.4" font-size="13.2" text-anchor="end" fill="#222">100</text>
<text x="252.6" y="3026.7" font-size="13.2" text-anchor="end" fill="#222">0</text>
<text x="73.5" y="2960.4" font-size="23.3" fill="#000">GSM2481673</text>
<path d="M279.7,3177.7 L279.7,3177.7 L290.4,3108.9 L407.5,3177.7 L523.9,3039.4 L535.9,3177.7 L546.0,3108.9 L556.0,3177.7 L566.0,3108.9 L598.1,3177.7 L631.6,3108.9 L681.1,3177.7 L728.6,3108.9 L729.9,3039.4 L731.2,3108.9 L745.3,3177.7 L758.7,3108.9 L761.3,3108.9 L783.4,3177.7 L804.8,3108.9 L810.2,3177.7 L816.9,3108.9 L845.6,3177.7 L873.8,3108.9 L913.9,3177.7 L954.0,3108.9 L955.4,3039.4 L1129.3,3177.7 L1305.2,3108.9 L1334.7,3177.7 L1363.4,3108.9 L1388.2,3177.7 L1413.6,3108.9 L1418.3,3177.7 L1418.3,3177.7Z" fill="#0000ff" stroke="#00008b" stroke-width="0.6" stroke-linejoin="round"/>
<path d="M259,3039.36 H271.5 M271,3039.36 V3177.66 M259,3177.66 H271" fill="none" stroke="#222" stroke-width="1"/>
<text x="252.6" y="3042.4" font-size="13.2" text-anchor="end" fill="#222">76</text>
<text x="252.6" y="3180.7" font-size="13.2" text-anchor="end" fill="#222">0</text>
<text x="73.5" y="3114.3" font-size="23.3" fill="#000">GSM2481672</text>
<path d="M271.5,3331.6 L271.5,3318.1 L272.0,3320.8 L273.0,3304.7 L274.0,3331.6 L274.0,3331.6 L279.4,3318.1 L280.0,3304.7 L280.6,3318.1 L286.0,3331.6 L290.0,3318.1 L298.0,3331.6 L300.5,3318.1 L303.5,3331.6 L309.5,3318.1 L315.5,3331.6 L317.4,3318.1 L318.0,3291.2 L318.6,3318.1 L324.0,3331.6 L325.0,3329.4 L326.0,3304.7 L327.0,3324.9 L330.0,3318.1 L332.5,3331.6 L335.5,3318.1 L338.0,3331.6 L340.5,3318.1 L345.5,3331.6 L351.5,3318.1 L354.0,3331.6 L355.9,3318.1 L356.5,3304.7 L357.1,3318.1 L358.5,3331.6 L360.0,3331.6 L366.5,3317.3 L369.2,3331.6 L371.6,3317.3 L373.6,3328.9 L375.6,3317.3 L379.4,3331.6 L382.8,3317.3 L383.5,3303.7 L384.5,3303.0 L385.5,3275.8 L386.9,3287.4 L387.6,3317.3 L388.4,3240.4 L389.3,3192.8 L390.3,3286.0 L391.6,3318.0 L392.7,3322.7 L393.3,3318.0 L394.4,3328.9 L396.4,3317.3 L397.4,3326.1 L398.4,3317.3 L400.8,3317.3 L402.5,3317.3 L408.6,3331.6 L414.8,3318.0 L415.4,3303.0 L416.5,3318.0 L420.0,3318.0 L420.5,3331.6 L427.9,3318.1 L428.5,3304.7 L429.1,3318.1 L432.5,3331.6 L434.5,3318.1 L438.5,3331.6 L440.9,3318.1 L441.5,3304.7 L442.1,3318.1 L447.5,3331.6 L454.9,3318.1 L455.5,3304.7 L456.1,3318.1 L458.0,3331.6 L460.5,3318.1 L462.0,3322.2 L463.0,3304.7 L464.0,3327.6 L465.5,3331.6 L468.5,3318.1 L471.5,3331.6 L473.9,3318.1 L474.5,3304.7 L475.1,3318.1 L477.5,3331.6 L479.9,3318.1 L480.5,3277.8 L481.1,3318.1 L484.5,3331.6 L487.5,3318.1 L495.5,3331.6 L500.5,3318.1 L503.5,3331.6 L508.5,3318.1 L511.0,3331.6 L514.0,3318.1 L519.0,3331.6 L526.4,3318.1 L527.0,3304.7 L527.6,3318.1 L529.5,3331.6 L533.9,3318.1 L534.5,3304.7 L535.1,3318.1 L537.0,3321.6 L538.0,3277.8 L539.0,3325.2 L542.5,3331.6 L544.5,3318.1 L547.5,3331.6 L550.0,3318.1 L558.0,3331.6 L566.0,3318.1 L570.0,3331.6 L575.4,3318.1 L576.0,3304.7 L576.6,3318.1 L581.0,3331.6 L582.9,3318.1 L583.5,3291.2 L584.1,3318.1 L585.5,3331.6 L589.5,3318.1 L594.5,3331.6 L601.0,3320.7 L602.0,3304.7 L603.0,3319.5 L607.5,3331.6 L610.5,3318.1 L614.5,3331.6 L621.9,3318.1 L622.5,3304.7 L623.1,3318.1 L630.5,3331.6 L638.5,3318.1 L643.5,3331.6 L648.5,3318.1 L651.0,3331.6 L653.4,3318.1 L654.0,3304.7 L654.6,3318.1 L658.7,3328.4 L659.7,3291.2 L660.7,3328.8 L663.4,3318.1 L664.0,3304.7 L664.6,3318.1 L668.0,3331.6 L670.5,3318.1 L673.5,3331.6 L676.9,3318.1 L677.5,3304.7 L678.1,3318.1 L683.5,3331.6 L685.9,3318.1 L686.5,3304.7 L687.1,3318.1 L690.5,3331.6 L694.5,3318.1 L697.5,3331.6 L703.5,3318.1 L705.5,3331.6 L710.5,3318.1 L714.5,3331.6 L720.5,3318.1 L726.5,3331.6 L733.9,3318.1 L734.5,3304.7 L735.1,3318.1 L737.0,3331.6 L742.0,3318.1 L743.0,3320.8 L744.0,3291.2 L745.0,3326.2 L747.0,3331.6 L749.5,3318.1 L752.0,3331.6 L759.4,3318.1 L760.0,3304.7 L760.6,3318.1 L762.0,3331.6 L764.5,3318.1 L765.7,3324.6 L766.7,3291.2 L767.7,3329.5 L771.4,3318.1 L772.0,3291.2 L772.6,3318.1 L778.0,3331.6 L779.4,3318.1 L780.0,3304.7 L780.6,3318.1 L788.0,3331.6 L791.0,3318.1 L794.0,3323.2 L795.0,3304.7 L796.0,3326.6 L799.0,3331.6 L807.0,3318.1 L811.0,3331.6 L813.0,3318.1 L816.0,3331.6 L822.0,3318.1 L830.0,3331.6 L834.0,3318.1 L837.0,3331.6 L840.0,3318.1 L843.0,3331.6 L846.4,3318.1 L847.0,3304.7 L847.6,3318.1 L850.0,3331.6 L852.5,3318.1 L855.0,3326.6 L856.0,3291.2 L857.0,3329.4 L859.5,3318.1 L865.5,3331.6 L873.5,3318.1 L878.5,3331.6 L884.5,3318.1 L887.5,3331.6 L889.5,3318.1 L897.5,3331.6 L905.5,3318.1 L908.5,3331.6 L912.9,3318.1 L913.5,3291.2 L914.1,3318.1 L918.5,3331.6 L921.0,3324.9 L922.0,3291.2 L923.0,3319.5 L923.5,3318.1 L928.5,3331.6 L935.9,3318.1 L936.5,3291.2 L937.1,3318.1 L941.5,3331.6 L946.9,3318.1 L947.5,3304.7 L948.1,3318.1 L955.5,3331.6 L961.5,3318.1 L963.5,3331.6 L966.5,3318.1 L972.5,3331.6 L976.5,3318.1 L984.5,3331.6 L988.5,3318.1 L993.5,3331.6 L996.5,3318.1 L1002.5,3331.6 L1007.9,3318.1 L1008.5,3304.7 L1009.1,3318.1 L1010.5,3331.6 L1013.9,3318.1 L1014.5,3277.8 L1015.1,3318.1 L1016.5,3331.6 L1017.9,3318.1 L1018.5,3304.7 L1019.1,3318.1 L1020.5,3331.6 L1024.9,3318.1 L1025.5,3277.8 L1026.1,3318.1 L1028.0,3331.6 L1030.4,3318.1 L1031.0,3304.7 L1031.6,3318.1 L1033.0,3331.6 L1035.5,3318.1 L1041.5,3331.6 L1047.5,3318.1 L1052.5,3331.6 L1057.5,3318.1 L1060.0,3331.6 L1065.0,3318.1 L1070.0,3331.6 L1076.0,3318.1 L1084.0,3331.6 L1085.4,3318.1 L1086.0,3304.7 L1086.6,3318.1 L1092.0,3331.6 L1094.5,3318.1 L1098.5,3331.6 L1100.4,3318.1 L1101.0,3277.8 L1101.6,3318.1 L1106.0,3331.6 L1111.0,3318.1 L1111.6,3320.2 L1112.6,3291.2 L1113.6,3326.9 L1115.0,3331.6 L1116.9,3318.1 L1117.5,3291.2 L1118.1,3318.1 L1120.5,3331.6 L1122.5,3318.1 L1128.5,3331.6 L1129.9,3318.1 L1130.5,3291.2 L1131.1,3318.1 L1136.5,3331.6 L1139.0,3318.1 L1142.0,3331.6 L1145.4,3318.1 L1146.0,3304.7 L1146.6,3318.1 L1150.0,3331.6 L1154.4,3318.1 L1155.0,3304.7 L1155.6,3318.1 L1158.0,3331.6 L1163.4,3318.1 L1164.0,3304.7 L1164.6,3318.1 L1170.0,3331.6 L1172.5,3318.1 L1177.5,3331.6 L1180.5,3324.1 L1181.5,3291.2 L1182.5,3319.1 L1182.9,3318.1 L1183.5,3304.7 L1184.1,3318.1 L1189.5,3331.6 L1193.5,3318.1 L1198.5,3331.6 L1201.9,3318.1 L1202.5,3291.2 L1203.1,3318.1 L1205.0,3331.6 L1207.0,3318.1 L1209.0,3331.6 L1214.0,3318.1 L1216.0,3331.6 L1218.5,3318.1 L1222.5,3331.6 L1225.0,3318.1 L1229.0,3331.6 L1237.0,3318.1 L1241.0,3331.6 L1247.0,3318.1 L1250.0,3331.6 L1251.9,3318.1 L1252.5,3304.7 L1253.1,3318.1 L1257.5,3331.6 L1259.4,3318.1 L1260.0,3291.2 L1260.6,3318.1 L1268.0,3331.6 L1273.4,3318.1 L1274.0,3304.7 L1274.6,3318.1 L1277.0,3331.6 L1281.4,3318.1 L1282.0,3304.7 L1282.6,3318.1 L1286.0,3331.6 L1292.0,3318.1 L1294.5,3331.6 L1295.9,3318.1 L1296.5,3304.7 L1297.1,3318.1 L1299.5,3331.6 L1304.5,3318.1 L1310.5,3331.6 L1313.0,3318.1 L1315.0,3331.6 L1319.0,3318.1 L1325.0,3331.6 L1327.5,3318.1 L1331.5,3331.6 L1335.5,3318.1 L1338.5,3331.6 L1344.5,3318.1 L1347.0,3331.6 L1352.4,3318.1 L1353.0,3304.7 L1353.6,3318.1 L1358.0,3331.6 L1359.0,3328.2 L1360.0,3291.2 L1361.0,3321.5 L1362.0,3318.1 L1366.0,3331.6 L1368.0,3318.1 L1373.0,3331.6 L1376.0,3318.1 L1378.0,3331.6 L1380.0,3318.1 L1388.0,3331.6 L1390.4,3318.1 L1391.0,3304.7 L1391.6,3318.1 L1394.0,3331.6 L1399.0,3318.1 L1401.0,3331.6 L1403.5,3318.1 L1408.5,3331.6 L1412.9,3318.1 L1413.5,3304.7 L1414.1,3318.1 L1419.5,3331.6 L1419.5,3331.6Z" fill="#0000ff" stroke="#00008b" stroke-width="0.6" stroke-linejoin="round"/>
<path d="M259,3193.30 H271.5 M271,3193.30 V3331.60 M259,3331.60 H271" fill="none" stroke="#222" stroke-width="1"/>
<text x="252.6" y="3196.3" font-size="13.2" text-anchor="end" fill="#222">37</text>
<text x="252.6" y="3334.6" font-size="13.2" text-anchor="end" fill="#222">0</text>
<text x="73.5" y="3268.3" font-size="23.3" fill="#000">GSM2481671</text>
<path d="M519.2,3485.5 L519.2,3485.5 L770.0,3416.9 L778.1,3480.5 L786.1,3416.9 L1017.6,3485.5 L1248.4,3416.9 L1249.7,3347.4 L1336.7,3485.5 L1336.7,3485.5Z" fill="#0000ff" stroke="#00008b" stroke-width="0.6" stroke-linejoin="round"/>
<path d="M259,3347.24 H271.5 M271,3347.24 V3485.54 M259,3485.54 H271" fill="none" stroke="#222" stroke-width="1"/>
<text x="252.6" y="3350.2" font-size="13.2" text-anchor="end" fill="#222">258</text>
<text x="252.6" y="3488.5" font-size="13.2" text-anchor="end" fill="#222">0</text>
<text x="73.5" y="3422.2" font-size="23.3" fill="#000">GSM2481670</text>
<path d="M271.5,3639.5 L271.5,3624.1 L273.0,3624.1 L274.0,3614.7 L275.0,3578.2 L276.0,3621.6 L276.3,3624.1 L277.9,3608.7 L279.4,3639.5 L280.7,3577.8 L282.2,3624.1 L283.6,3639.5 L284.9,3608.7 L286.3,3624.1 L288.0,3624.1 L289.4,3639.5 L290.9,3624.1 L292.1,3593.2 L293.6,3624.1 L295.3,3624.1 L297.0,3608.7 L298.3,3624.1 L300.0,3624.1 L301.1,3608.7 L302.4,3624.1 L303.8,3624.1 L305.3,3624.1 L306.7,3624.1 L308.0,3608.7 L309.6,3639.5 L311.1,3608.7 L312.9,3608.7 L314.6,3624.1 L316.2,3608.7 L317.5,3608.7 L318.9,3624.1 L320.2,3593.2 L321.8,3608.7 L323.0,3624.1 L324.2,3624.1 L325.5,3608.7 L326.8,3562.4 L327.9,3624.1 L329.5,3624.1 L331.1,3608.7 L332.6,3624.1 L333.6,3577.8 L335.0,3624.1 L336.1,3624.1 L337.4,3624.1 L338.9,3608.7 L340.4,3608.7 L342.0,3608.7 L343.0,3578.2 L344.0,3608.4 L344.7,3593.2 L346.2,3624.1 L347.4,3624.1 L349.1,3639.5 L350.6,3577.8 L351.7,3624.1 L353.0,3608.7 L354.6,3593.2 L356.1,3624.1 L357.5,3624.1 L359.0,3624.1 L360.7,3624.1 L362.4,3624.1 L363.5,3639.5 L365.0,3593.2 L366.1,3639.5 L367.4,3608.7 L368.6,3624.1 L369.8,3639.5 L371.0,3624.1 L372.5,3608.7 L374.0,3593.2 L375.4,3624.1 L377.0,3624.1 L378.7,3639.5 L380.4,3624.1 L381.6,3624.1 L383.1,3624.1 L384.2,3624.1 L385.9,3608.7 L387.2,3608.7 L387.7,3621.8 L388.7,3501.2 L389.7,3624.7 L389.8,3624.1 L391.5,3639.5 L393.1,3639.5 L394.8,3608.7 L396.5,3608.7 L397.6,3593.2 L399.3,3608.7 L400.9,3608.7 L402.3,3624.1 L403.5,3624.1 L404.7,3624.1 L406.0,3639.5 L407.6,3624.1 L409.1,3608.7 L410.8,3624.1 L412.1,3577.8 L413.2,3624.1 L414.7,3624.1 L415.9,3577.8 L417.6,3624.1 L419.0,3596.9 L420.0,3578.2 L421.0,3613.1 L421.8,3624.1 L423.0,3624.1 L424.5,3624.1 L425.7,3608.7 L427.4,3608.7 L428.8,3639.5 L430.2,3639.5 L431.8,3639.5 L433.4,3639.5 L434.8,3624.1 L436.2,3624.1 L437.3,3624.1 L438.8,3624.1 L440.5,3624.1 L441.9,3639.5 L443.0,3624.1 L444.7,3593.2 L446.0,3624.1 L447.2,3624.1 L448.7,3624.1 L450.3,3624.1 L451.5,3639.5 L453.0,3608.7 L454.7,3624.1 L456.0,3608.7 L457.2,3624.1 L458.8,3639.5 L460.0,3639.5 L461.8,3624.1 L462.7,3624.1 L463.7,3562.4 L464.7,3624.1 L464.9,3624.1 L466.4,3608.7 L467.6,3624.1 L469.0,3639.5 L470.3,3624.1 L471.6,3593.2 L472.6,3624.1 L474.1,3577.8 L475.5,3639.5 L477.0,3624.1 L478.0,3639.5 L479.4,3624.1 L481.1,3639.5 L482.3,3624.1 L483.8,3608.7 L485.0,3624.1 L486.7,3639.5 L488.2,3608.7 L489.4,3593.2 L491.0,3608.7 L492.1,3624.1 L493.5,3608.7 L495.2,3639.5 L496.6,3608.7 L498.1,3593.2 L499.8,3639.5 L501.6,3624.1 L503.0,3639.5 L504.3,3639.5 L505.4,3639.5 L506.7,3608.7 L508.2,3624.1 L509.4,3624.1 L510.6,3624.1 L512.2,3624.1 L513.3,3624.1 L514.5,3639.5 L515.6,3639.5 L516.9,3608.7 L518.3,3639.5 L520.0,3577.8 L521.2,3639.5 L522.6,3577.8 L524.2,3639.5 L525.6,3577.8 L527.0,3624.1 L528.3,3624.1 L529.5,3608.7 L530.8,3593.2 L532.5,3624.1 L534.1,3624.1 L535.2,3608.7 L536.4,3608.7 L538.0,3624.1 L539.7,3624.1 L540.9,3624.1 L542.4,3593.2 L543.8,3624.1 L545.1,3624.1 L546.2,3624.1 L547.7,3608.7 L549.4,3608.7 L550.7,3608.7 L552.1,3624.1 L553.6,3624.1 L554.7,3639.5 L556.2,3593.2 L557.5,3624.1 L559.2,3624.1 L560.4,3624.1 L561.9,3608.7 L563.4,3624.1 L564.5,3624.1 L565.6,3624.1 L566.8,3577.8 L567.9,3624.1 L569.1,3624.1 L570.8,3608.7 L571.9,3624.1 L573.3,3593.2 L574.7,3624.1 L576.2,3639.5 L577.8,3624.1 L578.9,3608.7 L580.5,3624.1 L582.2,3639.5 L583.8,3624.1 L585.3,3624.1 L586.6,3624.1 L587.9,3608.7 L589.2,3624.1 L590.5,3593.2 L592.0,3577.8 L593.6,3624.1 L595.1,3624.1 L596.5,3639.5 L598.1,3624.1 L599.7,3593.2 L601.4,3608.7 L602.5,3624.1 L603.6,3624.1 L604.9,3624.1 L606.2,3593.2 L607.7,3639.5 L609.1,3608.7 L610.2,3608.7 L611.7,3624.1 L613.4,3624.1 L615.0,3624.1 L616.7,3624.1 L618.2,3577.8 L619.0,3606.0 L620.0,3578.2 L621.0,3635.5 L621.9,3624.1 L623.5,3639.5 L624.6,3608.7 L626.0,3624.1 L627.7,3577.8 L629.2,3639.5 L630.7,3608.7 L631.8,3577.8 L633.2,3639.5 L634.7,3624.1 L636.0,3624.1 L637.1,3639.5 L638.4,3593.2 L639.0,3616.7 L640.0,3578.2 L641.0,3609.4 L642.6,3624.1 L644.1,3608.7 L645.4,3639.5 L646.7,3624.1 L648.1,3608.7 L649.7,3639.5 L651.1,3608.7 L652.3,3593.2 L653.9,3639.5 L655.5,3639.5 L656.6,3618.9 L657.6,3562.4 L658.6,3622.6 L658.8,3624.1 L660.2,3608.7 L661.6,3624.1 L662.9,3624.1 L664.2,3608.7 L665.8,3624.1 L666.9,3624.1 L668.2,3624.1 L669.8,3624.1 L671.4,3624.1 L673.0,3624.1 L674.0,3593.2 L675.6,3608.7 L677.0,3624.1 L678.2,3624.1 L679.6,3624.1 L680.7,3639.5 L681.8,3624.1 L682.9,3608.7 L684.6,3608.7 L685.7,3608.7 L687.1,3624.1 L688.8,3608.7 L690.3,3608.7 L691.6,3562.4 L692.7,3624.1 L694.0,3608.7 L695.5,3608.7 L696.9,3624.1 L698.4,3624.1 L700.0,3624.1 L701.2,3624.1 L702.4,3639.5 L703.7,3624.1 L705.2,3593.2 L706.7,3624.1 L708.2,3608.7 L709.7,3624.1 L711.3,3608.7 L712.5,3624.1 L714.1,3593.2 L715.8,3639.5 L717.4,3624.1 L718.9,3639.5 L720.2,3608.7 L721.6,3608.7 L723.3,3624.1 L724.6,3624.1 L725.9,3624.1 L727.5,3624.1 L728.9,3624.1 L730.6,3624.1 L732.0,3624.1 L733.3,3624.1 L734.7,3624.1 L735.9,3593.2 L737.2,3608.7 L738.6,3639.5 L740.0,3593.2 L741.0,3633.5 L742.0,3546.6 L743.0,3580.2 L744.4,3593.2 L745.0,3593.2 L746.0,3562.4 L747.0,3571.2 L747.3,3562.4 L748.4,3593.2 L749.0,3593.2 L750.0,3562.4 L751.0,3593.2 L751.4,3593.2 L752.6,3624.1 L753.9,3624.1 L755.3,3639.5 L756.4,3593.2 L757.6,3624.1 L758.7,3624.1 L760.2,3639.5 L761.8,3639.5 L763.1,3624.1 L764.5,3639.5 L766.2,3593.2 L767.8,3624.1 L769.3,3624.1 L770.4,3639.5 L771.8,3624.1 L773.0,3624.1 L774.3,3577.8 L775.7,3624.1 L776.8,3624.1 L777.9,3608.7 L779.2,3624.1 L780.9,3624.1 L782.6,3577.8 L784.0,3639.5 L785.4,3624.1 L786.5,3624.1 L788.0,3593.2 L789.4,3639.5 L790.9,3624.1 L792.5,3624.1 L794.0,3639.5 L795.6,3624.1 L796.0,3624.1 L797.0,3578.2 L798.0,3601.7 L798.3,3593.2 L800.0,3639.5 L801.3,3608.7 L802.4,3608.7 L803.8,3608.7 L805.5,3624.1 L806.7,3593.2 L808.4,3624.1 L809.6,3639.5 L810.7,3593.2 L812.3,3624.1 L813.8,3624.1 L815.1,3639.5 L816.6,3593.2 L818.3,3624.1 L820.0,3639.5 L821.1,3608.7 L822.4,3608.7 L823.5,3624.1 L824.9,3593.2 L826.2,3608.7 L827.7,3608.7 L829.1,3593.2 L830.5,3624.1 L831.6,3608.7 L833.0,3608.7 L834.4,3608.7 L835.9,3624.1 L837.2,3624.1 L838.8,3624.1 L840.0,3624.1 L841.2,3624.1 L842.8,3593.2 L844.5,3639.5 L845.8,3608.7 L847.2,3624.1 L848.9,3639.5 L850.2,3639.5 L851.3,3624.1 L852.7,3624.1 L853.9,3593.2 L855.4,3624.1 L856.6,3608.7 L857.8,3624.1 L859.4,3624.1 L860.9,3608.7 L862.1,3593.2 L863.8,3624.1 L865.3,3624.1 L866.6,3608.7 L868.2,3608.7 L869.6,3577.8 L870.9,3608.7 L872.1,3577.8 L873.8,3624.1 L875.4,3608.7 L877.1,3608.7 L878.3,3624.1 L879.4,3624.1 L880.7,3562.4 L881.9,3624.1 L883.6,3624.1 L884.9,3608.7 L886.5,3639.5 L887.8,3639.5 L888.9,3639.5 L890.3,3608.7 L891.7,3639.5 L893.0,3624.1 L894.7,3624.1 L896.1,3624.1 L897.2,3624.1 L898.7,3624.1 L899.8,3624.1 L901.4,3593.2 L902.9,3608.7 L904.4,3624.1 L905.7,3624.1 L906.8,3639.5 L908.2,3639.5 L909.3,3624.1 L910.5,3624.1 L911.8,3639.5 L913.0,3624.1 L914.2,3624.1 L915.9,3608.7 L917.0,3593.2 L918.4,3624.1 L919.7,3608.7 L920.9,3593.2 L922.4,3624.1 L923.9,3624.1 L925.1,3624.1 L926.5,3624.1 L927.8,3624.1 L929.0,3624.1 L929.0,3624.1 L930.0,3562.4 L931.0,3624.1 L931.6,3624.1 L933.1,3624.1 L934.6,3624.1 L936.1,3624.1 L937.2,3593.2 L938.4,3593.2 L939.6,3608.7 L941.2,3624.1 L942.4,3577.8 L943.6,3624.1 L945.1,3608.7 L946.8,3608.7 L948.0,3639.5 L949.2,3608.7 L950.3,3624.1 L951.5,3624.1 L953.0,3624.1 L954.0,3578.2 L955.0,3628.5 L955.3,3624.1 L956.8,3624.1 L958.2,3624.1 L959.5,3608.7 L960.9,3624.1 L962.2,3624.1 L963.3,3639.5 L964.5,3624.1 L966.0,3624.1 L967.1,3608.7 L968.5,3608.7 L970.0,3639.5 L971.1,3624.1 L972.5,3593.2 L974.0,3639.5 L975.0,3629.5 L976.0,3578.2 L977.0,3623.2 L978.4,3608.7 L979.6,3608.7 L981.1,3608.7 L982.6,3608.7 L984.1,3577.8 L985.7,3624.1 L987.1,3624.1 L988.4,3624.1 L989.5,3639.5 L991.2,3639.5 L992.5,3624.1 L993.7,3639.5 L995.3,3624.1 L996.5,3593.2 L998.2,3639.5 L999.6,3624.1 L1001.1,3608.7 L1002.4,3608.7 L1003.5,3624.1 L1004.8,3624.1 L1006.5,3624.1 L1008.1,3624.1 L1009.5,3624.1 L1011.0,3624.1 L1012.3,3593.2 L1013.8,3639.5 L1015.3,3608.7 L1016.4,3639.5 L1017.5,3624.1 L1018.9,3624.1 L1020.4,3624.1 L1021.8,3624.1 L1022.9,3624.1 L1024.3,3639.5 L1025.9,3608.7 L1027.1,3577.8 L1028.5,3624.1 L1029.9,3624.1 L1031.1,3624.1 L1032.3,3639.5 L1034.0,3624.1 L1035.3,3639.5 L1036.5,3624.1 L1038.0,3624.1 L1039.6,3624.1 L1041.2,3639.5 L1042.7,3624.1 L1044.2,3624.1 L1045.7,3624.1 L1047.3,3624.1 L1048.6,3624.1 L1050.2,3577.8 L1051.6,3577.8 L1052.8,3624.1 L1054.3,3608.7 L1055.9,3624.1 L1057.6,3624.1 L1059.2,3608.7 L1060.4,3624.1 L1061.7,3639.5 L1062.9,3608.7 L1064.2,3624.1 L1065.6,3608.7 L1067.3,3639.5 L1068.9,3593.2 L1070.3,3577.8 L1071.4,3608.7 L1073.0,3639.5 L1074.5,3608.7 L1075.7,3593.2 L1077.4,3624.1 L1079.1,3624.1 L1080.8,3639.5 L1081.9,3624.1 L1083.1,3624.1 L1084.7,3608.7 L1085.8,3608.7 L1087.2,3624.1 L1088.5,3624.1 L1090.2,3593.2 L1091.4,3593.2 L1092.7,3624.1 L1094.1,3593.2 L1095.8,3624.1 L1097.3,3639.5 L1098.9,3593.2 L1100.0,3624.1 L1101.2,3608.7 L1102.4,3608.7 L1103.6,3624.1 L1105.0,3624.1 L1106.0,3578.2 L1107.0,3618.6 L1108.0,3593.2 L1109.5,3624.1 L1110.8,3624.1 L1112.1,3562.4 L1113.8,3593.2 L1115.4,3593.2 L1117.1,3624.1 L1118.8,3624.1 L1120.0,3608.7 L1121.4,3624.1 L1123.1,3639.5 L1124.6,3608.7 L1126.2,3608.7 L1127.5,3639.5 L1128.9,3624.1 L1130.6,3608.7 L1132.2,3608.7 L1133.4,3593.2 L1134.7,3624.1 L1135.8,3624.1 L1137.6,3624.1 L1139.3,3624.1 L1140.8,3624.1 L1141.9,3624.1 L1143.6,3608.7 L1144.9,3624.1 L1146.4,3624.1 L1147.9,3577.8 L1149.5,3624.1 L1151.0,3624.1 L1152.4,3639.5 L1153.6,3624.1 L1154.8,3608.7 L1156.3,3624.1 L1157.8,3624.1 L1159.5,3639.5 L1161.2,3608.7 L1162.7,3608.7 L1163.8,3639.5 L1165.0,3624.1 L1166.4,3624.1 L1167.8,3593.2 L1169.5,3593.2 L1171.1,3624.1 L1172.4,3639.5 L1173.8,3608.7 L1175.2,3624.1 L1176.7,3624.1 L1178.1,3624.1 L1179.4,3639.5 L1180.5,3624.1 L1181.6,3624.1 L1183.2,3593.2 L1184.3,3608.7 L1185.9,3624.1 L1187.0,3608.7 L1188.3,3624.1 L1189.4,3608.7 L1190.6,3608.7 L1191.8,3577.8 L1192.8,3624.1 L1194.1,3608.7 L1195.6,3608.7 L1197.2,3624.1 L1198.7,3624.1 L1199.9,3624.1 L1201.3,3608.7 L1202.6,3639.5 L1203.7,3608.7 L1204.9,3608.7 L1206.6,3624.1 L1207.8,3608.7 L1209.1,3624.1 L1210.8,3608.7 L1212.3,3624.1 L1213.7,3608.7 L1215.0,3593.2 L1216.3,3624.1 L1217.5,3624.1 L1219.1,3608.7 L1220.2,3624.1 L1221.2,3624.1 L1222.6,3639.5 L1223.0,3628.6 L1224.0,3578.2 L1225.0,3582.7 L1225.2,3577.8 L1226.8,3608.7 L1228.5,3624.1 L1229.5,3624.1 L1231.0,3608.7 L1232.2,3639.5 L1233.8,3639.5 L1234.9,3639.5 L1236.2,3639.5 L1237.7,3608.7 L1239.3,3624.1 L1240.7,3639.5 L1242.3,3624.1 L1243.5,3608.7 L1244.7,3624.1 L1245.9,3593.2 L1247.4,3639.5 L1248.7,3639.5 L1249.8,3624.1 L1251.0,3624.1 L1252.5,3624.1 L1254.1,3608.7 L1255.4,3624.1 L1256.8,3624.1 L1257.8,3624.1 L1259.5,3624.1 L1260.8,3624.1 L1262.4,3639.5 L1264.0,3608.7 L1265.7,3624.1 L1266.9,3624.1 L1268.2,3624.1 L1269.4,3624.1 L1270.7,3639.5 L1272.0,3624.1 L1273.3,3639.5 L1274.7,3624.1 L1276.3,3624.1 L1277.6,3624.1 L1278.8,3624.1 L1280.2,3608.7 L1281.8,3593.2 L1283.3,3608.7 L1284.8,3608.7 L1286.5,3624.1 L1288.0,3639.5 L1289.7,3624.1 L1291.1,3624.1 L1292.7,3608.7 L1293.9,3593.2 L1295.6,3624.1 L1296.8,3608.7 L1298.2,3608.7 L1299.4,3639.5 L1300.4,3624.1 L1301.6,3624.1 L1302.9,3624.1 L1303.0,3621.6 L1304.0,3578.2 L1305.0,3603.2 L1306.1,3624.1 L1307.5,3608.7 L1308.7,3624.1 L1310.4,3639.5 L1312.0,3624.1 L1313.7,3639.5 L1315.0,3624.1 L1316.4,3624.1 L1317.9,3624.1 L1319.0,3608.7 L1320.4,3608.7 L1321.6,3593.2 L1323.0,3639.5 L1324.2,3624.1 L1325.5,3639.5 L1327.1,3624.1 L1328.7,3624.1 L1330.0,3624.1 L1331.7,3624.1 L1333.0,3639.5 L1334.1,3608.7 L1335.8,3624.1 L1337.3,3639.5 L1338.5,3624.1 L1339.7,3624.1 L1340.9,3624.1 L1342.0,3624.1 L1343.1,3624.1 L1344.3,3624.1 L1345.5,3608.7 L1347.1,3608.7 L1348.4,3624.1 L1349.8,3624.1 L1351.2,3624.1 L1352.7,3608.7 L1354.4,3624.1 L1356.0,3624.1 L1357.0,3578.2 L1358.0,3628.3 L1358.3,3624.1 L1359.4,3624.1 L1360.8,3624.1 L1362.0,3624.1 L1363.5,3624.1 L1365.2,3624.1 L1366.6,3639.5 L1367.9,3624.1 L1369.1,3562.4 L1370.3,3624.1 L1371.4,3608.7 L1372.8,3624.1 L1374.5,3608.7 L1376.1,3608.7 L1377.6,3593.2 L1378.8,3639.5 L1380.0,3624.1 L1381.5,3624.1 L1382.7,3624.1 L1383.9,3639.5 L1385.1,3624.1 L1386.8,3624.1 L1388.1,3624.1 L1389.2,3608.7 L1390.7,3608.7 L1392.1,3624.1 L1393.7,3639.5 L1395.2,3624.1 L1396.5,3624.1 L1398.0,3608.7 L1399.8,3608.7 L1401.0,3639.5 L1402.7,3608.7 L1404.2,3624.1 L1405.6,3624.1 L1407.3,3624.1 L1408.7,3608.7 L1410.3,3624.1 L1412.0,3639.5 L1413.2,3562.4 L1414.3,3577.8 L1415.7,3624.1 L1417.4,3624.1 L1418.6,3624.1 L1419.6,3593.2 L1421.1,3624.1 L1422.8,3624.1 L1422.8,3639.5Z" fill="#0000ff" stroke="#00008b" stroke-width="0.6" stroke-linejoin="round"/>
<path d="M259,3501.18 H271.5 M271,3501.18 V3639.48 M259,3639.48 H271" fill="none" stroke="#222" stroke-width="1"/>
<text x="252.6" y="3504.2" font-size="13.2" text-anchor="end" fill="#222">7</text>
<text x="252.6" y="3642.5" font-size="13.2" text-anchor="end" fill="#222">0</text>
<text x="73.5" y="3576.1" font-size="23.3" fill="#000">GSM2481669</text>
<path d="M271.9,3793.4 L271.9,3792.7 L275.2,3746.7 L277.9,3792.7 L280.2,3746.7 L281.8,3792.7 L283.5,3746.7 L284.8,3792.7 L286.1,3746.7 L288.7,3792.7 L291.7,3746.7 L293.6,3792.7 L296.0,3746.7 L298.3,3792.7 L300.9,3746.7 L304.2,3792.7 L307.5,3746.7 L315.7,3792.7 L323.9,3746.7 L332.1,3792.7 L334.4,3746.7 L344.3,3792.7 L353.5,3746.7 L356.8,3792.7 L361.7,3746.7 L368.3,3792.7 L373.9,3746.7 L389.7,3792.7 L404.5,3746.7 L405.5,3700.6 L406.4,3746.7 L411.0,3792.7 L419.3,3746.7 L420.3,3746.7 L420.9,3654.6 L421.6,3746.7 L422.6,3792.7 L425.2,3746.7 L429.1,3792.7 L432.4,3746.7 L436.4,3792.7 L440.6,3746.7 L443.9,3792.7 L447.2,3746.7 L449.5,3792.7 L452.1,3746.7 L456.1,3792.7 L460.4,3746.7 L463.7,3792.7 L466.9,3746.7 L470.2,3792.7 L472.9,3746.7 L473.5,3700.6 L474.2,3746.7 L476.5,3792.7 L478.8,3746.7 L479.4,3700.6 L480.1,3746.7 L482.4,3792.7 L486.7,3746.7 L490.0,3792.7 L491.9,3746.7 L492.6,3700.6 L493.3,3746.7 L495.6,3792.7 L497.5,3746.7 L498.2,3700.6 L498.8,3746.7 L501.5,3792.7 L504.8,3746.7 L507.4,3792.7 L509.0,3746.7 L509.7,3700.6 L510.4,3746.7 L513.0,3792.7 L515.6,3746.7 L516.3,3700.6 L517.9,3746.7 L527.8,3792.7 L537.6,3746.7 L545.9,3792.7 L550.8,3746.7 L551.5,3700.6 L552.4,3746.7 L554.1,3792.7 L556.0,3700.6 L556.1,3746.7 L556.7,3700.6 L562.6,3792.7 L568.5,3700.6 L575.1,3792.7 L580.7,3746.7 L581.3,3654.6 L582.0,3746.7 L596.1,3792.7 L610.3,3746.7 L612.6,3792.7 L615.2,3746.7 L620.1,3792.7 L623.4,3746.7 L625.7,3792.7 L628.3,3746.7 L631.0,3792.7 L635.9,3700.6 L640.5,3792.7 L643.1,3746.7 L650.7,3792.7 L656.3,3746.7 L657.3,3654.6 L658.3,3746.7 L660.6,3769.7 L662.9,3746.7 L666.2,3792.7 L667.8,3746.7 L672.7,3792.7 L678.3,3654.6 L679.3,3700.6 L685.9,3792.7 L690.8,3746.7 L692.5,3792.7 L694.8,3746.7 L696.7,3792.7 L700.0,3700.6 L702.7,3792.7 L705.0,3700.6 L707.3,3792.7 L709.9,3700.6 L711.2,3746.7 L713.2,3700.6 L713.8,3792.7 L715.5,3746.7 L717.8,3792.7 L720.4,3746.7 L723.7,3700.6 L725.4,3792.7 L728.6,3746.7 L736.2,3792.7 L742.8,3700.6 L748.4,3792.7 L750.0,3746.7 L752.3,3792.7 L754.9,3746.7 L756.6,3792.7 L758.9,3746.7 L761.5,3792.7 L763.8,3746.7 L768.1,3654.6 L769.1,3746.7 L773.7,3792.7 L779.6,3700.6 L781.3,3792.7 L783.9,3700.6 L786.2,3746.7 L788.8,3700.6 L791.1,3792.7 L793.4,3746.7 L796.7,3792.7 L799.3,3746.7 L801.0,3792.7 L802.6,3746.7 L805.9,3792.7 L807.6,3746.7 L810.9,3792.7 L812.5,3746.7 L817.4,3700.6 L819.1,3792.7 L822.4,3746.7 L824.0,3792.7 L825.6,3746.7 L827.3,3792.7 L831.6,3746.7 L847.3,3792.7 L863.7,3746.7 L865.4,3779.5 L867.0,3746.7 L867.7,3700.6 L869.0,3700.6 L870.3,3746.7 L872.9,3792.7 L876.2,3746.7 L881.8,3792.7 L887.7,3746.7 L893.3,3792.7 L898.3,3746.7 L899.9,3792.7 L901.5,3746.7 L905.8,3792.7 L909.8,3746.7 L912.1,3700.6 L913.1,3746.7 L916.3,3792.7 L919.6,3746.7 L921.6,3792.7 L922.9,3746.7 L926.9,3792.7 L930.2,3746.7 L932.1,3792.7 L934.4,3746.7 L939.4,3792.7 L944.3,3746.7 L946.6,3792.7 L950.9,3746.7 L953.5,3700.6 L954.5,3700.6 L955.8,3746.7 L957.4,3779.5 L958.4,3746.7 L965.0,3792.7 L971.6,3746.7 L975.5,3700.6 L977.2,3746.7 L985.4,3792.7 L994.3,3700.6 L996.9,3746.7 L999.2,3792.7 L1001.8,3700.6 L1003.5,3746.7 L1005.1,3700.6 L1006.8,3792.7 L1010.1,3746.7 L1011.7,3654.6 L1013.4,3700.6 L1021.6,3792.7 L1029.1,3746.7 L1031.4,3792.7 L1034.7,3746.7 L1038.0,3792.7 L1039.7,3700.6 L1041.3,3746.7 L1044.6,3746.7 L1047.2,3792.7 L1050.5,3746.7 L1059.4,3792.7 L1068.3,3700.6 L1070.9,3746.7 L1078.1,3792.7 L1086.7,3746.7 L1088.0,3746.7 L1094.6,3792.7 L1098.9,3746.7 L1100.5,3792.7 L1102.1,3746.7 L1103.8,3792.7 L1105.4,3746.7 L1107.1,3792.7 L1108.7,3746.7 L1120.2,3792.7 L1132.0,3747.3 L1134.7,3793.2 L1138.1,3747.3 L1140.5,3793.2 L1142.2,3747.3 L1144.9,3793.2 L1147.3,3701.1 L1149.0,3793.2 L1150.7,3747.3 L1156.8,3793.2 L1163.3,3747.3 L1169.4,3793.2 L1175.2,3747.3 L1189.8,3793.2 L1203.4,3747.3 L1206.1,3793.2 L1209.2,3747.3 L1214.7,3793.2 L1219.8,3747.3 L1223.2,3747.3 L1223.8,3701.1 L1224.5,3747.3 L1232.3,3793.2 L1239.1,3747.3 L1244.2,3793.2 L1248.3,3747.3 L1250.4,3784.1 L1251.0,3747.3 L1256.1,3793.2 L1259.6,3701.1 L1263.0,3793.2 L1266.4,3747.3 L1268.1,3747.3 L1269.8,3747.3 L1286.8,3793.2 L1300.0,3752.8 L1302.7,3701.1 L1304.5,3773.7 L1307.5,3747.3 L1312.7,3785.0 L1317.5,3747.3 L1321.0,3785.0 L1324.4,3747.3 L1331.4,3786.5 L1338.9,3655.0 L1344.2,3786.5 L1349.4,3747.3 L1354.6,3786.5 L1359.6,3747.3 L1361.4,3772.3 L1363.6,3747.3 L1368.6,3788.0 L1372.6,3747.3 L1374.1,3764.8 L1375.6,3747.3 L1377.8,3781.2 L1380.1,3747.3 L1381.6,3755.8 L1382.3,3747.3 L1383.1,3755.8 L1384.6,3747.3 L1386.1,3772.3 L1387.6,3701.1 L1389.8,3773.7 L1392.5,3747.3 L1395.8,3747.3 L1397.3,3749.8 L1398.8,3760.3 L1400.6,3701.1 L1401.8,3763.3 L1403.3,3747.3 L1406.3,3782.0 L1409.3,3747.3 L1412.3,3782.0 L1416.5,3701.1 L1417.5,3755.0 L1419.5,3701.1 L1422.0,3793.4 L1422.0,3793.4Z" fill="#0000ff" stroke="#00008b" stroke-width="0.6" stroke-linejoin="round"/>
<path d="M259,3655.12 H271.5 M271,3655.12 V3793.42 M259,3793.42 H271" fill="none" stroke="#222" stroke-width="1"/>
<text x="252.6" y="3658.1" font-size="13.2" text-anchor="end" fill="#222">9</text>
<text x="252.6" y="3796.4" font-size="13.2" text-anchor="end" fill="#222">0</text>
<text x="73.5" y="3730.1" font-size="23.3" fill="#000">GSM2481668</text>
<text x="1092.5" y="3903.5" font-size="36" text-anchor="middle" fill="#000">TCAIM</text>
<path d="M742,3957.5 H1422" stroke="#333" stroke-width="1.2"/>
<path d="M779.0,3947.5 L789.0,3957.5 L779.0,3967.5" fill="none" stroke="#444" stroke-width="1.1"/>
<path d="M816.8,3947.5 L826.8,3957.5 L816.8,3967.5" fill="none" stroke="#444" stroke-width="1.1"/>
<path d="M854.2,3947.5 L864.2,3957.5 L854.2,3967.5" fill="none" stroke="#444" stroke-width="1.1"/>
<path d="M891.7,3947.5 L901.7,3957.5 L891.7,3967.5" fill="none" stroke="#444" stroke-width="1.1"/>
<path d="M915.3,3947.5 L925.3,3957.5 L915.3,3967.5" fill="none" stroke="#444" stroke-width="1.1"/>
<path d="M957.1,3947.5 L967.1,3957.5 L957.1,3967.5" fill="none" stroke="#444" stroke-width="1.1"/>
<path d="M1003.0,3947.5 L1013.0,3957.5 L1003.0,3967.5" fill="none" stroke="#444" stroke-width="1.1"/>
<path d="M1048.9,3947.5 L1058.9,3957.5 L1048.9,3967.5" fill="none" stroke="#444" stroke-width="1.1"/>
<path d="M1087.6,3947.5 L1097.6,3957.5 L1087.6,3967.5" fill="none" stroke="#444" stroke-width="1.1"/>
<path d="M1125.2,3947.5 L1135.2,3957.5 L1125.2,3967.5" fill="none" stroke="#444" stroke-width="1.1"/>
<path d="M1162.4,3947.5 L1172.4,3957.5 L1162.4,3967.5" fill="none" stroke="#444" stroke-width="1.1"/>
<path d="M1199.2,3947.5 L1209.2,3957.5 L1199.2,3967.5" fill="none" stroke="#444" stroke-width="1.1"/>
<path d="M1236.3,3947.5 L1246.3,3957.5 L1236.3,3967.5" fill="none" stroke="#444" stroke-width="1.1"/>
<path d="M1265.6,3947.5 L1275.6,3957.5 L1265.6,3967.5" fill="none" stroke="#444" stroke-width="1.1"/>
<path d="M1291.2,3947.5 L1301.2,3957.5 L1291.2,3967.5" fill="none" stroke="#444" stroke-width="1.1"/>
<path d="M1329.1,3947.5 L1339.1,3957.5 L1329.1,3967.5" fill="none" stroke="#444" stroke-width="1.1"/>
<path d="M1366.7,3947.5 L1376.7,3957.5 L1366.7,3967.5" fill="none" stroke="#444" stroke-width="1.1"/>
<path d="M1404.6,3947.5 L1414.6,3957.5 L1404.6,3967.5" fill="none" stroke="#444" stroke-width="1.1"/>
<rect x="742.5" y="3934" width="2.5" height="47" fill="#000"/>
<rect x="746.0" y="3934" width="4.0" height="47" fill="#000"/>
<rect x="758.0" y="3934" width="17.5" height="47" fill="#000"/>
<rect x="939.5" y="3934" width="15.5" height="47" fill="#000"/>
<rect x="980.5" y="3934" width="7.0" height="47" fill="#000"/>
<rect x="1352.0" y="3934" width="9.5" height="47" fill="#000"/>
<rect x="905.1" y="3910" width="1.3" height="95" fill="#000"/>
<rect x="904.7" y="3934" width="2.2" height="47" fill="#000"/>
<rect x="933.7" y="3910" width="2.0" height="95" fill="#000"/>
<rect x="933.7" y="3934" width="2.0" height="47" fill="#000"/>
<rect x="938.6" y="3910" width="1.3" height="95" fill="#000"/>
<rect x="938.6" y="3934" width="1.3" height="47" fill="#000"/>
<rect x="969.6" y="3910" width="2.2" height="95" fill="#000"/>
<rect x="969.6" y="3934" width="2.2" height="47" fill="#000"/>
<rect x="980.1" y="3910" width="1.3" height="95" fill="#000"/>
<rect x="980.1" y="3934" width="1.3" height="47" fill="#000"/>
<rect x="1029.0" y="3910" width="3.0" height="95" fill="#000"/>
<rect x="1028.5" y="3934" width="4.0" height="47" fill="#000"/>
<rect x="1277.9" y="3910" width="2.2" height="95" fill="#000"/>
<rect x="1277.9" y="3934" width="2.2" height="47" fill="#000"/>
<rect x="1312.3" y="3910" width="1.3" height="95" fill="#000"/>
<rect x="1311.9" y="3934" width="2.2" height="47" fill="#000"/>
<rect x="1315.9" y="3910" width="1.3" height="95" fill="#000"/>
<rect x="1315.5" y="3934" width="2.2" height="47" fill="#000"/>
<rect x="1351.0" y="3910" width="3.0" height="95" fill="#000"/>
<rect x="1351.0" y="3934" width="3.0" height="47" fill="#000"/>
<rect x="1359.1" y="3910" width="2.2" height="95" fill="#000"/>
<rect x="1359.1" y="3934" width="2.2" height="47" fill="#000"/>
<rect x="1420.4" y="3910" width="3.0" height="95" fill="#000"/>
<rect x="1420.2" y="3934" width="3.5" height="47" fill="#000"/>
<rect x="1261.4" y="3934" width="2.2" height="47" fill="#000"/>
<text x="88.5" y="4110" font-size="48.5" fill="#000">chr3</text>
<path d="M271,4062.5 H1423.5 M271,4120.5 H1423.5" stroke="#777" stroke-width="1.3" fill="none"/>
<path d="M370.3,4121 V4150" stroke="#333" stroke-width="1.2"/>
<path d="M566.0,4121 V4150" stroke="#333" stroke-width="1.2"/>
<path d="M761.6,4121 V4150" stroke="#333" stroke-width="1.2"/>
<path d="M957.3,4121 V4150" stroke="#333" stroke-width="1.2"/>
<path d="M1152.9,4121 V4150" stroke="#333" stroke-width="1.2"/>
<path d="M1348.6,4121 V4150" stroke="#333" stroke-width="1.2"/>
<path d="M370.3,4150 V4195 M1348.6,4150 V4195" stroke="#888" stroke-width="1"/>
<text x="370.3" y="4212" font-size="23" text-anchor="middle" fill="#000">44.3Mb</text>
<text x="1348.6" y="4212" font-size="23" text-anchor="middle" fill="#000">44.4Mb</text>
</svg></body></html>
